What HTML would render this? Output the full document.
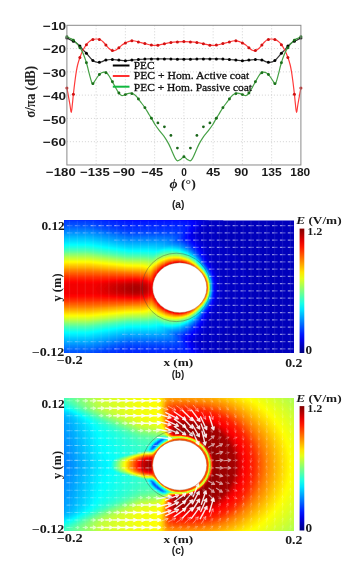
<!DOCTYPE html>
<html><head><meta charset="utf-8"><title>Figure</title>
<style>html,body{margin:0;padding:0;background:#fff;width:342px;height:564px;overflow:hidden}svg{display:block;filter:blur(0.5px)}</style>
</head><body>
<svg width="342" height="564" viewBox="0 0 342 564">
<rect width="342" height="564" fill="#fff"/>
<defs><linearGradient id="jetg" x1="0" y1="0" x2="0" y2="1"><stop offset="0.000" stop-color="#7f0000"/><stop offset="0.050" stop-color="#b20000"/><stop offset="0.100" stop-color="#e50000"/><stop offset="0.150" stop-color="#ff1900"/><stop offset="0.200" stop-color="#ff4c00"/><stop offset="0.250" stop-color="#ff7f00"/><stop offset="0.300" stop-color="#ffb200"/><stop offset="0.350" stop-color="#ffe500"/><stop offset="0.400" stop-color="#e5ff19"/><stop offset="0.450" stop-color="#b2ff4c"/><stop offset="0.500" stop-color="#7fff7f"/><stop offset="0.550" stop-color="#4cffb2"/><stop offset="0.600" stop-color="#19ffe5"/><stop offset="0.650" stop-color="#00e5ff"/><stop offset="0.700" stop-color="#00b2ff"/><stop offset="0.750" stop-color="#007fff"/><stop offset="0.800" stop-color="#004cff"/><stop offset="0.850" stop-color="#0019ff"/><stop offset="0.900" stop-color="#0000e5"/><stop offset="0.950" stop-color="#0000b2"/><stop offset="1.000" stop-color="#00007f"/></linearGradient></defs>
<path d="M96.15 25.30V164.98M125.40 25.30V164.98M154.65 25.30V164.98M183.90 25.30V164.98M213.15 25.30V164.98M242.40 25.30V164.98M271.65 25.30V164.98M66.90 48.58H300.90M66.90 71.86H300.90M66.90 95.14H300.90M66.90 118.42H300.90M66.90 141.70H300.90" stroke="#c8c8c8" stroke-width="0.8" stroke-dasharray="1 2" fill="none"/>
<g fill="none" stroke-linejoin="round">
<path d="M66.90 37.90C67.58 38.28 69.53 39.43 71.00 40.20C72.47 40.97 74.23 41.53 75.70 42.50C77.17 43.47 78.63 44.82 79.80 46.00C80.97 47.18 81.63 48.43 82.70 49.60C83.77 50.77 85.03 51.73 86.20 53.00C87.37 54.27 88.53 55.92 89.70 57.20C90.87 58.48 91.83 59.83 93.20 60.70C94.57 61.57 96.52 62.22 97.90 62.40C99.28 62.58 100.18 62.18 101.50 61.80C102.82 61.42 104.10 60.48 105.80 60.10C107.50 59.72 109.55 59.50 111.70 59.50C113.85 59.50 116.47 59.90 118.70 60.10C120.93 60.30 122.95 60.70 125.10 60.70C127.25 60.70 129.40 60.30 131.60 60.10C133.80 59.90 136.00 59.68 138.30 59.50C140.60 59.32 143.25 59.10 145.40 59.00C147.55 58.90 149.17 58.92 151.20 58.90C153.23 58.88 155.45 58.90 157.60 58.90C159.75 58.90 161.87 58.88 164.10 58.90C166.33 58.92 168.77 58.95 171.00 59.00C173.23 59.05 175.35 59.17 177.50 59.20C179.65 59.23 181.77 59.20 183.90 59.20C186.03 59.20 188.15 59.23 190.30 59.20C192.45 59.17 194.57 59.05 196.80 59.00C199.03 58.95 201.47 58.92 203.70 58.90C205.93 58.88 208.05 58.90 210.20 58.90C212.35 58.90 214.57 58.88 216.60 58.90C218.63 58.92 220.25 58.90 222.40 59.00C224.55 59.10 227.20 59.32 229.50 59.50C231.80 59.68 234.00 59.90 236.20 60.10C238.40 60.30 240.55 60.70 242.70 60.70C244.85 60.70 246.87 60.30 249.10 60.10C251.33 59.90 253.95 59.50 256.10 59.50C258.25 59.50 260.30 59.72 262.00 60.10C263.70 60.48 264.98 61.42 266.30 61.80C267.62 62.18 268.52 62.58 269.90 62.40C271.28 62.22 273.23 61.57 274.60 60.70C275.97 59.83 276.93 58.48 278.10 57.20C279.27 55.92 280.43 54.27 281.60 53.00C282.77 51.73 284.03 50.77 285.10 49.60C286.17 48.43 286.83 47.18 288.00 46.00C289.17 44.82 290.63 43.47 292.10 42.50C293.57 41.53 295.33 40.97 296.80 40.20C298.27 39.43 300.22 38.28 300.90 37.90" stroke="#333" stroke-width="1.2"/>
<path d="M66.90 88.00C67.15 89.33 67.90 93.25 68.40 96.00C68.90 98.75 69.42 101.78 69.90 104.50C70.38 107.22 70.88 112.38 71.30 112.30C71.72 112.22 72.08 106.72 72.40 104.00C72.72 101.28 72.92 98.67 73.20 96.00C73.48 93.33 73.78 90.67 74.10 88.00C74.42 85.33 74.73 82.72 75.10 80.00C75.47 77.28 75.88 74.20 76.30 71.70C76.72 69.20 77.02 67.33 77.60 65.00C78.18 62.67 78.95 60.08 79.80 57.70C80.65 55.32 81.63 52.83 82.70 50.70C83.77 48.57 85.12 46.42 86.20 44.90C87.28 43.38 88.17 42.48 89.20 41.60C90.23 40.72 91.15 40.03 92.40 39.60C93.65 39.17 95.35 38.97 96.70 39.00C98.05 39.03 99.45 39.33 100.50 39.80C101.55 40.27 102.12 40.95 103.00 41.80C103.88 42.65 104.80 43.78 105.80 44.90C106.80 46.02 107.92 47.55 109.00 48.50C110.08 49.45 111.22 50.32 112.30 50.60C113.38 50.88 114.43 50.65 115.50 50.20C116.57 49.75 117.62 48.77 118.70 47.90C119.78 47.03 120.93 45.80 122.00 45.00C123.07 44.20 124.03 43.67 125.10 43.10C126.17 42.53 127.32 41.98 128.40 41.60C129.48 41.22 130.50 40.90 131.60 40.80C132.70 40.70 133.83 40.80 135.00 41.00C136.17 41.20 137.07 41.62 138.60 42.00C140.13 42.38 142.10 42.78 144.20 43.30C146.30 43.82 148.97 44.78 151.20 45.10C153.43 45.42 155.45 45.42 157.60 45.20C159.75 44.98 161.95 44.23 164.10 43.80C166.25 43.37 168.30 42.92 170.50 42.60C172.70 42.28 175.07 42.07 177.30 41.90C179.53 41.73 181.70 41.60 183.90 41.60C186.10 41.60 188.27 41.73 190.50 41.90C192.73 42.07 195.10 42.28 197.30 42.60C199.50 42.92 201.55 43.37 203.70 43.80C205.85 44.23 208.05 44.98 210.20 45.20C212.35 45.42 214.37 45.42 216.60 45.10C218.83 44.78 221.50 43.82 223.60 43.30C225.70 42.78 227.67 42.38 229.20 42.00C230.73 41.62 231.63 41.20 232.80 41.00C233.97 40.80 235.10 40.70 236.20 40.80C237.30 40.90 238.32 41.22 239.40 41.60C240.48 41.98 241.63 42.53 242.70 43.10C243.77 43.67 244.73 44.20 245.80 45.00C246.87 45.80 248.02 47.03 249.10 47.90C250.18 48.77 251.23 49.75 252.30 50.20C253.37 50.65 254.42 50.88 255.50 50.60C256.58 50.32 257.72 49.45 258.80 48.50C259.88 47.55 261.00 46.02 262.00 44.90C263.00 43.78 263.92 42.65 264.80 41.80C265.68 40.95 266.25 40.27 267.30 39.80C268.35 39.33 269.75 39.03 271.10 39.00C272.45 38.97 274.15 39.17 275.40 39.60C276.65 40.03 277.57 40.72 278.60 41.60C279.63 42.48 280.52 43.38 281.60 44.90C282.68 46.42 284.03 48.57 285.10 50.70C286.17 52.83 287.15 55.32 288.00 57.70C288.85 60.08 289.62 62.67 290.20 65.00C290.78 67.33 291.08 69.20 291.50 71.70C291.92 74.20 292.33 77.28 292.70 80.00C293.07 82.72 293.38 85.33 293.70 88.00C294.02 90.67 294.32 93.33 294.60 96.00C294.88 98.67 295.08 101.28 295.40 104.00C295.72 106.72 296.08 112.22 296.50 112.30C296.92 112.38 297.42 107.22 297.90 104.50C298.38 101.78 298.90 98.75 299.40 96.00C299.90 93.25 300.65 89.33 300.90 88.00" stroke="#ff3a3a" stroke-width="1.2"/>
<path d="M66.90 36.70C67.42 36.95 68.92 37.62 70.00 38.20C71.08 38.78 72.07 39.08 73.40 40.20C74.73 41.32 76.65 43.25 78.00 44.90C79.35 46.55 80.52 48.35 81.50 50.10C82.48 51.85 83.22 53.73 83.90 55.40C84.58 57.07 85.05 58.42 85.60 60.10C86.15 61.78 86.68 63.57 87.20 65.50C87.72 67.43 88.15 69.57 88.70 71.70C89.25 73.83 89.87 76.22 90.50 78.30C91.13 80.38 91.85 83.65 92.50 84.20C93.15 84.75 93.75 82.55 94.40 81.60C95.05 80.65 95.62 79.63 96.40 78.50C97.18 77.37 98.22 75.75 99.10 74.80C99.98 73.85 100.80 73.23 101.70 72.80C102.60 72.37 103.62 72.13 104.50 72.20C105.38 72.27 106.18 72.48 107.00 73.20C107.82 73.92 108.62 75.28 109.40 76.50C110.18 77.72 110.73 78.77 111.70 80.50C112.67 82.23 114.07 84.88 115.20 86.90C116.33 88.92 117.45 91.17 118.50 92.60C119.55 94.03 120.50 95.10 121.50 95.50C122.50 95.90 123.47 95.32 124.50 95.00C125.53 94.68 126.68 93.90 127.70 93.60C128.72 93.30 129.57 93.08 130.60 93.20C131.63 93.32 132.90 93.73 133.90 94.30C134.90 94.87 135.55 95.42 136.60 96.60C137.65 97.78 138.83 99.58 140.20 101.40C141.57 103.22 143.30 105.28 144.80 107.50C146.30 109.72 147.98 112.72 149.20 114.70C150.42 116.68 151.13 117.77 152.10 119.40C153.07 121.03 153.78 122.63 155.00 124.50C156.22 126.37 157.83 128.55 159.40 130.60C160.97 132.65 162.83 134.55 164.40 136.80C165.97 139.05 167.47 141.53 168.80 144.10C170.13 146.67 171.30 149.78 172.40 152.20C173.50 154.62 174.53 157.17 175.40 158.60C176.27 160.03 176.75 160.67 177.60 160.80C178.45 160.93 179.45 160.07 180.50 159.40C181.55 158.73 182.77 156.80 183.90 156.80C185.03 156.80 186.25 158.73 187.30 159.40C188.35 160.07 189.35 160.93 190.20 160.80C191.05 160.67 191.53 160.03 192.40 158.60C193.27 157.17 194.30 154.62 195.40 152.20C196.50 149.78 197.67 146.67 199.00 144.10C200.33 141.53 201.83 139.05 203.40 136.80C204.97 134.55 206.83 132.65 208.40 130.60C209.97 128.55 211.58 126.37 212.80 124.50C214.02 122.63 214.73 121.03 215.70 119.40C216.67 117.77 217.38 116.68 218.60 114.70C219.82 112.72 221.50 109.72 223.00 107.50C224.50 105.28 226.23 103.22 227.60 101.40C228.97 99.58 230.15 97.78 231.20 96.60C232.25 95.42 232.90 94.87 233.90 94.30C234.90 93.73 236.17 93.32 237.20 93.20C238.23 93.08 239.08 93.30 240.10 93.60C241.12 93.90 242.27 94.68 243.30 95.00C244.33 95.32 245.30 95.90 246.30 95.50C247.30 95.10 248.25 94.03 249.30 92.60C250.35 91.17 251.47 88.92 252.60 86.90C253.73 84.88 255.13 82.23 256.10 80.50C257.07 78.77 257.62 77.72 258.40 76.50C259.18 75.28 259.98 73.92 260.80 73.20C261.62 72.48 262.42 72.27 263.30 72.20C264.18 72.13 265.20 72.37 266.10 72.80C267.00 73.23 267.82 73.85 268.70 74.80C269.58 75.75 270.62 77.37 271.40 78.50C272.18 79.63 272.75 80.65 273.40 81.60C274.05 82.55 274.65 84.75 275.30 84.20C275.95 83.65 276.67 80.38 277.30 78.30C277.93 76.22 278.55 73.83 279.10 71.70C279.65 69.57 280.08 67.43 280.60 65.50C281.12 63.57 281.65 61.78 282.20 60.10C282.75 58.42 283.22 57.07 283.90 55.40C284.58 53.73 285.32 51.85 286.30 50.10C287.28 48.35 288.45 46.55 289.80 44.90C291.15 43.25 293.07 41.32 294.40 40.20C295.73 39.08 296.72 38.78 297.80 38.20C298.88 37.62 300.38 36.95 300.90 36.70" stroke="#45a045" stroke-width="1.2"/>
</g>
<circle cx="66.90" cy="37.90" r="1.50" fill="#000"/><circle cx="73.40" cy="41.37" r="1.50" fill="#000"/><circle cx="79.90" cy="46.12" r="1.50" fill="#000"/><circle cx="86.40" cy="53.24" r="1.50" fill="#000"/><circle cx="92.90" cy="60.40" r="1.50" fill="#000"/><circle cx="99.40" cy="62.15" r="1.50" fill="#000"/><circle cx="105.90" cy="60.09" r="1.50" fill="#000"/><circle cx="112.40" cy="59.56" r="1.50" fill="#000"/><circle cx="118.90" cy="60.12" r="1.50" fill="#000"/><circle cx="125.40" cy="60.67" r="1.50" fill="#000"/><circle cx="131.90" cy="60.07" r="1.50" fill="#000"/><circle cx="138.40" cy="59.49" r="1.50" fill="#000"/><circle cx="144.90" cy="59.04" r="1.50" fill="#000"/><circle cx="151.40" cy="58.90" r="1.50" fill="#000"/><circle cx="157.90" cy="58.90" r="1.50" fill="#000"/><circle cx="164.40" cy="58.90" r="1.50" fill="#000"/><circle cx="170.90" cy="59.00" r="1.50" fill="#000"/><circle cx="177.40" cy="59.20" r="1.50" fill="#000"/><circle cx="183.90" cy="59.20" r="1.50" fill="#000"/><circle cx="190.40" cy="59.20" r="1.50" fill="#000"/><circle cx="196.90" cy="59.00" r="1.50" fill="#000"/><circle cx="203.40" cy="58.90" r="1.50" fill="#000"/><circle cx="209.90" cy="58.90" r="1.50" fill="#000"/><circle cx="216.40" cy="58.90" r="1.50" fill="#000"/><circle cx="222.90" cy="59.04" r="1.50" fill="#000"/><circle cx="229.40" cy="59.49" r="1.50" fill="#000"/><circle cx="235.90" cy="60.07" r="1.50" fill="#000"/><circle cx="242.40" cy="60.67" r="1.50" fill="#000"/><circle cx="248.90" cy="60.12" r="1.50" fill="#000"/><circle cx="255.40" cy="59.56" r="1.50" fill="#000"/><circle cx="261.90" cy="60.09" r="1.50" fill="#000"/><circle cx="268.40" cy="62.15" r="1.50" fill="#000"/><circle cx="274.90" cy="60.40" r="1.50" fill="#000"/><circle cx="281.40" cy="53.24" r="1.50" fill="#000"/><circle cx="287.90" cy="46.12" r="1.50" fill="#000"/><circle cx="294.40" cy="41.37" r="1.50" fill="#000"/><circle cx="300.90" cy="37.90" r="1.50" fill="#000"/>
<circle cx="66.90" cy="88.00" r="1.50" fill="#d01010"/><circle cx="73.40" cy="94.22" r="1.50" fill="#d01010"/><circle cx="79.90" cy="57.46" r="1.50" fill="#d01010"/><circle cx="86.40" cy="44.68" r="1.50" fill="#d01010"/><circle cx="92.90" cy="39.53" r="1.50" fill="#d01010"/><circle cx="99.40" cy="39.57" r="1.50" fill="#d01010"/><circle cx="105.90" cy="45.01" r="1.50" fill="#d01010"/><circle cx="112.40" cy="50.59" r="1.50" fill="#d01010"/><circle cx="118.90" cy="47.72" r="1.50" fill="#d01010"/><circle cx="125.40" cy="42.96" r="1.50" fill="#d01010"/><circle cx="131.90" cy="40.82" r="1.50" fill="#d01010"/><circle cx="138.40" cy="41.94" r="1.50" fill="#d01010"/><circle cx="144.90" cy="43.48" r="1.50" fill="#d01010"/><circle cx="151.40" cy="45.10" r="1.50" fill="#d01010"/><circle cx="157.90" cy="45.14" r="1.50" fill="#d01010"/><circle cx="164.40" cy="43.74" r="1.50" fill="#d01010"/><circle cx="170.90" cy="42.56" r="1.50" fill="#d01010"/><circle cx="177.40" cy="41.90" r="1.50" fill="#d01010"/><circle cx="183.90" cy="41.60" r="1.50" fill="#d01010"/><circle cx="190.40" cy="41.90" r="1.50" fill="#d01010"/><circle cx="196.90" cy="42.56" r="1.50" fill="#d01010"/><circle cx="203.40" cy="43.74" r="1.50" fill="#d01010"/><circle cx="209.90" cy="45.14" r="1.50" fill="#d01010"/><circle cx="216.40" cy="45.10" r="1.50" fill="#d01010"/><circle cx="222.90" cy="43.48" r="1.50" fill="#d01010"/><circle cx="229.40" cy="41.94" r="1.50" fill="#d01010"/><circle cx="235.90" cy="40.82" r="1.50" fill="#d01010"/><circle cx="242.40" cy="42.96" r="1.50" fill="#d01010"/><circle cx="248.90" cy="47.72" r="1.50" fill="#d01010"/><circle cx="255.40" cy="50.59" r="1.50" fill="#d01010"/><circle cx="261.90" cy="45.01" r="1.50" fill="#d01010"/><circle cx="268.40" cy="39.57" r="1.50" fill="#d01010"/><circle cx="274.90" cy="39.53" r="1.50" fill="#d01010"/><circle cx="281.40" cy="44.68" r="1.50" fill="#d01010"/><circle cx="287.90" cy="57.46" r="1.50" fill="#d01010"/><circle cx="294.40" cy="94.22" r="1.50" fill="#d01010"/><circle cx="300.90" cy="88.00" r="1.50" fill="#d01010"/>
<circle cx="66.90" cy="36.70" r="1.45" fill="#1a701a"/><circle cx="73.40" cy="40.20" r="1.45" fill="#1a701a"/><circle cx="79.90" cy="47.72" r="1.45" fill="#1a701a"/><circle cx="86.40" cy="62.80" r="1.45" fill="#1a701a"/><circle cx="92.90" cy="83.65" r="1.45" fill="#1a701a"/><circle cx="99.40" cy="74.57" r="1.45" fill="#1a701a"/><circle cx="105.90" cy="72.76" r="1.45" fill="#1a701a"/><circle cx="112.40" cy="81.78" r="1.45" fill="#1a701a"/><circle cx="118.90" cy="92.99" r="1.45" fill="#1a701a"/><circle cx="125.40" cy="94.61" r="1.45" fill="#1a701a"/><circle cx="131.90" cy="93.63" r="1.45" fill="#1a701a"/><circle cx="138.40" cy="99.00" r="1.45" fill="#1a701a"/><circle cx="144.90" cy="107.66" r="1.45" fill="#1a701a"/><circle cx="151.40" cy="118.27" r="1.45" fill="#1a701a"/><circle cx="183.90" cy="156.80" r="1.45" fill="#1a701a"/><circle cx="216.40" cy="118.27" r="1.45" fill="#1a701a"/><circle cx="222.90" cy="107.66" r="1.45" fill="#1a701a"/><circle cx="229.40" cy="99.00" r="1.45" fill="#1a701a"/><circle cx="235.90" cy="93.63" r="1.45" fill="#1a701a"/><circle cx="242.40" cy="94.61" r="1.45" fill="#1a701a"/><circle cx="248.90" cy="92.99" r="1.45" fill="#1a701a"/><circle cx="255.40" cy="81.78" r="1.45" fill="#1a701a"/><circle cx="261.90" cy="72.76" r="1.45" fill="#1a701a"/><circle cx="268.40" cy="74.57" r="1.45" fill="#1a701a"/><circle cx="274.90" cy="83.65" r="1.45" fill="#1a701a"/><circle cx="281.40" cy="62.80" r="1.45" fill="#1a701a"/><circle cx="287.90" cy="47.72" r="1.45" fill="#1a701a"/><circle cx="294.40" cy="40.20" r="1.45" fill="#1a701a"/><circle cx="300.90" cy="36.70" r="1.45" fill="#1a701a"/>
<circle cx="157.90" cy="122.90" r="1.4" fill="#1a661a"/>
<circle cx="164.40" cy="126.80" r="1.4" fill="#1a661a"/>
<circle cx="170.90" cy="135.40" r="1.4" fill="#1a661a"/>
<circle cx="177.40" cy="148.10" r="1.4" fill="#1a661a"/>
<circle cx="190.40" cy="148.10" r="1.4" fill="#1a661a"/>
<circle cx="196.90" cy="135.40" r="1.4" fill="#1a661a"/>
<circle cx="203.40" cy="126.80" r="1.4" fill="#1a661a"/>
<circle cx="209.90" cy="122.90" r="1.4" fill="#1a661a"/>
<rect x="66.90" y="25.30" width="234.00" height="139.68" fill="none" stroke="#8a8a8a" stroke-width="1"/>
<path d="M112.8 65.5H129.5" stroke="#000" stroke-width="2"/>
<path d="M112.8 76H129.5" stroke="#ff3030" stroke-width="2"/>
<path d="M112.8 86.7H129.5" stroke="#10b840" stroke-width="2"/>
<g font-family="Liberation Serif" font-size="11" fill="#111" stroke="#111" stroke-width="0.3">
<text x="133.8" y="68.9" textLength="20.7" lengthAdjust="spacingAndGlyphs">PEC</text>
<text x="133.8" y="79.4" textLength="115.4" lengthAdjust="spacingAndGlyphs">PEC + Hom. Active coat</text>
<text x="133.8" y="90.5" textLength="118.2" lengthAdjust="spacingAndGlyphs">PEC + Hom. Passive coat</text>
</g>
<g font-family="Liberation Sans" font-weight="bold" font-size="11.6" fill="#1a1a1a">
<text x="43.0" y="30.4" textLength="23.0" lengthAdjust="spacingAndGlyphs">−10</text>
<text x="43.0" y="53.0" textLength="23.0" lengthAdjust="spacingAndGlyphs">−20</text>
<text x="43.0" y="77.2" textLength="23.0" lengthAdjust="spacingAndGlyphs">−30</text>
<text x="43.0" y="99.9" textLength="23.0" lengthAdjust="spacingAndGlyphs">−40</text>
<text x="43.0" y="123.8" textLength="23.0" lengthAdjust="spacingAndGlyphs">−50</text>
<text x="43.0" y="146.2" textLength="23.0" lengthAdjust="spacingAndGlyphs">−60</text>
<text x="46.1" y="176.2" textLength="29.6" lengthAdjust="spacingAndGlyphs">−180</text>
<text x="80.2" y="176.2" textLength="29.5" lengthAdjust="spacingAndGlyphs">−135</text>
<text x="112.9" y="176.2" textLength="22.2" lengthAdjust="spacingAndGlyphs">−90</text>
<text x="141.6" y="176.2" textLength="21.6" lengthAdjust="spacingAndGlyphs">−45</text>
<text x="181.2" y="176.2" textLength="5.6" lengthAdjust="spacingAndGlyphs">0</text>
<text x="206.3" y="176.2" textLength="14.0" lengthAdjust="spacingAndGlyphs">45</text>
<text x="234.3" y="176.2" textLength="14.1" lengthAdjust="spacingAndGlyphs">90</text>
<text x="261.5" y="176.2" textLength="20.1" lengthAdjust="spacingAndGlyphs">135</text>
<text x="290.3" y="176.2" textLength="19.9" lengthAdjust="spacingAndGlyphs">180</text>
</g>
<text x="169.5" y="188.3" font-family="Liberation Serif" font-weight="bold" font-size="12" textLength="26.3" lengthAdjust="spacingAndGlyphs" fill="#1a1a1a"><tspan font-style="italic">ϕ</tspan> (°)</text>
<text transform="translate(35.4,117.8) rotate(-90)" font-family="Liberation Serif" font-weight="bold" font-size="14" textLength="51.8" lengthAdjust="spacingAndGlyphs" fill="#222">σ/πa (dB)</text>
<text x="171.9" y="207.6" font-family="Liberation Sans" font-weight="bold" font-size="10.5" textLength="12.5" lengthAdjust="spacingAndGlyphs" fill="#222">(a)</text>
<clipPath id="clipb"><rect x="64.6" y="220.4" width="229.4" height="132.6"/></clipPath>
<g clip-path="url(#clipb)">
<g><rect x="63" y="219" width="232" height="135" fill="#0000bb"/><path fill="#0000c3" fill-rule="evenodd" d="M222.5 353.5L63.5 353.6L63.1 293.5L63.4 219.5L223.1 219.5L223.8 223.5L215.7 234.5L219.5 241.0L232.9 251.5L237.6 256.5L241.3 261.5L244.7 267.5L247.2 273.5L249.2 280.5L250.3 287.5L249.3 294.5L247.7 300.5L244.9 307.5L241.5 313.5L237.9 318.5L233.3 323.5L219.5 334.4L215.5 341.4L215.2 342.5L222.8 352.5L222.5 353.5Z"/><path fill="#0000cb" fill-rule="evenodd" d="M207.5 353.5L63.5 353.6L63.1 293.5L63.4 219.5L208.5 219.5L209.3 223.5L202.0 233.5L207.1 244.5L211.0 256.5L215.1 262.5L219.2 270.5L222.2 279.5L223.9 287.5L222.1 296.5L219.3 304.5L215.9 311.5L211.2 318.5L206.9 331.5L201.4 342.5L201.5 343.5L203.5 346.4L208.3 352.5L208.3 353.5L207.5 353.5Z"/><path fill="#0000d3" fill-rule="evenodd" d="M204.5 353.5L63.5 353.6L63.1 293.5L63.4 219.5L204.6 219.5L205.5 223.5L200.3 230.5L198.2 234.5L205.0 246.5L209.2 258.5L213.3 264.5L216.1 270.5L218.3 278.5L218.8 289.5L218.2 297.5L215.9 305.5L212.9 311.5L209.0 317.5L206.8 324.5L203.7 331.5L197.3 342.5L204.5 352.5L204.5 353.5Z"/><path fill="#0000db" fill-rule="evenodd" d="M201.5 353.5L63.5 353.6L63.1 293.5L63.4 219.5L202.0 219.5L202.9 223.5L195.4 234.5L203.0 246.5L205.8 252.5L208.2 259.5L212.2 265.5L215.0 271.5L217.1 280.5L217.2 291.5L216.3 299.5L214.0 306.5L207.9 316.5L206.0 322.5L202.2 330.5L194.6 341.5L198.2 347.5L202.1 352.5L202.1 353.5L201.5 353.5Z"/><path fill="#0000e3" fill-rule="evenodd" d="M199.5 353.5L63.5 353.6L63.1 293.5L63.4 219.5L199.9 219.5L200.9 223.5L193.6 234.5L193.5 235.5L198.3 241.5L202.1 247.5L205.0 253.5L207.5 260.3L211.1 265.5L214.1 271.5L216.1 279.5L216.3 291.5L215.4 299.5L213.0 306.5L207.2 315.5L204.8 322.5L201.2 329.5L193.0 340.5L192.8 341.5L193.5 342.8L200.1 352.5L200.1 353.5L199.5 353.5Z"/><path fill="#0000eb" fill-rule="evenodd" d="M197.5 353.5L63.4 353.5L63.1 284.5L63.5 219.4L197.9 219.5L199.1 223.5L198.8 224.5L191.7 235.5L200.8 247.5L204.1 253.5L206.7 260.5L210.3 265.5L212.9 270.5L215.2 278.5L215.7 291.5L215.0 298.5L212.2 306.5L206.9 314.5L204.2 321.5L200.5 328.4L196.2 334.5L190.9 340.5L194.8 347.5L198.4 352.5L198.4 353.5L197.5 353.5Z"/><path fill="#0000f3" fill-rule="evenodd" d="M196.5 353.5L63.4 353.5L63.1 284.5L63.5 219.4L195.9 219.5L195.9 220.5L197.4 223.5L197.1 224.5L190.9 234.5L190.5 236.5L195.5 241.8L199.7 247.5L203.2 253.5L206.5 261.4L211.3 268.5L214.1 275.5L215.2 283.5L215.0 295.5L213.9 300.5L212.0 305.5L206.2 314.5L203.9 320.5L200.0 327.5L195.5 333.6L189.8 339.5L189.6 340.5L191.2 343.5L196.7 352.5L196.5 353.5Z"/><path fill="#0000fb" fill-rule="evenodd" d="M194.5 353.5L63.4 353.5L63.1 284.5L63.5 219.4L193.8 219.5L193.8 220.5L195.7 223.5L195.5 224.5L188.9 236.5L194.5 242.2L199.5 248.6L203.0 254.5L206.0 261.5L210.8 268.5L213.9 276.5L214.8 283.5L214.4 296.5L212.0 304.5L209.2 309.5L206.2 313.5L203.2 320.5L199.5 326.8L194.5 333.2L188.1 339.5L192.0 347.5L195.1 352.5L195.1 353.5L194.5 353.5Z"/><path fill="#0004ff" fill-rule="evenodd" d="M192.5 353.5L63.4 353.5L63.1 284.5L63.5 219.5L191.3 219.5L191.3 220.5L193.8 223.5L193.7 224.5L187.8 236.5L188.2 237.5L194.5 243.5L199.2 249.5L202.9 255.5L205.5 261.7L210.3 268.5L213.2 275.5L214.4 283.5L214.0 296.5L211.0 305.5L205.6 313.5L203.1 319.5L198.8 326.5L194.5 331.9L187.5 338.5L187.0 339.5L193.5 352.5L193.5 353.5L192.5 353.5Z"/><path fill="#000cff" fill-rule="evenodd" d="M191.5 353.5L63.4 353.5L63.1 284.5L63.5 219.5L187.8 219.5L187.8 220.5L191.5 223.3L191.5 225.5L186.7 237.5L194.5 244.6L201.5 254.1L205.5 262.5L209.3 267.5L211.8 272.5L213.8 279.5L214.2 284.5L213.7 296.5L212.0 302.5L210.1 306.5L205.2 313.5L202.0 320.5L198.0 326.5L192.5 332.8L185.9 338.5L191.3 351.5L191.5 353.5Z"/><path fill="#0014ff" fill-rule="evenodd" d="M188.5 353.5L63.4 353.5L63.1 284.5L63.5 219.5L179.2 219.5L179.2 220.5L184.5 221.4L188.9 223.5L189.4 224.5L189.2 226.5L185.5 237.5L192.5 243.6L197.5 249.2L201.7 255.5L205.1 262.5L210.0 269.5L211.9 273.5L213.3 278.5L213.9 283.5L213.9 291.5L213.2 297.5L211.2 303.5L209.1 307.5L204.8 313.5L200.8 321.5L193.8 330.5L184.8 338.5L189.3 351.5L189.5 353.5L188.5 353.5Z"/><path fill="#001cff" fill-rule="evenodd" d="M185.5 353.5L63.5 353.5L63.1 284.5L63.5 219.5L121.6 219.5L121.6 220.5L128.5 222.0L174.5 222.2L182.5 223.1L186.0 224.5L186.7 225.5L186.9 227.5L184.6 237.5L185.0 238.5L193.5 245.5L197.5 250.1L201.8 256.5L204.7 262.5L209.7 269.5L212.0 274.5L213.1 278.5L213.7 290.5L212.9 297.5L210.9 303.5L208.1 308.5L204.9 312.5L200.9 320.5L193.5 329.9L184.2 337.5L183.9 338.5L185.9 344.5L186.9 350.5L186.5 353.5L185.5 353.5Z"/><path fill="#0024ff" fill-rule="evenodd" d="M180.5 353.5L63.5 353.5L63.1 288.5L63.5 219.5L113.0 219.5L113.0 220.5L128.5 224.0L173.5 224.3L180.5 225.1L183.5 226.5L184.5 228.5L184.7 231.5L183.6 238.5L191.5 244.5L197.5 250.9L210.9 272.5L213.2 280.5L213.4 291.5L212.9 296.5L211.1 302.5L208.4 307.5L204.5 312.5L199.7 321.5L192.5 330.0L182.8 337.5L184.7 344.5L184.4 349.5L183.0 351.5L180.7 352.5L180.5 353.5Z"/><path fill="#002cff" fill-rule="evenodd" d="M123.5 353.5L63.5 353.5L63.1 288.5L63.5 219.5L104.4 219.5L104.4 220.5L128.5 226.1L168.5 226.2L175.5 226.6L179.4 227.5L181.0 228.5L183.0 231.5L183.2 235.5L182.5 238.5L191.5 245.3L197.5 251.6L200.9 256.5L204.5 263.3L209.1 269.5L211.0 273.5L212.8 279.5L213.3 284.5L213.0 294.5L211.2 301.5L208.7 306.5L204.2 312.5L201.2 318.5L197.5 323.8L191.5 330.1L181.9 337.5L183.1 341.5L183.2 345.5L180.5 349.5L176.5 350.8L170.5 351.4L128.5 351.5L123.6 352.5L123.5 353.5Z"/><path fill="#0034ff" fill-rule="evenodd" d="M113.5 353.5L63.5 353.5L63.1 288.5L63.5 219.5L95.8 219.5L95.8 220.5L127.5 228.0L167.5 228.2L173.5 228.7L177.5 229.7L180.5 231.3L181.5 232.5L182.0 235.5L181.7 238.5L182.4 239.5L191.5 246.0L198.5 253.6L204.3 263.5L208.8 269.5L211.2 274.5L212.9 281.5L213.1 290.5L212.7 295.5L211.0 301.5L207.8 307.5L204.5 311.6L200.8 318.5L196.5 324.3L189.5 331.0L181.4 336.5L182.0 342.5L181.5 345.0L180.5 346.3L175.7 348.5L170.5 349.2L127.5 349.6L114.4 352.5L114.4 353.5L113.5 353.5Z"/><path fill="#003cff" fill-rule="evenodd" d="M104.5 353.5L63.5 353.5L63.1 288.5L63.5 220.6L88.5 220.7L107.0 225.5L128.5 230.0L167.5 230.2L174.5 230.8L178.5 232.0L180.0 233.5L180.8 235.5L181.0 239.5L189.5 245.1L196.5 251.8L200.5 257.1L204.0 263.5L207.9 268.5L211.0 274.5L212.8 282.5L212.9 292.5L211.1 300.5L208.2 306.5L204.3 311.5L199.5 319.8L195.5 324.8L188.5 331.1L180.1 336.5L181.0 340.5L180.7 342.5L179.5 344.8L177.5 346.1L173.5 346.9L167.5 347.3L128.5 347.5L105.3 352.5L105.3 353.5L104.5 353.5Z"/><path fill="#0044ff" fill-rule="evenodd" d="M99.5 353.5L63.5 353.5L63.1 288.5L63.5 222.1L88.5 222.2L127.5 231.2L167.5 231.5L173.5 232.0L177.5 233.4L179.5 235.7L179.7 239.5L189.5 245.7L197.5 253.6L201.0 258.5L203.7 263.5L208.3 269.5L210.8 274.5L212.6 282.5L212.7 292.5L211.3 299.5L207.9 306.5L204.0 311.5L199.5 319.2L194.5 325.2L187.5 331.1L179.5 336.1L179.7 341.5L178.5 343.3L176.5 344.8L172.5 345.8L166.5 346.2L127.5 346.4L100.0 352.5L100.0 353.5L99.5 353.5Z"/><path fill="#004cff" fill-rule="evenodd" d="M94.5 353.5L63.5 353.5L63.1 288.5L63.5 223.4L87.5 223.4L127.5 232.3L167.5 232.6L173.5 233.4L177.5 235.3L178.5 236.6L178.8 239.5L190.5 247.1L197.8 254.5L203.5 263.6L208.6 270.5L211.8 278.5L212.5 283.5L212.6 291.5L211.1 299.5L208.3 305.5L203.6 311.5L199.5 318.7L195.5 323.6L190.5 328.3L183.5 333.1L178.5 335.5L178.5 341.0L177.2 342.5L174.5 343.9L164.5 345.1L127.5 345.3L94.9 352.5L94.5 353.5Z"/><path fill="#0054ff" fill-rule="evenodd" d="M89.5 353.5L63.5 353.5L63.1 288.5L63.5 224.7L88.5 224.8L109.5 229.7L128.5 233.5L161.5 233.6L171.5 234.4L176.5 236.2L177.5 237.5L178.2 240.5L186.5 244.8L194.5 251.3L199.5 257.2L203.5 264.0L207.8 269.5L210.0 273.5L212.1 280.5L212.5 290.5L211.2 298.5L208.7 304.5L203.4 311.5L199.3 318.5L193.5 325.1L185.5 331.2L177.5 335.5L177.8 338.5L177.3 340.5L175.5 342.1L173.5 342.9L163.5 343.9L127.5 344.2L93.8 351.5L89.7 352.5L89.5 353.5Z"/><path fill="#005cff" fill-rule="evenodd" d="M88.5 351.6L63.5 351.7L63.1 288.5L63.5 225.9L88.5 226.0L107.7 230.5L128.5 234.6L161.5 234.7L172.1 235.5L174.5 236.3L176.0 237.5L176.9 240.5L182.5 243.0L187.5 246.1L192.5 249.9L196.5 253.9L200.1 258.5L203.5 264.3L206.9 268.5L210.2 274.5L212.1 281.5L212.3 291.5L211.1 298.5L207.9 305.5L203.2 311.5L198.5 319.1L192.5 325.5L184.5 331.2L177.4 334.5L176.7 335.5L176.4 339.5L174.5 341.3L172.5 342.0L162.5 342.9L127.5 343.2L88.5 351.6Z"/><path fill="#0064ff" fill-rule="evenodd" d="M88.5 350.6L63.5 350.7L63.1 288.5L63.5 226.9L88.5 227.0L109.5 231.8L128.5 235.4L160.5 235.5L170.5 236.2L174.5 237.8L176.5 241.1L181.5 243.1L188.5 247.3L196.5 254.4L199.8 258.5L203.4 264.5L206.7 268.5L210.0 274.5L212.0 281.5L212.2 291.5L210.9 298.5L208.3 304.5L203.0 311.5L198.5 318.6L192.5 325.0L183.5 331.2L175.8 334.5L175.5 338.5L173.5 340.5L171.5 341.2L161.5 342.1L127.5 342.3L88.5 350.6Z"/><path fill="#006cff" fill-rule="evenodd" d="M88.5 349.7L63.5 349.8L63.1 288.5L63.5 227.8L88.5 227.9L128.5 236.2L159.5 236.3L169.5 237.0L173.4 238.5L175.2 241.5L180.5 243.2L187.5 247.1L192.5 250.9L196.5 254.8L207.2 269.5L209.9 274.5L212.0 282.5L212.1 291.5L211.1 297.5L208.1 304.5L198.5 318.2L192.5 324.5L183.5 330.7L175.5 333.9L174.9 334.5L174.9 336.5L174.0 338.5L170.5 340.4L160.5 341.3L127.5 341.5L88.5 349.7Z"/><path fill="#0074ff" fill-rule="evenodd" d="M89.5 348.5L63.5 348.9L63.5 228.7L88.5 228.8L128.5 237.0L158.5 237.1L168.5 237.8L172.5 239.3L174.5 241.9L180.5 243.7L187.5 247.6L192.5 251.3L197.5 256.4L202.9 264.5L207.0 269.5L209.7 274.5L211.8 282.5L212.0 291.5L210.9 297.5L207.9 304.5L198.5 317.8L192.5 324.1L182.5 330.7L179.5 332.1L174.3 333.5L173.2 337.5L171.5 338.9L169.5 339.6L159.5 340.5L127.5 340.7L89.5 348.5Z"/><path fill="#007cff" fill-rule="evenodd" d="M89.5 347.6L63.5 347.9L63.5 229.7L88.5 229.8L128.5 237.8L157.5 237.9L167.5 238.6L171.5 240.1L173.5 242.3L179.5 243.8L186.5 247.4L192.5 251.7L197.5 256.8L202.7 264.5L206.8 269.5L210.0 275.5L211.7 282.5L211.8 291.5L210.8 297.5L207.7 304.5L198.5 317.4L192.5 323.7L187.5 327.3L182.5 330.2L173.5 333.2L172.5 336.5L170.5 338.1L168.5 338.8L159.5 339.6L127.5 339.9L89.5 347.6Z"/><path fill="#0083ff" fill-rule="evenodd" d="M89.5 346.7L63.5 347.0L63.5 230.6L88.5 230.7L127.5 238.5L159.5 238.8L168.5 239.9L170.5 240.8L172.5 242.8L178.5 244.1L182.5 245.7L191.5 251.3L197.5 257.2L207.3 270.5L210.2 276.5L211.7 283.5L211.6 292.5L210.0 299.5L206.9 305.5L202.8 310.5L198.1 317.5L192.5 323.3L187.5 326.9L179.5 331.0L173.3 332.5L172.5 333.0L170.9 336.5L166.5 338.2L157.5 338.9L127.5 339.1L89.5 346.7Z"/><path fill="#008bff" fill-rule="evenodd" d="M89.5 345.7L63.5 346.1L63.5 231.5L88.5 231.6L127.5 239.4L157.5 239.6L167.0 240.5L171.5 243.0L180.5 245.3L190.5 250.9L197.5 257.5L207.1 270.5L210.1 276.5L211.5 282.5L211.6 291.5L210.2 298.5L206.7 305.5L202.5 310.5L198.5 316.7L193.5 322.0L188.5 325.8L179.5 330.5L171.5 332.5L170.2 335.5L166.5 337.2L157.5 338.0L127.5 338.3L89.5 345.7Z"/><path fill="#0093ff" fill-rule="evenodd" d="M90.5 344.6L87.5 345.1L63.5 345.1L63.5 232.5L88.5 232.6L127.5 240.1L157.5 240.4L166.5 241.4L170.1 243.5L180.5 245.7L190.5 251.3L197.5 257.9L207.0 270.5L210.0 276.5L211.4 282.5L211.4 292.5L210.1 298.5L207.2 304.5L202.4 310.5L198.5 316.3L193.5 321.6L187.5 326.1L179.5 330.1L171.5 331.8L168.5 335.4L165.3 336.5L156.5 337.2L127.5 337.5L90.5 344.6Z"/><path fill="#009bff" fill-rule="evenodd" d="M90.5 343.7L87.5 344.2L63.5 344.2L63.5 233.4L87.5 233.4L127.5 240.9L160.5 241.4L165.5 242.1L169.5 243.9L177.5 245.2L184.5 248.0L192.5 253.3L197.8 258.5L206.8 270.5L209.8 276.5L211.3 282.5L211.4 291.5L210.0 298.5L207.1 304.5L198.5 316.0L193.5 321.3L188.5 325.1L179.5 329.6L169.9 331.5L167.7 334.5L164.5 335.7L155.5 336.5L127.5 336.7L90.5 343.7Z"/><path fill="#00a3ff" fill-rule="evenodd" d="M91.5 342.6L87.5 343.3L63.5 343.3L63.5 234.3L87.5 234.3L127.5 241.7L159.5 242.2L164.5 242.9L167.5 244.2L178.5 245.9L186.5 249.5L193.5 254.5L198.5 259.7L207.3 271.5L210.1 277.5L211.3 283.5L211.2 292.5L209.8 298.5L206.9 304.5L197.8 316.5L192.5 321.8L187.5 325.3L179.5 329.2L169.5 331.0L167.2 333.5L163.5 334.9L154.5 335.7L127.5 335.9L91.5 342.6Z"/><path fill="#00abff" fill-rule="evenodd" d="M91.5 341.7L87.5 342.4L63.5 342.4L63.5 235.2L87.5 235.2L127.5 242.5L158.5 242.9L162.9 243.5L166.5 244.7L178.5 246.4L186.5 249.9L193.5 254.8L198.5 260.0L207.1 271.5L209.9 277.5L211.2 283.5L211.1 292.5L209.7 298.5L206.8 304.5L198.5 315.4L193.5 320.6L187.5 324.9L179.5 328.8L168.4 330.5L165.5 333.2L162.5 334.2L153.5 334.9L127.5 335.1L91.5 341.7Z"/><path fill="#00b3ff" fill-rule="evenodd" d="M92.5 340.6L87.5 341.5L63.5 341.5L63.5 236.1L87.5 236.1L127.5 243.3L157.5 243.7L165.5 245.3L172.5 245.7L178.5 246.8L186.5 250.2L193.5 255.1L198.5 260.3L207.0 271.5L209.8 277.5L211.0 282.5L211.1 291.5L210.0 297.5L206.6 304.5L198.5 315.1L193.5 320.3L188.5 324.0L179.5 328.4L167.5 330.2L164.6 332.5L161.5 333.4L152.5 334.1L127.5 334.3L92.5 340.6Z"/><path fill="#00bbff" fill-rule="evenodd" d="M87.5 340.6L63.5 340.6L63.5 237.0L87.5 237.0L127.5 244.1L156.5 244.5L164.5 245.8L171.5 246.0L178.5 247.2L187.5 251.1L194.5 256.3L199.2 261.5L208.0 273.5L210.0 278.5L211.1 284.5L210.9 292.5L209.1 299.5L205.8 305.5L197.5 316.0L192.5 320.8L186.5 324.8L178.5 328.2L166.5 329.7L164.2 331.5L160.5 332.7L151.5 333.3L127.5 333.5L87.5 340.6Z"/><path fill="#00c3ff" fill-rule="evenodd" d="M88.5 339.6L63.5 339.7L63.5 237.9L87.5 237.9L127.5 244.9L154.5 245.2L162.5 246.4L172.5 246.5L178.5 247.6L186.5 250.9L193.5 255.7L198.5 260.8L207.9 273.5L209.9 278.5L211.0 284.5L210.8 292.5L209.0 299.5L205.6 305.5L197.5 315.7L192.5 320.5L187.5 323.9L179.5 327.6L173.5 328.8L165.5 329.3L162.5 331.2L159.5 331.9L151.5 332.5L127.5 332.7L88.5 339.6Z"/><path fill="#00cbff" fill-rule="evenodd" d="M88.5 338.7L63.5 338.8L63.5 238.8L87.5 238.8L127.5 245.6L153.5 245.9L161.5 246.9L171.5 246.8L178.5 247.9L186.5 251.2L193.5 256.0L198.5 261.1L207.8 273.5L210.1 279.5L211.0 285.5L210.8 292.5L208.9 299.5L206.2 304.5L197.5 315.5L192.5 320.2L186.5 324.2L179.5 327.2L172.5 328.5L164.5 328.7L162.5 330.1L158.5 331.2L127.5 332.0L88.5 338.7Z"/><path fill="#00d3ff" fill-rule="evenodd" d="M89.5 337.6L63.5 337.9L63.5 239.7L88.5 239.8L127.5 246.4L151.5 246.6L160.5 247.6L169.5 247.1L178.5 248.3L186.5 251.6L193.5 256.3L198.5 261.3L207.6 273.5L210.0 279.5L210.9 285.5L210.7 292.5L208.8 299.5L206.1 304.5L197.5 315.2L192.5 320.0L186.5 323.9L178.5 327.1L171.5 328.2L164.5 328.1L160.5 329.9L157.5 330.5L127.5 331.2L89.5 337.6Z"/><path fill="#00dbff" fill-rule="evenodd" d="M90.5 336.6L87.5 337.1L63.5 337.1L63.5 240.5L88.5 240.6L128.5 247.2L150.5 247.4L159.5 248.3L169.5 247.5L178.5 248.7L186.5 251.9L193.5 256.5L198.5 261.6L207.5 273.5L209.9 279.5L210.7 284.5L210.7 291.5L209.1 298.5L205.9 304.5L197.5 315.0L192.5 319.7L187.5 323.0L180.5 326.2L174.5 327.5L162.5 327.7L159.5 329.2L153.5 330.1L127.5 330.5L90.5 336.6Z"/><path fill="#00e3ff" fill-rule="evenodd" d="M91.5 335.6L87.5 336.2L63.5 336.2L63.5 241.4L88.5 241.5L128.5 247.9L149.5 248.1L158.5 248.9L169.5 247.9L178.5 249.0L186.5 252.1L193.5 256.8L197.5 260.7L204.5 269.2L207.9 274.5L210.1 280.5L210.7 286.5L210.2 294.5L208.1 300.5L205.1 305.5L196.5 315.8L191.5 320.2L186.5 323.3L179.5 326.2L174.5 327.1L168.5 327.5L162.5 327.1L158.5 328.6L152.5 329.4L127.5 329.7L91.5 335.6Z"/><path fill="#00ebff" fill-rule="evenodd" d="M92.5 334.5L87.5 335.4L63.5 335.4L63.5 242.2L88.5 242.3L128.5 248.7L148.5 248.8L157.5 249.6L169.5 248.3L178.5 249.3L186.5 252.4L193.5 257.0L197.5 260.9L204.5 269.3L207.8 274.5L210.0 280.5L210.6 286.5L210.1 294.5L208.0 300.5L205.0 305.5L196.5 315.6L191.5 319.9L186.5 323.0L179.5 325.8L174.5 326.8L168.5 327.1L161.5 326.5L157.5 327.9L152.5 328.6L127.5 329.0L92.5 334.5Z"/><path fill="#00f3ff" fill-rule="evenodd" d="M87.5 334.5L63.5 334.5L63.5 243.1L88.5 243.2L128.5 249.4L148.5 249.6L156.5 250.3L163.5 249.0L169.5 248.7L178.5 249.7L186.5 252.7L193.5 257.3L197.5 261.1L204.5 269.5L207.7 274.5L209.9 280.5L210.5 285.5L210.2 293.5L208.4 299.5L204.8 305.5L197.5 314.3L192.5 318.9L186.5 322.7L180.5 325.2L174.5 326.4L168.5 326.7L160.5 326.0L156.5 327.3L151.5 327.9L127.5 328.3L87.5 334.5Z"/><path fill="#00fbff" fill-rule="evenodd" d="M88.5 333.6L63.5 333.7L63.5 243.9L88.5 244.0L128.5 250.1L146.5 250.3L156.5 250.9L163.5 249.5L169.5 249.0L178.5 250.0L186.5 253.0L194.5 258.4L204.5 269.7L208.1 275.5L210.0 281.5L210.5 289.5L209.9 294.5L207.8 300.5L204.7 305.5L196.5 315.1L190.5 320.1L185.5 322.9L179.5 325.2L174.5 326.1L167.5 326.3L160.5 325.4L150.5 327.2L127.5 327.5L88.5 333.6Z"/><path fill="#04fffb" fill-rule="evenodd" d="M89.5 332.6L63.5 332.9L63.5 244.7L88.5 244.8L128.5 250.8L147.5 250.9L155.5 251.6L167.5 249.5L178.5 250.3L186.5 253.2L193.5 257.8L197.5 261.6L204.2 269.5L208.0 275.5L210.0 281.5L210.4 286.5L210.0 293.5L208.2 299.5L204.6 305.5L196.5 314.9L191.5 319.2L186.5 322.2L179.5 324.9L174.5 325.7L167.5 325.9L159.5 325.0L151.5 326.4L127.5 326.9L89.5 332.6Z"/><path fill="#0cfff3" fill-rule="evenodd" d="M91.5 331.6L87.5 332.2L63.5 332.2L63.5 245.4L87.5 245.4L128.5 251.4L155.5 252.1L161.5 250.6L167.5 249.8L173.5 249.9L178.5 250.6L186.5 253.5L193.5 258.0L197.5 261.8L204.1 269.5L207.9 275.5L209.9 281.5L210.4 286.5L210.0 293.5L208.1 299.5L205.2 304.5L196.5 314.7L191.5 319.0L186.5 321.9L180.5 324.3L174.5 325.4L167.5 325.6L159.5 324.4L150.5 325.9L127.5 326.3L91.5 331.6Z"/><path fill="#14ffeb" fill-rule="evenodd" d="M87.5 331.5L63.5 331.5L63.5 246.1L88.5 246.1L128.5 252.0L146.5 252.1L154.5 252.7L161.5 251.0L167.5 250.2L173.5 250.2L178.5 250.9L187.5 254.3L194.5 259.0L204.0 269.5L207.8 275.5L209.8 281.5L210.3 286.5L209.9 293.5L208.0 299.5L204.5 305.3L196.5 314.5L191.5 318.7L185.5 322.1L179.5 324.3L172.5 325.3L165.5 325.1L158.5 323.9L150.5 325.3L127.5 325.7L87.5 331.5Z"/><path fill="#1cffe3" fill-rule="evenodd" d="M90.5 330.5L87.5 330.9L63.5 330.9L63.5 246.7L88.5 246.8L128.5 252.5L146.5 252.6L154.5 253.3L160.5 251.6L166.5 250.6L172.5 250.5L178.5 251.2L186.5 254.0L194.5 259.3L203.9 269.5L207.7 275.5L209.7 281.5L210.2 286.5L209.8 293.5L207.9 299.5L204.5 305.1L196.5 314.3L190.5 319.2L185.5 321.9L179.5 324.0L172.5 325.0L165.5 324.7L158.5 323.3L149.5 324.8L127.5 325.2L90.5 330.5Z"/><path fill="#24ffdb" fill-rule="evenodd" d="M92.5 329.6L87.5 330.3L63.5 330.3L63.5 247.3L88.5 247.4L128.5 253.0L145.5 253.2L154.5 253.8L160.5 251.9L166.5 250.9L172.5 250.8L178.5 251.5L186.5 254.2L193.5 258.6L197.5 262.4L203.7 269.5L207.6 275.5L209.4 280.5L210.2 286.5L209.7 293.5L207.8 299.5L204.5 305.0L196.5 314.1L191.5 318.3L186.5 321.2L179.5 323.7L174.5 324.5L166.5 324.5L157.5 322.7L154.5 323.7L149.5 324.3L127.5 324.6L92.5 329.6Z"/><path fill="#2cffd3" fill-rule="evenodd" d="M88.5 329.6L63.5 329.7L63.5 247.9L88.5 248.0L128.5 253.6L145.5 253.7L153.5 254.4L161.5 252.1L166.5 251.3L173.5 251.1L179.5 251.9L187.5 255.0L194.5 259.7L204.4 270.5L208.0 276.5L209.8 282.5L210.1 289.5L209.2 295.5L207.2 300.5L204.0 305.5L196.5 313.9L191.5 318.1L185.5 321.4L179.5 323.5L172.5 324.3L164.5 323.9L157.5 322.2L148.5 323.8L127.5 324.1L88.5 329.6Z"/><path fill="#34ffcb" fill-rule="evenodd" d="M90.5 328.7L87.5 329.0L63.5 329.0L63.5 248.6L87.5 248.6L127.5 254.0L145.5 254.3L153.5 255.0L159.5 253.0L165.5 251.7L172.5 251.4L178.5 252.0L187.5 255.2L194.5 259.9L204.3 270.5L207.9 276.5L209.7 282.5L210.0 289.5L209.1 295.5L207.2 300.5L203.8 305.5L196.5 313.7L191.5 317.9L185.5 321.1L179.5 323.2L172.5 324.0L164.5 323.5L156.5 321.6L153.5 322.6L148.5 323.2L127.5 323.6L90.5 328.7Z"/><path fill="#3cffc3" fill-rule="evenodd" d="M93.5 327.6L87.5 328.4L63.5 328.4L63.5 249.2L87.5 249.2L127.5 254.6L145.5 254.8L153.5 255.6L159.5 253.3L165.5 252.0L172.5 251.6L178.5 252.3L187.5 255.4L194.5 260.1L204.2 270.5L207.8 276.5L209.6 282.5L210.0 289.5L209.0 295.5L207.1 300.5L203.7 305.5L195.5 314.5L190.5 318.3L185.5 320.9L179.5 323.0L172.5 323.8L164.5 323.2L156.5 321.1L148.5 322.6L127.5 323.0L93.5 327.6Z"/><path fill="#44ffbb" fill-rule="evenodd" d="M89.5 327.6L63.5 327.8L63.5 249.8L87.5 249.8L127.5 255.1L144.5 255.3L153.5 256.0L159.5 253.7L166.5 252.2L173.5 252.0L179.5 252.7L188.5 256.1L194.5 260.2L204.1 270.5L207.7 276.5L209.5 282.5L209.9 289.5L209.0 295.5L207.0 300.5L203.6 305.5L195.5 314.3L190.5 318.1L185.5 320.7L179.5 322.7L172.5 323.5L164.5 322.9L156.5 320.7L147.5 322.1L127.5 322.5L89.5 327.6Z"/><path fill="#4cffb3" fill-rule="evenodd" d="M91.5 326.6L87.5 327.2L63.5 327.2L63.5 250.4L87.5 250.4L127.5 255.6L144.5 255.8L152.5 256.5L160.5 253.8L166.5 252.5L173.5 252.2L179.5 252.9L187.5 255.8L194.5 260.4L204.0 270.5L207.6 276.5L209.5 282.5L209.9 288.5L209.1 294.5L207.4 299.5L204.3 304.5L196.5 313.2L191.5 317.3L186.5 320.0L180.5 322.2L174.5 323.1L165.5 322.7L156.5 320.3L146.5 321.6L127.5 322.0L91.5 326.6Z"/><path fill="#54ffab" fill-rule="evenodd" d="M88.5 326.5L63.5 326.6L63.5 250.9L87.5 250.9L127.5 256.1L144.5 256.3L152.5 257.0L160.5 254.1L166.5 252.9L173.5 252.5L179.5 253.2L187.5 256.0L194.5 260.6L203.9 270.5L208.0 277.5L209.6 283.5L209.8 289.5L208.8 295.5L206.8 300.5L203.5 305.3L195.5 313.9L190.5 317.7L185.5 320.3L179.5 322.2L172.5 322.9L164.5 322.2L155.5 319.8L147.5 321.1L127.5 321.4L88.5 326.5Z"/><path fill="#5cffa3" fill-rule="evenodd" d="M91.5 325.6L87.5 326.1L63.5 326.1L63.5 251.5L87.5 251.5L127.5 256.6L145.5 256.8L152.5 257.5L160.5 254.5L166.5 253.2L173.5 252.8L179.5 253.4L187.5 256.2L194.5 260.8L203.8 270.5L207.9 277.5L209.3 282.5L209.7 289.5L208.7 295.5L206.7 300.5L203.5 305.2L195.5 313.8L190.5 317.5L185.5 320.1L179.5 322.0L171.5 322.6L163.5 321.7L155.5 319.3L147.5 320.7L127.5 321.0L91.5 325.6Z"/><path fill="#64ff9b" fill-rule="evenodd" d="M88.5 325.6L63.5 325.7L63.5 251.9L87.5 251.9L127.5 257.0L145.5 257.2L152.5 257.9L159.5 255.1L166.5 253.5L173.5 253.0L179.5 253.7L188.5 256.9L194.5 261.0L203.7 270.5L207.8 277.5L209.4 283.5L209.6 289.5L208.7 295.5L206.6 300.5L203.5 305.1L195.5 313.6L190.5 317.3L185.5 319.9L178.5 321.9L170.5 322.3L162.5 321.2L155.5 318.8L147.5 320.3L127.5 320.6L88.5 325.6Z"/><path fill="#6cff93" fill-rule="evenodd" d="M92.5 324.6L87.5 325.2L63.5 325.2L63.5 252.4L87.5 252.4L127.5 257.4L145.5 257.6L152.5 258.4L159.5 255.5L165.5 253.9L172.5 253.3L179.5 253.9L188.5 257.1L194.5 261.1L203.5 270.5L207.8 277.5L209.4 283.5L209.6 289.5L208.9 294.5L206.5 300.5L203.5 305.0L195.5 313.4L190.5 317.2L185.5 319.6L178.5 321.7L170.5 322.1L162.5 320.8L155.5 318.3L147.5 319.8L127.5 320.2L92.5 324.6Z"/><path fill="#74ff8b" fill-rule="evenodd" d="M89.5 324.5L63.5 324.7L63.5 252.9L87.5 252.9L127.5 257.8L145.5 258.1L152.5 258.9L159.5 255.8L165.5 254.2L172.5 253.5L179.5 254.1L187.5 256.8L194.5 261.3L203.5 270.6L207.7 277.5L209.3 283.5L209.5 289.5L208.8 294.5L206.5 300.4L203.5 304.8L195.5 313.3L190.5 317.0L185.5 319.4L178.5 321.4L170.5 321.8L162.5 320.5L155.5 317.9L146.5 319.5L127.5 319.8L89.5 324.5Z"/><path fill="#7cff83" fill-rule="evenodd" d="M93.5 323.5L87.5 324.3L63.5 324.3L63.5 253.3L87.5 253.3L127.5 258.2L145.5 258.5L152.5 259.4L159.5 256.1L165.5 254.5L172.5 253.8L179.5 254.3L187.5 257.0L194.5 261.5L203.5 270.7L207.6 277.5L209.2 283.5L209.5 289.5L208.7 294.5L206.5 300.2L203.5 304.7L195.5 313.1L190.5 316.8L185.5 319.3L178.5 321.2L170.5 321.5L162.5 320.2L154.5 317.4L148.5 318.9L127.5 319.4L93.5 323.5Z"/><path fill="#83ff7c" fill-rule="evenodd" d="M89.5 323.6L63.5 323.8L63.5 253.8L87.5 253.8L127.5 258.6L144.5 258.9L152.5 259.8L158.5 256.9L165.5 254.8L172.5 254.0L179.5 254.6L187.5 257.2L194.5 261.6L204.0 271.5L207.9 278.5L209.3 284.5L209.3 290.5L208.4 295.5L206.3 300.5L202.7 305.5L195.5 312.9L190.5 316.6L185.5 319.1L178.5 321.0L170.5 321.3L162.5 319.9L154.5 316.9L148.5 318.4L127.5 319.0L89.5 323.6Z"/><path fill="#8bff74" fill-rule="evenodd" d="M93.5 322.6L87.5 323.3L63.5 323.3L63.5 254.3L87.5 254.3L127.5 259.0L144.5 259.3L152.5 260.3L158.5 257.2L165.5 255.1L172.5 254.3L179.5 254.8L188.5 257.8L194.5 261.8L203.9 271.5L207.8 278.5L209.2 284.5L209.3 290.5L208.3 295.5L206.2 300.5L202.6 305.5L195.5 312.8L190.5 316.5L185.5 318.9L178.5 320.8L170.5 321.0L162.5 319.6L154.5 316.4L151.5 317.5L147.5 318.1L127.5 318.6L93.5 322.6Z"/><path fill="#93ff6c" fill-rule="evenodd" d="M90.5 322.5L63.5 322.9L63.5 254.7L87.5 254.7L127.5 259.4L144.5 259.7L152.5 260.7L158.5 257.5L165.5 255.3L172.5 254.5L179.5 255.0L188.5 258.0L194.5 261.9L203.5 271.1L205.9 274.5L207.8 278.5L209.2 284.5L209.2 290.5L208.2 295.5L206.1 300.5L202.5 305.5L195.5 312.6L190.5 316.3L185.5 318.7L178.5 320.6L170.5 320.8L162.5 319.3L154.5 316.0L147.5 317.7L127.5 318.2L90.5 322.5Z"/><path fill="#9bff64" fill-rule="evenodd" d="M94.5 321.5L87.5 322.4L63.5 322.4L63.5 255.2L88.5 255.3L127.5 259.8L144.5 260.1L151.5 261.1L159.5 257.4L165.5 255.6L172.5 254.7L179.5 255.2L188.5 258.2L194.5 262.1L203.5 271.2L207.7 278.5L209.1 284.5L209.2 290.5L208.2 295.5L206.0 300.5L202.5 305.4L195.5 312.5L190.5 316.1L185.5 318.5L178.5 320.4L170.5 320.5L162.5 319.0L154.5 315.6L146.5 317.3L127.5 317.8L94.5 321.5Z"/><path fill="#a3ff5c" fill-rule="evenodd" d="M90.5 321.6L63.5 321.9L63.5 255.7L88.5 255.7L127.5 260.2L144.5 260.5L151.5 261.7L159.5 257.8L165.5 255.9L172.5 255.0L179.5 255.4L187.5 257.9L194.5 262.2L203.5 271.3L207.6 278.5L209.1 284.5L209.1 290.5L208.1 295.5L205.9 300.5L202.5 305.2L195.5 312.3L190.5 316.0L185.5 318.3L178.5 320.2L169.5 320.2L161.5 318.4L153.5 314.9L150.5 316.3L146.5 316.9L127.5 317.4L90.5 321.6Z"/><path fill="#abff54" fill-rule="evenodd" d="M95.5 320.5L87.5 321.5L63.5 321.5L63.5 256.1L88.5 256.2L127.5 260.6L144.5 261.0L151.5 262.2L158.5 258.5L165.5 256.2L172.5 255.2L179.5 255.6L187.5 258.0L194.5 262.4L203.5 271.5L207.5 278.5L209.0 284.5L209.0 290.5L208.0 295.5L205.9 300.5L202.5 305.1L195.5 312.2L190.5 315.8L185.5 318.2L178.5 320.0L169.5 320.0L161.5 318.1L153.5 314.4L150.5 315.7L146.5 316.5L127.5 317.0L95.5 320.5Z"/><path fill="#b3ff4c" fill-rule="evenodd" d="M91.5 320.5L87.5 321.0L63.5 321.0L63.5 256.6L88.5 256.7L127.5 261.0L145.5 261.5L151.5 262.7L158.5 258.8L165.5 256.4L172.5 255.4L179.5 255.8L188.5 258.7L195.5 263.4L204.2 272.5L207.8 279.5L208.9 284.5L209.0 290.5L208.0 295.5L205.8 300.5L202.5 305.0L195.5 312.0L190.5 315.6L185.5 318.0L178.5 319.7L169.5 319.7L161.5 317.8L153.5 313.9L149.5 315.5L145.5 316.1L127.5 316.6L91.5 320.5Z"/><path fill="#bbff44" fill-rule="evenodd" d="M178.5 319.5L172.5 319.7L165.5 318.7L159.5 316.7L153.5 313.5L149.5 314.9L145.5 315.6L127.5 316.2L88.5 320.4L63.5 320.5L63.5 257.1L88.5 257.2L127.5 261.4L145.5 262.0L151.5 263.2L160.5 258.3L165.5 256.7L170.5 255.8L179.5 256.0L184.5 257.2L189.5 259.3L196.5 264.4L202.5 270.5L205.5 274.6L207.5 278.8L208.8 283.5L209.0 288.5L208.6 292.5L207.2 297.5L205.1 301.5L202.5 304.9L196.5 311.0L188.5 316.6L183.5 318.5L178.5 319.5Z"/><path fill="#c3ff3c" fill-rule="evenodd" d="M176.5 319.5L170.5 319.4L164.5 318.2L158.5 316.0L153.5 313.1L152.5 313.1L149.5 314.4L145.5 315.1L127.5 315.7L88.5 319.9L63.5 320.0L63.5 257.6L88.5 257.7L127.5 261.9L144.5 262.4L151.5 263.6L160.5 258.6L165.5 256.9L170.5 256.0L179.5 256.2L184.5 257.4L189.5 259.5L193.5 262.0L197.5 265.5L203.2 271.5L205.9 275.5L207.7 279.5L208.8 284.5L209.0 289.5L208.4 293.5L206.7 298.5L204.3 302.5L194.5 312.6L190.5 315.3L186.5 317.3L181.5 318.8L176.5 319.5Z"/><path fill="#cbff34" fill-rule="evenodd" d="M181.5 318.6L174.5 319.4L167.5 318.7L160.5 316.5L152.5 312.4L149.5 313.9L145.5 314.7L127.5 315.3L88.5 319.4L63.5 319.4L63.5 258.2L88.5 258.2L127.5 262.3L144.5 262.8L150.5 264.1L151.5 264.0L160.5 258.9L169.5 256.4L179.5 256.4L188.5 259.1L195.5 263.8L204.6 273.5L206.9 277.5L208.2 281.5L208.9 285.5L208.8 290.5L208.1 294.5L206.6 298.5L204.5 302.1L201.5 305.7L195.5 311.6L191.5 314.6L186.5 317.1L181.5 318.6Z"/><path fill="#d3ff2c" fill-rule="evenodd" d="M180.5 318.7L173.5 319.1L166.5 318.2L159.5 315.8L152.5 311.8L149.5 313.3L144.5 314.3L127.5 314.8L88.5 318.9L63.5 318.9L63.5 258.7L88.5 258.7L127.5 262.8L144.5 263.3L150.5 264.6L160.5 259.1L165.5 257.4L170.5 256.5L175.5 256.2L180.5 256.7L189.5 259.8L196.5 264.8L202.5 270.9L205.2 274.5L207.2 278.5L208.4 282.5L208.9 286.5L208.6 291.5L207.5 296.1L205.4 300.5L202.5 304.5L197.5 309.6L193.5 313.1L189.5 315.6L180.5 318.7Z"/><path fill="#dbff24" fill-rule="evenodd" d="M180.5 318.5L173.5 318.9L165.5 317.7L158.5 315.0L152.5 311.3L149.5 312.8L144.5 313.8L127.5 314.4L88.5 318.3L63.5 318.4L63.5 259.2L88.5 259.3L127.5 263.2L143.5 263.7L150.5 265.2L160.5 259.4L165.5 257.7L170.5 256.7L175.5 256.4L180.5 256.9L189.5 259.9L196.5 264.9L202.5 271.0L205.1 274.5L207.1 278.5L208.3 282.5L208.8 286.5L208.6 291.5L207.3 296.5L204.7 301.5L196.5 310.5L188.5 316.0L180.5 318.5Z"/><path fill="#e3ff1c" fill-rule="evenodd" d="M178.5 318.6L171.5 318.6L164.5 317.2L158.5 314.7L152.5 310.9L148.5 312.6L144.5 313.3L127.5 313.9L88.5 317.8L63.5 317.9L63.5 259.7L88.5 259.8L127.5 263.7L143.5 264.1L150.5 265.8L160.5 259.7L169.5 257.1L179.5 256.9L184.5 258.1L189.5 260.1L196.5 265.1L202.5 271.1L205.5 275.3L207.4 279.5L208.4 283.5L208.8 288.5L208.3 292.5L206.8 297.5L204.5 301.7L195.5 311.2L188.5 315.8L183.5 317.6L178.5 318.6Z"/><path fill="#ebff14" fill-rule="evenodd" d="M177.5 318.5L170.5 318.3L164.5 316.9L158.5 314.4L152.5 310.6L147.5 312.4L143.5 313.0L127.5 313.5L88.5 317.3L63.5 317.4L63.5 260.2L88.5 260.3L127.5 264.1L143.5 264.6L150.5 266.3L159.5 260.5L164.5 258.5L169.5 257.3L174.5 256.8L179.5 257.1L184.5 258.2L189.5 260.2L196.5 265.2L202.5 271.2L205.5 275.4L207.4 279.5L208.4 283.5L208.7 288.5L208.3 292.5L206.7 297.5L204.5 301.6L201.5 305.3L195.5 311.1L187.5 316.1L182.5 317.7L177.5 318.5Z"/><path fill="#f3ff0c" fill-rule="evenodd" d="M182.5 317.6L174.5 318.4L166.5 317.3L159.5 314.6L152.5 310.2L143.5 312.5L127.5 313.0L88.5 316.8L63.5 316.8L63.5 260.8L88.5 260.8L127.5 264.6L143.5 265.1L150.5 266.8L159.5 260.8L168.5 257.7L173.5 257.1L179.5 257.2L188.5 259.9L196.5 265.3L204.5 273.9L206.5 277.5L207.9 281.5L208.6 285.5L208.5 290.5L207.7 294.5L206.2 298.5L201.5 305.2L192.5 313.2L187.5 316.0L182.5 317.6Z"/><path fill="#fbff04" fill-rule="evenodd" d="M181.5 317.6L174.5 318.2L166.5 317.0L159.8 314.5L152.5 309.8L151.5 309.7L147.5 311.3L143.5 312.0L127.5 312.6L88.5 316.3L63.5 316.3L63.5 261.3L88.5 261.3L127.5 265.0L143.0 265.5L150.5 267.3L159.5 261.1L168.5 257.9L174.5 257.2L179.5 257.4L188.5 260.0L195.5 264.6L201.5 270.3L204.5 274.1L207.8 281.5L208.5 285.5L208.5 290.5L207.7 294.5L206.1 298.5L201.5 305.1L195.5 310.8L191.5 313.7L187.5 315.8L181.5 317.6Z"/><path fill="#fffb00" fill-rule="evenodd" d="M180.5 317.7L173.5 317.9L165.5 316.5L159.5 314.1L151.5 309.2L147.5 310.8L142.5 311.7L127.5 312.1L88.5 315.7L63.5 315.8L63.5 261.8L88.5 261.9L127.5 265.5L142.5 265.9L150.5 267.8L154.4 264.5L159.2 261.5L168.5 258.1L174.5 257.4L179.5 257.6L188.5 260.2L195.5 264.7L201.5 270.5L204.5 274.2L207.8 281.5L208.5 286.0L208.4 290.5L207.3 295.5L204.9 300.5L202.5 303.8L197.5 308.9L193.5 312.2L189.5 314.7L180.5 317.7Z"/><path fill="#fff300" fill-rule="evenodd" d="M179.5 317.6L172.5 317.7L165.5 316.3L159.5 313.8L151.5 308.7L147.5 310.3L141.5 311.3L127.5 311.7L87.5 315.2L63.5 315.2L63.5 262.4L88.5 262.4L127.5 265.9L142.5 266.4L150.5 268.2L154.5 264.8L159.5 261.6L168.5 258.3L173.5 257.6L179.5 257.8L188.5 260.3L196.5 265.7L201.5 270.6L204.6 274.5L206.7 278.5L207.9 282.5L208.5 287.2L208.2 291.5L206.9 296.5L204.5 301.1L201.8 304.5L196.5 309.7L188.5 315.1L179.5 317.6Z"/><path fill="#ffeb00" fill-rule="evenodd" d="M178.5 317.6L171.5 317.4L164.5 315.7L158.5 312.9L151.5 308.2L146.5 310.1L140.5 310.9L127.5 311.2L87.5 314.7L63.5 314.7L63.5 262.9L88.5 263.0L127.5 266.4L142.5 266.9L150.5 268.6L154.5 265.1L159.5 261.9L168.5 258.6L173.5 257.8L179.5 257.9L188.5 260.4L196.5 265.8L201.5 270.7L204.5 274.5L206.6 278.5L207.9 282.5L208.4 287.5L208.1 291.5L206.8 296.5L204.5 300.9L201.7 304.5L196.5 309.6L188.5 315.0L183.5 316.7L178.5 317.6Z"/><path fill="#ffe300" fill-rule="evenodd" d="M183.5 316.5L175.5 317.5L166.5 316.1L159.5 313.2L151.5 307.7L146.5 309.6L140.5 310.4L127.5 310.7L87.5 314.1L63.5 314.1L63.5 263.5L88.5 263.5L127.5 266.9L141.5 267.3L150.5 269.1L154.5 265.5L158.9 262.5L163.5 260.3L168.5 258.8L173.5 258.0L179.5 258.1L188.5 260.6L195.5 265.1L201.5 270.8L204.4 274.5L207.6 281.5L208.3 289.5L206.5 297.0L204.5 300.8L201.6 304.5L192.5 312.5L188.5 314.8L183.5 316.5Z"/><path fill="#ffdb00" fill-rule="evenodd" d="M182.5 316.6L174.5 317.3L166.5 315.9L159.5 312.9L151.5 307.2L146.5 309.1L140.5 309.9L127.5 310.2L87.5 313.6L63.5 313.6L63.5 264.0L88.5 264.1L127.5 267.4L141.5 267.8L150.5 269.5L153.6 266.5L158.5 263.1L163.5 260.6L168.5 259.0L174.5 258.1L179.5 258.2L188.5 260.7L196.5 266.1L201.5 270.9L204.5 274.7L206.5 278.5L207.8 282.5L208.2 290.5L207.5 293.9L205.7 298.5L201.5 304.5L195.5 310.2L191.5 313.1L187.5 315.1L182.5 316.6Z"/><path fill="#ffd300" fill-rule="evenodd" d="M181.5 316.7L173.5 317.0L165.5 315.3L158.5 312.1L151.5 306.8L146.5 308.7L140.5 309.4L127.5 309.8L87.5 313.0L63.5 313.0L63.5 264.6L88.5 264.6L127.5 267.8L141.5 268.2L150.5 269.9L154.1 266.5L158.5 263.3L163.5 260.8L168.5 259.2L174.5 258.3L179.5 258.4L188.5 260.8L196.5 266.2L201.5 271.0L204.5 274.9L206.5 278.7L207.7 282.5L208.1 290.5L207.5 293.7L205.7 298.5L203.5 302.0L200.5 305.4L195.5 310.1L191.5 312.9L187.5 315.0L181.5 316.7Z"/><path fill="#ffcb00" fill-rule="evenodd" d="M181.5 316.5L173.5 316.8L165.5 315.1L158.5 311.8L151.5 306.3L146.5 308.2L140.5 309.0L127.5 309.3L87.5 312.5L63.5 312.5L63.5 265.1L88.5 265.2L127.5 268.3L141.5 268.7L150.5 270.4L154.5 266.5L158.7 263.5L163.5 261.0L168.5 259.4L173.5 258.6L179.5 258.6L188.5 261.0L196.5 266.3L201.5 271.1L204.5 275.0L207.6 282.5L208.0 290.5L207.5 293.5L205.6 298.5L203.5 301.9L200.5 305.3L195.5 309.9L191.5 312.8L187.5 314.8L181.5 316.5Z"/><path fill="#ffc300" fill-rule="evenodd" d="M180.5 316.6L173.5 316.7L165.5 314.9L158.5 311.5L151.5 305.8L146.5 307.7L140.5 308.5L127.5 308.9L87.5 311.9L63.5 311.9L63.5 265.7L88.5 265.8L127.5 268.7L141.5 269.1L150.5 270.9L154.5 266.8L159.2 263.5L163.5 261.3L168.5 259.6L173.5 258.7L179.5 258.7L188.5 261.1L196.5 266.5L201.5 271.3L204.5 275.2L207.6 282.5L208.1 287.5L207.8 291.5L206.5 296.3L204.5 300.2L201.5 304.1L196.5 308.9L192.5 312.0L188.5 314.3L180.5 316.6Z"/><path fill="#ffbb00" fill-rule="evenodd" d="M179.5 316.5L171.5 316.2L164.5 314.3L157.5 310.5L151.5 305.4L146.5 307.3L140.5 308.1L127.5 308.4L87.5 311.3L63.5 311.3L63.5 266.3L88.5 266.3L127.5 269.2L141.5 269.6L150.5 271.3L154.1 267.5L158.5 264.2L163.5 261.5L168.5 259.8L173.5 258.9L179.5 258.9L188.5 261.2L196.4 266.5L201.5 271.4L204.5 275.3L207.5 282.5L208.1 287.5L207.8 291.5L206.5 296.1L204.5 300.1L201.5 304.0L196.5 308.8L192.5 311.9L188.5 314.2L179.5 316.5Z"/><path fill="#ffb300" fill-rule="evenodd" d="M183.5 315.7L175.5 316.5L166.5 314.8L158.5 310.9L151.5 304.9L146.5 306.8L140.5 307.6L127.5 307.9L87.5 310.8L63.5 310.8L63.5 266.8L88.5 266.9L127.5 269.7L141.5 270.1L150.5 271.8L154.5 267.5L158.5 264.5L162.5 262.2L167.5 260.3L172.5 259.2L178.5 258.9L187.5 261.0L195.1 265.5L203.5 274.0L205.6 277.5L207.1 281.5L207.9 285.5L207.9 289.5L207.5 292.6L205.8 297.5L201.5 303.9L192.5 311.8L188.5 314.0L183.5 315.7Z"/><path fill="#ffab00" fill-rule="evenodd" d="M183.5 315.5L175.5 316.3L166.5 314.6L158.5 310.6L151.5 304.4L146.5 306.4L140.5 307.2L127.5 307.5L87.5 310.2L63.5 310.2L63.5 267.4L88.5 267.4L127.5 270.1L141.5 270.5L150.5 272.3L153.8 268.5L158.5 264.8L162.5 262.4L167.5 260.5L173.5 259.3L178.5 259.1L187.5 261.1L194.9 265.5L203.5 274.1L205.6 277.5L207.1 281.5L207.8 285.5L207.9 289.5L207.5 292.3L205.7 297.5L201.5 303.8L192.5 311.7L188.5 313.9L183.5 315.5Z"/><path fill="#ffa300" fill-rule="evenodd" d="M182.5 315.6L174.5 316.1L165.5 314.0L158.5 310.3L151.5 304.0L146.5 305.9L140.5 306.7L127.5 307.0L87.5 309.7L63.5 309.7L63.5 267.9L87.5 267.9L127.5 270.6L139.5 270.8L145.5 271.5L150.5 272.8L154.2 268.5L158.5 265.1L162.9 262.5L167.5 260.7L172.5 259.6L178.5 259.2L187.5 261.2L194.8 265.5L203.5 274.2L206.7 280.5L207.7 284.5L207.8 289.5L205.6 297.5L201.5 303.6L192.5 311.5L187.5 314.2L182.5 315.6Z"/><path fill="#ff9b00" fill-rule="evenodd" d="M181.5 315.7L173.5 315.8L165.5 313.8L157.7 309.5L151.5 303.5L146.5 305.5L139.5 306.3L127.5 306.6L87.5 309.1L63.5 309.1L63.5 268.5L87.5 268.5L127.5 271.0L139.5 271.3L145.5 271.9L150.5 273.3L153.6 269.5L158.3 265.5L162.5 262.9L167.5 260.9L172.5 259.7L178.5 259.4L182.5 259.9L187.5 261.3L194.6 265.5L203.5 274.4L205.5 277.8L207.5 283.8L207.7 290.5L205.5 297.7L200.5 304.5L195.1 309.5L191.5 312.0L187.5 314.1L181.5 315.7Z"/><path fill="#ff9300" fill-rule="evenodd" d="M181.5 315.5L173.5 315.6L164.5 313.2L156.8 308.5L151.5 303.1L146.5 305.0L139.5 305.9L127.5 306.1L87.5 308.5L63.5 308.5L63.5 269.1L87.5 269.1L127.5 271.5L139.5 271.7L145.5 272.4L150.5 273.8L154.0 269.5L157.3 266.5L162.5 263.2L167.5 261.1L172.5 259.9L178.5 259.5L182.5 260.0L187.5 261.5L193.1 264.5L197.7 268.5L198.4 269.5L196.5 271.5L198.5 269.6L203.5 274.5L206.8 281.5L207.7 285.5L207.6 290.5L206.5 295.0L204.5 299.3L201.5 303.2L198.5 305.5L180.5 288.5L197.3 305.5L197.7 306.5L194.9 309.5L190.5 312.5L186.5 314.3L181.5 315.5Z"/><path fill="#ff8b00" fill-rule="evenodd" d="M180.5 315.6L172.5 315.3L164.5 313.0L157.2 308.5L151.5 302.6L146.5 304.6L139.5 305.5L121.5 306.0L87.5 308.0L63.5 308.0L63.5 269.6L87.5 269.6L120.5 271.6L139.5 272.1L145.5 272.8L150.5 274.4L153.4 270.5L157.7 266.5L162.5 263.4L167.5 261.3L172.5 260.1L178.5 259.7L182.5 260.2L187.5 261.6L192.9 264.5L197.5 268.6L185.5 281.5L183.3 284.5L200.5 271.5L204.5 276.3L206.5 280.6L207.6 285.5L207.5 290.5L205.5 297.2L203.5 300.7L200.5 303.6L199.5 303.5L180.5 288.3L197.2 306.5L195.9 308.5L190.5 312.4L186.5 314.2L180.5 315.6Z"/><path fill="#ff8300" fill-rule="evenodd" d="M179.5 315.5L171.5 315.0L163.5 312.3L156.5 307.6L151.5 302.1L146.5 304.2L139.5 305.1L87.5 307.4L63.5 307.4L63.5 270.2L87.5 270.2L139.5 272.5L145.5 273.2L150.5 274.9L153.7 270.5L156.8 267.5L161.5 264.2L166.5 261.8L172.5 260.2L177.5 259.8L182.5 260.3L187.5 261.7L194.1 265.5L196.4 267.5L196.6 268.5L183.5 283.4L181.5 286.5L201.5 273.5L202.5 273.9L204.5 276.5L206.5 280.9L207.5 285.5L207.5 290.2L205.5 297.0L203.5 300.5L201.5 301.9L180.5 288.1L180.5 288.7L196.6 307.5L193.3 310.5L188.5 313.3L184.5 314.6L179.5 315.5Z"/><path fill="#ff7c00" fill-rule="evenodd" d="M183.5 314.7L179.5 315.4L174.5 315.3L165.5 313.0L157.5 308.1L151.5 301.6L146.5 303.8L139.5 304.6L87.5 306.9L63.5 306.9L63.5 270.7L87.5 270.7L139.5 273.0L146.5 273.9L150.5 275.4L153.2 271.5L157.2 267.5L161.5 264.4L166.5 262.0L171.5 260.6L177.5 260.0L182.5 260.4L187.5 261.8L192.5 264.5L195.9 267.5L195.6 268.5L182.5 284.3L181.3 286.5L182.1 286.5L203.5 275.5L206.5 281.2L207.5 285.8L207.5 289.5L205.5 296.8L203.5 299.7L202.5 299.7L180.5 287.9L180.5 288.8L196.1 307.5L194.4 309.5L190.5 312.1L183.5 314.7Z"/><path fill="#ff7400" fill-rule="evenodd" d="M183.5 314.6L179.5 315.3L174.5 315.1L165.5 312.8L157.5 307.8L151.5 301.1L146.5 303.3L139.5 304.2L87.5 306.3L63.5 306.3L63.5 271.3L87.5 271.3L138.5 273.3L145.5 274.1L150.5 275.8L153.6 271.5L157.5 267.6L161.8 264.5L166.5 262.2L171.5 260.8L177.5 260.1L182.5 260.6L187.5 262.0L193.5 265.3L195.4 267.5L181.0 286.5L181.5 286.9L182.7 286.5L204.5 277.5L206.5 281.5L207.5 288.7L206.5 293.9L204.5 297.8L180.5 287.8L180.5 288.8L195.1 307.5L195.3 308.5L189.5 312.5L183.5 314.6Z"/><path fill="#ff6c00" fill-rule="evenodd" d="M182.5 314.7L174.5 315.0L169.5 314.0L165.4 312.5L157.5 307.5L151.5 300.7L146.5 302.8L139.5 303.8L87.5 305.7L63.5 305.7L63.5 271.9L87.5 271.9L138.5 273.8L145.5 274.5L150.5 276.3L153.9 271.5L157.5 267.9L161.5 264.9L166.5 262.4L171.5 260.9L177.5 260.3L182.5 260.7L187.5 262.1L193.6 265.5L194.7 266.5L194.5 267.5L180.8 286.5L181.5 287.1L205.5 279.9L206.5 281.9L207.4 287.5L206.5 293.5L205.5 295.5L180.5 287.6L180.5 288.9L194.8 308.5L192.7 310.5L189.3 312.5L182.5 314.7Z"/><path fill="#ff6400" fill-rule="evenodd" d="M182.5 314.6L178.5 315.0L173.5 314.7L168.5 313.5L164.5 311.9L157.5 307.2L151.5 300.2L146.5 302.4L138.5 303.4L87.5 305.1L63.5 305.1L63.5 272.5L87.5 272.5L138.5 274.2L145.5 275.0L150.5 276.8L154.2 271.5L157.1 268.5L161.5 265.2L166.5 262.6L171.5 261.1L177.5 260.4L182.5 260.8L187.5 262.2L191.9 264.5L194.3 266.5L181.5 285.0L180.2 288.5L194.0 308.5L193.8 309.5L189.5 312.3L182.5 314.6ZM206.5 292.7L205.5 292.9L185.5 288.9L180.8 287.5L206.5 282.5L207.1 287.5L206.5 292.7Z"/><path fill="#ff5c00" fill-rule="evenodd" d="M181.5 314.6L177.5 314.9L172.5 314.3L164.5 311.7L157.0 306.5L151.5 299.8L146.5 301.9L138.5 303.0L87.5 304.4L63.5 304.4L63.5 273.2L87.5 273.2L137.5 274.6L145.5 275.4L150.5 277.2L154.5 271.6L157.5 268.5L161.5 265.4L166.5 262.8L171.5 261.3L177.5 260.5L182.5 261.0L187.5 262.3L191.7 264.5L193.0 265.5L193.4 266.5L180.5 286.4L180.2 288.5L193.6 309.5L188.5 312.6L181.5 314.6ZM206.5 290.5L181.6 287.5L206.5 284.9L206.5 290.5Z"/><path fill="#ff5400" fill-rule="evenodd" d="M180.5 314.6L171.5 314.0L163.5 310.9L157.4 306.5L151.5 299.3L146.5 301.5L138.5 302.5L87.5 303.8L63.5 303.8L63.5 273.8L87.5 273.8L137.5 275.0L145.5 275.9L150.5 277.7L154.1 272.5L157.8 268.5L161.7 265.5L166.5 263.0L171.5 261.4L177.5 260.7L182.5 261.1L187.5 262.4L191.5 264.5L192.7 265.5L192.5 266.5L180.5 286.3L180.1 288.5L192.9 309.5L190.5 311.5L187.5 312.9L180.5 314.6ZM206.5 287.7L197.4 287.5L206.5 287.7Z"/><path fill="#ff4c00" fill-rule="evenodd" d="M179.5 314.6L171.5 313.8L163.5 310.7L156.7 305.5L151.5 298.8L146.5 301.0L138.5 302.1L63.5 303.1L63.5 274.5L137.5 275.5L145.5 276.3L150.5 278.1L157.1 269.5L161.5 265.9L165.8 263.5L170.5 261.8L176.5 260.9L181.5 261.0L186.5 262.2L189.5 263.5L192.3 265.5L180.5 286.2L180.1 288.5L192.0 309.5L191.8 310.5L187.5 312.8L179.5 314.6Z"/><path fill="#ff4400" fill-rule="evenodd" d="M184.5 313.6L179.5 314.5L175.5 314.3L170.5 313.4L165.5 311.5L158.0 306.5L151.5 298.4L146.5 300.6L137.5 301.7L63.5 302.5L63.5 275.1L137.5 275.9L145.5 276.8L150.5 278.6L151.5 277.9L154.0 273.5L157.4 269.5L161.5 266.1L166.3 263.5L171.5 261.8L176.5 261.0L180.5 261.0L186.5 262.3L190.9 264.5L191.4 265.5L180.3 286.5L180.0 288.5L191.6 310.5L188.0 312.5L184.5 313.6Z"/><path fill="#ff3c00" fill-rule="evenodd" d="M184.5 313.5L179.5 314.3L175.5 314.2L170.5 313.2L165.5 311.3L161.5 309.0L157.5 305.7L151.5 297.9L146.5 300.2L137.5 301.3L63.5 301.8L63.5 275.8L136.5 276.3L145.5 277.2L150.5 279.0L151.5 278.6L154.3 273.5L157.7 269.5L161.3 266.5L165.5 264.1L170.5 262.2L176.5 261.1L180.5 261.1L186.5 262.5L190.7 264.5L190.6 265.5L180.2 286.5L180.0 288.5L190.9 310.5L187.7 312.5L184.5 313.5Z"/><path fill="#ff3400" fill-rule="evenodd" d="M183.5 313.6L179.5 314.2L174.5 313.9L169.5 312.8L165.5 311.1L161.1 308.5L157.6 305.5L151.5 297.4L146.5 299.7L137.5 300.8L63.5 301.2L63.5 276.4L136.5 276.7L145.5 277.6L150.8 279.5L151.5 279.4L153.9 274.5L157.0 270.5L161.5 266.6L165.5 264.3L170.5 262.3L176.5 261.3L180.5 261.3L186.2 262.5L190.2 264.5L180.1 286.5L179.9 288.5L190.1 310.5L189.5 311.5L183.5 313.6Z"/><path fill="#ff2c00" fill-rule="evenodd" d="M183.5 313.5L179.5 314.1L174.5 313.8L169.5 312.6L165.5 310.9L161.5 308.5L157.9 305.5L151.5 296.9L146.5 299.3L137.5 300.4L63.5 300.5L63.5 277.1L136.5 277.2L145.5 278.1L151.5 280.3L153.6 275.5L156.4 271.5L160.5 267.6L164.5 265.0L169.5 262.8L175.5 261.5L180.5 261.4L185.5 262.4L188.5 263.5L189.4 264.5L180.1 286.5L179.9 288.5L189.3 310.5L189.1 311.5L183.5 313.5Z"/><path fill="#ff2400" fill-rule="evenodd" d="M182.5 313.6L178.5 314.0L173.5 313.5L168.5 312.1L164.5 310.2L160.5 307.5L157.3 304.5L154.3 300.5L152.5 297.0L151.5 296.4L148.5 298.2L145.5 299.1L136.5 300.0L95.5 299.4L63.5 299.7L63.5 277.9L95.5 278.2L136.5 277.6L145.5 278.5L151.5 281.0L153.9 275.5L156.7 271.5L160.5 267.9L164.5 265.2L169.5 263.0L175.5 261.6L180.2 261.5L185.4 262.5L188.1 263.5L188.6 264.5L180.0 286.5L179.9 288.5L188.7 311.5L182.5 313.6Z"/><path fill="#ff1c00" fill-rule="evenodd" d="M181.5 313.6L177.5 313.8L172.5 313.1L167.5 311.5L163.6 309.5L157.6 304.5L154.6 300.5L152.5 296.3L151.5 295.9L148.5 297.7L145.5 298.7L136.5 299.6L95.5 298.7L63.5 298.9L63.5 278.7L95.5 278.9L136.5 278.0L145.5 278.9L148.5 279.9L151.5 281.7L153.6 276.5L156.2 272.5L160.1 268.5L164.3 265.5L169.5 263.1L174.5 261.9L179.5 261.6L185.0 262.5L187.8 263.5L187.9 264.5L179.9 286.5L179.8 288.5L188.1 311.5L186.3 312.5L181.5 313.6Z"/><path fill="#ff1400" fill-rule="evenodd" d="M181.5 313.5L177.5 313.7L172.5 313.0L168.0 311.5L164.0 309.5L157.9 304.5L154.8 300.5L152.5 295.5L151.5 295.3L148.5 297.2L145.5 298.2L135.5 299.2L95.5 297.9L63.5 298.1L63.5 279.5L95.5 279.7L135.5 278.4L145.5 279.4L148.7 280.5L151.5 282.3L153.9 276.5L156.5 272.5L160.4 268.5L164.5 265.6L169.5 263.3L174.5 262.1L179.5 261.7L184.5 262.5L187.3 263.5L179.9 286.5L179.8 288.5L187.1 311.5L185.9 312.5L181.5 313.5Z"/><path fill="#ff0c00" fill-rule="evenodd" d="M180.5 313.5L177.0 313.5L171.5 312.5L166.5 310.7L162.8 308.5L159.1 305.5L156.5 302.5L154.0 298.5L152.5 294.6L145.5 297.7L135.5 298.8L94.5 297.1L63.5 297.3L63.5 280.2L95.5 280.4L135.5 278.8L145.5 279.9L149.5 281.3L151.5 282.9L156.0 273.5L159.5 269.5L163.5 266.4L168.5 263.9L173.5 262.4L179.5 261.8L184.0 262.5L186.0 263.5L179.8 286.5L179.7 288.5L185.9 311.5L185.5 312.5L180.5 313.5Z"/><path fill="#ff0400" fill-rule="evenodd" d="M184.5 312.5L179.5 313.5L174.5 313.0L169.5 311.8L164.7 309.5L160.5 306.5L156.8 302.5L154.3 298.5L152.5 293.6L149.5 295.7L146.5 297.0L135.5 298.3L94.5 296.3L63.5 296.5L63.5 281.2L94.5 281.4L135.5 279.3L145.5 280.3L148.8 281.5L151.5 283.5L154.0 277.5L156.3 273.5L159.8 269.5L163.7 266.5L168.5 264.0L173.6 262.5L179.5 262.0L183.5 262.5L184.8 263.5L179.7 288.5L184.7 311.5L184.5 312.5Z"/><path fill="#fb0000" fill-rule="evenodd" d="M183.5 312.5L179.5 313.2L173.5 312.7L167.5 310.8L163.5 308.6L159.8 305.5L156.3 301.5L153.5 296.0L152.5 292.3L149.5 295.2L146.5 296.5L135.5 297.9L106.5 296.5L94.5 295.1L63.5 295.3L63.5 282.3L94.5 282.5L109.5 280.9L135.5 279.7L146.5 281.1L149.5 282.4L151.5 284.2L152.8 282.5L154.3 277.5L156.5 273.7L160.1 269.5L164.0 266.5L168.5 264.2L174.4 262.5L179.5 262.1L182.9 262.5L183.5 263.5L179.6 288.5L183.5 312.5Z"/><path fill="#f30000" fill-rule="evenodd" d="M181.5 312.7L179.5 313.0L173.5 312.6L165.4 309.5L161.2 306.5L157.3 302.5L154.5 297.7L154.2 295.5L153.5 294.5L153.5 293.6L178.5 287.6L153.5 281.8L153.5 280.4L154.4 279.5L155.5 276.0L158.5 271.5L160.5 269.4L164.4 266.5L168.2 264.5L176.5 262.3L182.2 262.5L182.3 263.5L179.6 287.5L182.4 312.5L181.5 312.7ZM144.5 296.6L134.5 297.4L110.5 296.1L94.5 293.9L63.5 294.0L63.5 283.5L94.5 283.7L105.5 281.9L115.5 281.1L134.5 280.2L143.5 280.8L146.5 281.5L149.5 283.0L151.1 284.5L152.2 287.5L152.3 290.5L150.7 293.5L148.0 295.5L144.5 296.6Z"/><path fill="#eb0000" fill-rule="evenodd" d="M179.5 287.4L162.5 268.7L163.5 267.5L164.5 267.3L166.5 265.5L170.5 264.3L171.5 263.5L176.5 262.4L181.2 262.5L179.5 287.4ZM141.5 296.6L134.5 297.0L122.5 296.4L102.5 294.3L98.5 293.5L96.3 290.5L95.5 288.5L98.2 284.5L104.5 283.0L117.5 281.5L132.5 280.7L143.5 281.3L147.5 282.5L150.5 284.5L151.6 289.5L150.7 292.5L149.5 293.9L146.5 295.6L141.5 296.6ZM180.5 312.6L174.5 312.6L170.2 311.5L164.4 308.5L162.7 306.5L179.5 287.6L181.2 312.5L180.5 312.6Z"/><path fill="#e30000" fill-rule="evenodd" d="M179.5 285.9L176.7 263.5L177.4 262.5L179.8 262.5L179.5 285.9ZM135.5 296.5L118.4 295.5L103.6 293.5L100.6 290.5L99.7 288.5L103.1 284.5L108.5 283.3L121.5 281.9L134.5 281.1L140.5 281.4L146.2 282.5L149.7 284.5L150.8 287.5L150.9 289.5L149.2 293.5L144.5 295.6L135.5 296.5ZM179.5 312.5L176.6 312.5L179.5 289.4L179.5 312.5Z"/><path fill="#db0000" fill-rule="evenodd" d="M141.5 295.6L130.5 295.8L109.0 293.5L105.8 291.5L103.8 288.5L108.0 284.5L113.0 283.5L134.5 281.5L143.5 282.3L148.8 284.5L150.1 287.5L150.3 289.5L149.5 291.9L148.2 293.5L145.5 294.7L141.5 295.6Z"/><path fill="#d30000" fill-rule="evenodd" d="M136.5 295.5L114.5 293.5L110.3 291.5L108.3 289.5L108.0 288.5L109.8 286.5L112.9 284.5L124.5 282.9L138.5 282.2L143.5 282.9L147.8 284.5L149.6 288.5L148.2 292.5L144.5 294.4L136.5 295.5Z"/><path fill="#cb0000" fill-rule="evenodd" d="M140.5 294.6L134.5 295.0L120.0 293.5L114.8 291.5L112.5 289.5L112.2 288.5L114.2 286.5L117.9 284.5L124.9 283.5L135.5 282.6L142.5 283.3L146.5 284.5L148.0 286.5L148.7 288.5L147.8 291.5L145.5 293.5L140.5 294.6Z"/><path fill="#c30000" fill-rule="evenodd" d="M142.5 293.7L135.5 294.4L125.5 293.5L119.3 291.5L116.7 289.5L116.4 288.5L118.6 286.5L122.9 284.5L134.5 283.2L142.5 283.9L145.5 285.1L147.6 288.5L147.1 290.5L145.5 292.5L142.5 293.7Z"/><path fill="#bb0000" fill-rule="evenodd" d="M139.5 293.5L134.5 293.8L126.2 292.5L122.1 290.5L120.6 288.5L123.1 286.5L128.1 284.5L135.5 283.8L142.2 284.5L145.2 286.5L146.3 288.5L146.2 289.5L143.5 292.5L139.5 293.5Z"/><path fill="#b30000" fill-rule="evenodd" d="M139.5 292.5L135.5 293.0L131.4 292.5L126.6 290.5L125.3 289.5L124.9 288.5L127.7 286.5L133.5 284.6L139.5 285.0L142.9 286.5L144.6 288.5L143.5 290.6L139.5 292.5Z"/><path fill="#ab0000" fill-rule="evenodd" d="M136.5 291.6L134.5 291.7L131.5 290.6L129.8 289.5L129.4 288.5L132.7 286.5L135.5 285.9L139.5 286.8L141.9 288.5L141.6 289.5L140.2 290.5L136.5 291.6Z"/><path fill="#a30000" fill-rule="evenodd" d="M135.5 289.2L134.4 288.5L136.2 288.5L135.5 289.2Z"/></g>
<path d="M69.5 220.4v132.6M77.4 220.4v132.6M85.3 220.4v132.6M93.2 220.4v132.6M101.1 220.4v132.6M108.9 220.4v132.6M116.8 220.4v132.6M124.7 220.4v132.6M132.6 220.4v132.6M140.5 220.4v132.6M148.4 220.4v132.6M156.3 220.4v132.6M164.2 220.4v132.6M172.1 220.4v132.6M180.0 220.4v132.6M187.8 220.4v132.6M195.7 220.4v132.6M203.6 220.4v132.6M211.5 220.4v132.6M219.4 220.4v132.6M227.3 220.4v132.6M235.2 220.4v132.6M243.1 220.4v132.6M251.0 220.4v132.6M258.9 220.4v132.6M266.8 220.4v132.6M274.6 220.4v132.6M282.5 220.4v132.6M290.4 220.4v132.6" stroke="#fff" stroke-opacity="0.07" stroke-width="1.3" fill="none"/>
<g stroke="#e0e0ff" stroke-width="1.2" fill="none"><path d="M66.9 225.7h2.2" stroke-opacity="0.35"/><path d="M69.1 225.7h3.4" stroke-opacity="0.19"/><path d="M66.9 232.9h2.2" stroke-opacity="0.35"/><path d="M69.1 232.9h3.4" stroke-opacity="0.19"/><path d="M66.9 341.7h2.2" stroke-opacity="0.35"/><path d="M69.1 341.7h3.4" stroke-opacity="0.19"/><path d="M66.9 348.9h2.2" stroke-opacity="0.35"/><path d="M69.1 348.9h3.4" stroke-opacity="0.19"/><path d="M74.8 225.7h2.2" stroke-opacity="0.35"/><path d="M77.0 225.7h3.4" stroke-opacity="0.19"/><path d="M74.8 232.9h2.2" stroke-opacity="0.35"/><path d="M77.0 232.9h3.4" stroke-opacity="0.19"/><path d="M74.8 341.7h2.2" stroke-opacity="0.35"/><path d="M77.0 341.7h3.4" stroke-opacity="0.19"/><path d="M74.8 348.9h2.2" stroke-opacity="0.35"/><path d="M77.0 348.9h3.4" stroke-opacity="0.19"/><path d="M82.7 225.7h2.2" stroke-opacity="0.35"/><path d="M84.9 225.7h3.4" stroke-opacity="0.19"/><path d="M82.7 232.9h2.2" stroke-opacity="0.35"/><path d="M84.9 232.9h3.4" stroke-opacity="0.19"/><path d="M82.7 341.7h2.2" stroke-opacity="0.35"/><path d="M84.9 341.7h3.4" stroke-opacity="0.19"/><path d="M82.7 348.9h2.2" stroke-opacity="0.35"/><path d="M84.9 348.9h3.4" stroke-opacity="0.19"/><path d="M90.6 225.7h2.2" stroke-opacity="0.62"/><path d="M92.8 225.7h3.4" stroke-opacity="0.34"/><path d="M90.6 232.9h2.2" stroke-opacity="0.35"/><path d="M92.8 232.9h3.4" stroke-opacity="0.19"/><path d="M90.6 341.7h2.2" stroke-opacity="0.35"/><path d="M92.8 341.7h3.4" stroke-opacity="0.19"/><path d="M90.6 348.9h2.2" stroke-opacity="0.35"/><path d="M92.8 348.9h3.4" stroke-opacity="0.19"/><path d="M98.5 225.7h2.2" stroke-opacity="0.62"/><path d="M100.7 225.7h3.4" stroke-opacity="0.34"/><path d="M98.5 232.9h2.2" stroke-opacity="0.35"/><path d="M100.7 232.9h3.4" stroke-opacity="0.19"/><path d="M98.5 341.7h2.2" stroke-opacity="0.35"/><path d="M100.7 341.7h3.4" stroke-opacity="0.19"/><path d="M98.5 348.9h2.2" stroke-opacity="0.35"/><path d="M100.7 348.9h3.4" stroke-opacity="0.19"/><path d="M106.3 225.7h2.2" stroke-opacity="0.62"/><path d="M108.5 225.7h3.4" stroke-opacity="0.34"/><path d="M106.3 232.9h2.2" stroke-opacity="0.35"/><path d="M108.5 232.9h3.4" stroke-opacity="0.19"/><path d="M106.3 341.7h2.2" stroke-opacity="0.35"/><path d="M108.5 341.7h3.4" stroke-opacity="0.19"/><path d="M106.3 348.9h2.2" stroke-opacity="0.35"/><path d="M108.5 348.9h3.4" stroke-opacity="0.19"/><path d="M114.2 225.7h2.2" stroke-opacity="0.62"/><path d="M116.4 225.7h3.4" stroke-opacity="0.34"/><path d="M114.2 232.9h2.2" stroke-opacity="0.35"/><path d="M116.4 232.9h3.4" stroke-opacity="0.19"/><path d="M114.2 240.2h2.2" stroke-opacity="0.35"/><path d="M116.4 240.2h3.4" stroke-opacity="0.19"/><path d="M114.2 341.7h2.2" stroke-opacity="0.35"/><path d="M116.4 341.7h3.4" stroke-opacity="0.19"/><path d="M114.2 348.9h2.2" stroke-opacity="0.62"/><path d="M116.4 348.9h3.4" stroke-opacity="0.34"/><path d="M122.1 225.7h2.2" stroke-opacity="0.62"/><path d="M124.3 225.7h3.4" stroke-opacity="0.34"/><path d="M122.1 232.9h2.2" stroke-opacity="0.35"/><path d="M124.3 232.9h3.4" stroke-opacity="0.19"/><path d="M122.1 240.2h2.2" stroke-opacity="0.35"/><path d="M124.3 240.2h3.4" stroke-opacity="0.19"/><path d="M122.1 334.4h2.2" stroke-opacity="0.35"/><path d="M124.3 334.4h3.4" stroke-opacity="0.19"/><path d="M122.1 341.7h2.2" stroke-opacity="0.35"/><path d="M124.3 341.7h3.4" stroke-opacity="0.19"/><path d="M122.1 348.9h2.2" stroke-opacity="0.62"/><path d="M124.3 348.9h3.4" stroke-opacity="0.34"/><path d="M130.0 225.7h2.2" stroke-opacity="0.62"/><path d="M132.2 225.7h3.4" stroke-opacity="0.34"/><path d="M130.0 232.9h2.2" stroke-opacity="0.62"/><path d="M132.2 232.9h3.4" stroke-opacity="0.34"/><path d="M130.0 240.2h2.2" stroke-opacity="0.35"/><path d="M132.2 240.2h3.4" stroke-opacity="0.19"/><path d="M130.0 334.4h2.2" stroke-opacity="0.35"/><path d="M132.2 334.4h3.4" stroke-opacity="0.19"/><path d="M130.0 341.7h2.2" stroke-opacity="0.35"/><path d="M132.2 341.7h3.4" stroke-opacity="0.19"/><path d="M130.0 348.9h2.2" stroke-opacity="0.62"/><path d="M132.2 348.9h3.4" stroke-opacity="0.34"/><path d="M137.9 225.7h2.2" stroke-opacity="0.62"/><path d="M140.1 225.7h3.4" stroke-opacity="0.34"/><path d="M137.9 232.9h2.2" stroke-opacity="0.62"/><path d="M140.1 232.9h3.4" stroke-opacity="0.34"/><path d="M137.9 240.2h2.2" stroke-opacity="0.35"/><path d="M140.1 240.2h3.4" stroke-opacity="0.19"/><path d="M137.9 334.4h2.2" stroke-opacity="0.35"/><path d="M140.1 334.4h3.4" stroke-opacity="0.19"/><path d="M137.9 341.7h2.2" stroke-opacity="0.35"/><path d="M140.1 341.7h3.4" stroke-opacity="0.19"/><path d="M137.9 348.9h2.2" stroke-opacity="0.62"/><path d="M140.1 348.9h3.4" stroke-opacity="0.34"/><path d="M145.8 225.7h2.2" stroke-opacity="0.62"/><path d="M148.0 225.7h3.4" stroke-opacity="0.34"/><path d="M145.8 232.9h2.2" stroke-opacity="0.62"/><path d="M148.0 232.9h3.4" stroke-opacity="0.34"/><path d="M145.8 240.2h2.2" stroke-opacity="0.35"/><path d="M148.0 240.2h3.4" stroke-opacity="0.19"/><path d="M145.8 334.4h2.2" stroke-opacity="0.35"/><path d="M148.0 334.4h3.4" stroke-opacity="0.19"/><path d="M145.8 341.7h2.2" stroke-opacity="0.35"/><path d="M148.0 341.7h3.4" stroke-opacity="0.19"/><path d="M145.8 348.9h2.2" stroke-opacity="0.62"/><path d="M148.0 348.9h3.4" stroke-opacity="0.34"/><path d="M153.7 225.7h2.2" stroke-opacity="0.62"/><path d="M155.9 225.7h3.4" stroke-opacity="0.34"/><path d="M153.7 232.9h2.2" stroke-opacity="0.62"/><path d="M155.9 232.9h3.4" stroke-opacity="0.34"/><path d="M153.7 240.2h2.2" stroke-opacity="0.35"/><path d="M155.9 240.2h3.4" stroke-opacity="0.19"/><path d="M153.7 334.4h2.2" stroke-opacity="0.35"/><path d="M155.9 334.4h3.4" stroke-opacity="0.19"/><path d="M153.7 341.7h2.2" stroke-opacity="0.35"/><path d="M155.9 341.7h3.4" stroke-opacity="0.19"/><path d="M153.7 348.9h2.2" stroke-opacity="0.62"/><path d="M155.9 348.9h3.4" stroke-opacity="0.34"/><path d="M161.6 225.7h2.2" stroke-opacity="0.62"/><path d="M163.8 225.7h3.4" stroke-opacity="0.34"/><path d="M161.6 232.9h2.2" stroke-opacity="0.62"/><path d="M163.8 232.9h3.4" stroke-opacity="0.34"/><path d="M161.6 240.2h2.2" stroke-opacity="0.35"/><path d="M163.8 240.2h3.4" stroke-opacity="0.19"/><path d="M161.6 334.4h2.2" stroke-opacity="0.35"/><path d="M163.8 334.4h3.4" stroke-opacity="0.19"/><path d="M161.6 341.7h2.2" stroke-opacity="0.35"/><path d="M163.8 341.7h3.4" stroke-opacity="0.19"/><path d="M161.6 348.9h2.2" stroke-opacity="0.62"/><path d="M163.8 348.9h3.4" stroke-opacity="0.34"/><path d="M169.5 225.7h2.2" stroke-opacity="0.62"/><path d="M171.7 225.7h3.4" stroke-opacity="0.34"/><path d="M169.5 232.9h2.2" stroke-opacity="0.62"/><path d="M171.7 232.9h3.4" stroke-opacity="0.34"/><path d="M169.5 240.2h2.2" stroke-opacity="0.35"/><path d="M171.7 240.2h3.4" stroke-opacity="0.19"/><path d="M169.5 334.4h2.2" stroke-opacity="0.35"/><path d="M171.7 334.4h3.4" stroke-opacity="0.19"/><path d="M169.5 341.7h2.2" stroke-opacity="0.35"/><path d="M171.7 341.7h3.4" stroke-opacity="0.19"/><path d="M169.5 348.9h2.2" stroke-opacity="0.62"/><path d="M171.7 348.9h3.4" stroke-opacity="0.34"/><path d="M177.4 225.7h2.2" stroke-opacity="0.62"/><path d="M179.6 225.7h3.4" stroke-opacity="0.34"/><path d="M177.4 232.9h2.2" stroke-opacity="0.62"/><path d="M179.6 232.9h3.4" stroke-opacity="0.34"/><path d="M177.4 240.2h2.2" stroke-opacity="0.62"/><path d="M179.6 240.2h3.4" stroke-opacity="0.34"/><path d="M177.4 334.4h2.2" stroke-opacity="0.35"/><path d="M179.6 334.4h3.4" stroke-opacity="0.19"/><path d="M177.4 341.7h2.2" stroke-opacity="0.62"/><path d="M179.6 341.7h3.4" stroke-opacity="0.34"/><path d="M177.4 348.9h2.2" stroke-opacity="0.62"/><path d="M179.6 348.9h3.4" stroke-opacity="0.34"/><path d="M185.2 225.7h2.2" stroke-opacity="0.62"/><path d="M187.4 225.7h3.4" stroke-opacity="0.34"/><path d="M185.2 232.9h2.2" stroke-opacity="0.62"/><path d="M187.4 232.9h3.4" stroke-opacity="0.34"/><path d="M185.2 240.2h2.2" stroke-opacity="0.62"/><path d="M187.4 240.2h3.4" stroke-opacity="0.34"/><path d="M185.2 247.4h2.2" stroke-opacity="0.35"/><path d="M187.4 247.4h3.4" stroke-opacity="0.19"/><path d="M185.2 327.2h2.2" stroke-opacity="0.35"/><path d="M187.4 327.2h3.4" stroke-opacity="0.19"/><path d="M185.2 334.4h2.2" stroke-opacity="0.62"/><path d="M187.4 334.4h3.4" stroke-opacity="0.34"/><path d="M185.2 341.7h2.2" stroke-opacity="0.62"/><path d="M187.4 341.7h3.4" stroke-opacity="0.34"/><path d="M185.2 348.9h2.2" stroke-opacity="0.62"/><path d="M187.4 348.9h3.4" stroke-opacity="0.34"/><path d="M193.1 225.7h2.2" stroke-opacity="0.62"/><path d="M195.3 225.7h3.4" stroke-opacity="0.34"/><path d="M193.1 232.9h2.2" stroke-opacity="0.62"/><path d="M195.3 232.9h3.4" stroke-opacity="0.34"/><path d="M193.1 240.2h2.2" stroke-opacity="0.62"/><path d="M195.3 240.2h3.4" stroke-opacity="0.34"/><path d="M193.1 247.4h2.2" stroke-opacity="0.62"/><path d="M195.3 247.4h3.4" stroke-opacity="0.34"/><path d="M193.1 254.7h2.2" stroke-opacity="0.35"/><path d="M195.3 254.7h3.4" stroke-opacity="0.19"/><path d="M193.1 319.9h2.2" stroke-opacity="0.35"/><path d="M195.3 319.9h3.4" stroke-opacity="0.19"/><path d="M193.1 327.2h2.2" stroke-opacity="0.62"/><path d="M195.3 327.2h3.4" stroke-opacity="0.34"/><path d="M193.1 334.4h2.2" stroke-opacity="0.62"/><path d="M195.3 334.4h3.4" stroke-opacity="0.34"/><path d="M193.1 341.7h2.2" stroke-opacity="0.62"/><path d="M195.3 341.7h3.4" stroke-opacity="0.34"/><path d="M193.1 348.9h2.2" stroke-opacity="0.62"/><path d="M195.3 348.9h3.4" stroke-opacity="0.34"/><path d="M201.0 225.7h2.2" stroke-opacity="0.62"/><path d="M203.2 225.7h3.4" stroke-opacity="0.34"/><path d="M201.0 232.9h2.2" stroke-opacity="0.62"/><path d="M203.2 232.9h3.4" stroke-opacity="0.34"/><path d="M201.0 240.2h2.2" stroke-opacity="0.62"/><path d="M203.2 240.2h3.4" stroke-opacity="0.34"/><path d="M201.0 247.4h2.2" stroke-opacity="0.62"/><path d="M203.2 247.4h3.4" stroke-opacity="0.34"/><path d="M201.0 254.7h2.2" stroke-opacity="0.62"/><path d="M203.2 254.7h3.4" stroke-opacity="0.34"/><path d="M201.0 261.9h2.2" stroke-opacity="0.62"/><path d="M203.2 261.9h3.4" stroke-opacity="0.34"/><path d="M201.0 312.7h2.2" stroke-opacity="0.62"/><path d="M203.2 312.7h3.4" stroke-opacity="0.34"/><path d="M201.0 319.9h2.2" stroke-opacity="0.62"/><path d="M203.2 319.9h3.4" stroke-opacity="0.34"/><path d="M201.0 327.2h2.2" stroke-opacity="0.62"/><path d="M203.2 327.2h3.4" stroke-opacity="0.34"/><path d="M201.0 334.4h2.2" stroke-opacity="0.62"/><path d="M203.2 334.4h3.4" stroke-opacity="0.34"/><path d="M201.0 341.7h2.2" stroke-opacity="0.62"/><path d="M203.2 341.7h3.4" stroke-opacity="0.34"/><path d="M201.0 348.9h2.2" stroke-opacity="0.62"/><path d="M203.2 348.9h3.4" stroke-opacity="0.34"/><path d="M208.9 225.7h2.2" stroke-opacity="0.62"/><path d="M211.1 225.7h3.4" stroke-opacity="0.34"/><path d="M208.9 232.9h2.2" stroke-opacity="0.62"/><path d="M211.1 232.9h3.4" stroke-opacity="0.34"/><path d="M208.9 240.2h2.2" stroke-opacity="0.62"/><path d="M211.1 240.2h3.4" stroke-opacity="0.34"/><path d="M208.9 247.4h2.2" stroke-opacity="0.62"/><path d="M211.1 247.4h3.4" stroke-opacity="0.34"/><path d="M208.9 254.7h2.2" stroke-opacity="0.62"/><path d="M211.1 254.7h3.4" stroke-opacity="0.34"/><path d="M208.9 261.9h2.2" stroke-opacity="0.62"/><path d="M211.1 261.9h3.4" stroke-opacity="0.34"/><path d="M208.9 269.2h2.2" stroke-opacity="0.62"/><path d="M211.1 269.2h3.4" stroke-opacity="0.34"/><path d="M208.9 276.4h2.2" stroke-opacity="0.62"/><path d="M211.1 276.4h3.4" stroke-opacity="0.34"/><path d="M208.9 283.7h2.2" stroke-opacity="0.35"/><path d="M211.1 283.7h3.4" stroke-opacity="0.19"/><path d="M208.9 290.9h2.2" stroke-opacity="0.35"/><path d="M211.1 290.9h3.4" stroke-opacity="0.19"/><path d="M208.9 298.2h2.2" stroke-opacity="0.62"/><path d="M211.1 298.2h3.4" stroke-opacity="0.34"/><path d="M208.9 305.4h2.2" stroke-opacity="0.62"/><path d="M211.1 305.4h3.4" stroke-opacity="0.34"/><path d="M208.9 312.7h2.2" stroke-opacity="0.62"/><path d="M211.1 312.7h3.4" stroke-opacity="0.34"/><path d="M208.9 319.9h2.2" stroke-opacity="0.62"/><path d="M211.1 319.9h3.4" stroke-opacity="0.34"/><path d="M208.9 327.2h2.2" stroke-opacity="0.62"/><path d="M211.1 327.2h3.4" stroke-opacity="0.34"/><path d="M208.9 334.4h2.2" stroke-opacity="0.62"/><path d="M211.1 334.4h3.4" stroke-opacity="0.34"/><path d="M208.9 341.7h2.2" stroke-opacity="0.62"/><path d="M211.1 341.7h3.4" stroke-opacity="0.34"/><path d="M208.9 348.9h2.2" stroke-opacity="0.62"/><path d="M211.1 348.9h3.4" stroke-opacity="0.34"/><path d="M216.8 225.7h2.2" stroke-opacity="0.62"/><path d="M219.0 225.7h3.4" stroke-opacity="0.34"/><path d="M216.8 232.9h2.2" stroke-opacity="0.62"/><path d="M219.0 232.9h3.4" stroke-opacity="0.34"/><path d="M216.8 240.2h2.2" stroke-opacity="0.62"/><path d="M219.0 240.2h3.4" stroke-opacity="0.34"/><path d="M216.8 247.4h2.2" stroke-opacity="0.62"/><path d="M219.0 247.4h3.4" stroke-opacity="0.34"/><path d="M216.8 254.7h2.2" stroke-opacity="0.62"/><path d="M219.0 254.7h3.4" stroke-opacity="0.34"/><path d="M216.8 261.9h2.2" stroke-opacity="0.62"/><path d="M219.0 261.9h3.4" stroke-opacity="0.34"/><path d="M216.8 269.2h2.2" stroke-opacity="0.62"/><path d="M219.0 269.2h3.4" stroke-opacity="0.34"/><path d="M216.8 276.4h2.2" stroke-opacity="0.62"/><path d="M219.0 276.4h3.4" stroke-opacity="0.34"/><path d="M216.8 283.7h2.2" stroke-opacity="0.62"/><path d="M219.0 283.7h3.4" stroke-opacity="0.34"/><path d="M216.8 290.9h2.2" stroke-opacity="0.62"/><path d="M219.0 290.9h3.4" stroke-opacity="0.34"/><path d="M216.8 298.2h2.2" stroke-opacity="0.62"/><path d="M219.0 298.2h3.4" stroke-opacity="0.34"/><path d="M216.8 305.4h2.2" stroke-opacity="0.62"/><path d="M219.0 305.4h3.4" stroke-opacity="0.34"/><path d="M216.8 312.7h2.2" stroke-opacity="0.62"/><path d="M219.0 312.7h3.4" stroke-opacity="0.34"/><path d="M216.8 319.9h2.2" stroke-opacity="0.62"/><path d="M219.0 319.9h3.4" stroke-opacity="0.34"/><path d="M216.8 327.2h2.2" stroke-opacity="0.62"/><path d="M219.0 327.2h3.4" stroke-opacity="0.34"/><path d="M216.8 334.4h2.2" stroke-opacity="0.62"/><path d="M219.0 334.4h3.4" stroke-opacity="0.34"/><path d="M216.8 341.7h2.2" stroke-opacity="0.62"/><path d="M219.0 341.7h3.4" stroke-opacity="0.34"/><path d="M216.8 348.9h2.2" stroke-opacity="0.62"/><path d="M219.0 348.9h3.4" stroke-opacity="0.34"/><path d="M224.7 225.7h2.2" stroke-opacity="0.62"/><path d="M226.9 225.7h3.4" stroke-opacity="0.34"/><path d="M224.7 232.9h2.2" stroke-opacity="0.62"/><path d="M226.9 232.9h3.4" stroke-opacity="0.34"/><path d="M224.7 240.2h2.2" stroke-opacity="0.62"/><path d="M226.9 240.2h3.4" stroke-opacity="0.34"/><path d="M224.7 247.4h2.2" stroke-opacity="0.62"/><path d="M226.9 247.4h3.4" stroke-opacity="0.34"/><path d="M224.7 254.7h2.2" stroke-opacity="0.62"/><path d="M226.9 254.7h3.4" stroke-opacity="0.34"/><path d="M224.7 261.9h2.2" stroke-opacity="0.62"/><path d="M226.9 261.9h3.4" stroke-opacity="0.34"/><path d="M224.7 269.2h2.2" stroke-opacity="0.62"/><path d="M226.9 269.2h3.4" stroke-opacity="0.34"/><path d="M224.7 276.4h2.2" stroke-opacity="0.62"/><path d="M226.9 276.4h3.4" stroke-opacity="0.34"/><path d="M224.7 283.7h2.2" stroke-opacity="0.62"/><path d="M226.9 283.7h3.4" stroke-opacity="0.34"/><path d="M224.7 290.9h2.2" stroke-opacity="0.62"/><path d="M226.9 290.9h3.4" stroke-opacity="0.34"/><path d="M224.7 298.2h2.2" stroke-opacity="0.62"/><path d="M226.9 298.2h3.4" stroke-opacity="0.34"/><path d="M224.7 305.4h2.2" stroke-opacity="0.62"/><path d="M226.9 305.4h3.4" stroke-opacity="0.34"/><path d="M224.7 312.7h2.2" stroke-opacity="0.62"/><path d="M226.9 312.7h3.4" stroke-opacity="0.34"/><path d="M224.7 319.9h2.2" stroke-opacity="0.62"/><path d="M226.9 319.9h3.4" stroke-opacity="0.34"/><path d="M224.7 327.2h2.2" stroke-opacity="0.62"/><path d="M226.9 327.2h3.4" stroke-opacity="0.34"/><path d="M224.7 334.4h2.2" stroke-opacity="0.62"/><path d="M226.9 334.4h3.4" stroke-opacity="0.34"/><path d="M224.7 341.7h2.2" stroke-opacity="0.62"/><path d="M226.9 341.7h3.4" stroke-opacity="0.34"/><path d="M224.7 348.9h2.2" stroke-opacity="0.62"/><path d="M226.9 348.9h3.4" stroke-opacity="0.34"/><path d="M232.6 225.7h2.2" stroke-opacity="0.62"/><path d="M234.8 225.7h3.4" stroke-opacity="0.34"/><path d="M232.6 232.9h2.2" stroke-opacity="0.62"/><path d="M234.8 232.9h3.4" stroke-opacity="0.34"/><path d="M232.6 240.2h2.2" stroke-opacity="0.62"/><path d="M234.8 240.2h3.4" stroke-opacity="0.34"/><path d="M232.6 247.4h2.2" stroke-opacity="0.62"/><path d="M234.8 247.4h3.4" stroke-opacity="0.34"/><path d="M232.6 254.7h2.2" stroke-opacity="0.62"/><path d="M234.8 254.7h3.4" stroke-opacity="0.34"/><path d="M232.6 261.9h2.2" stroke-opacity="0.62"/><path d="M234.8 261.9h3.4" stroke-opacity="0.34"/><path d="M232.6 269.2h2.2" stroke-opacity="0.62"/><path d="M234.8 269.2h3.4" stroke-opacity="0.34"/><path d="M232.6 276.4h2.2" stroke-opacity="0.62"/><path d="M234.8 276.4h3.4" stroke-opacity="0.34"/><path d="M232.6 283.7h2.2" stroke-opacity="0.62"/><path d="M234.8 283.7h3.4" stroke-opacity="0.34"/><path d="M232.6 290.9h2.2" stroke-opacity="0.62"/><path d="M234.8 290.9h3.4" stroke-opacity="0.34"/><path d="M232.6 298.2h2.2" stroke-opacity="0.62"/><path d="M234.8 298.2h3.4" stroke-opacity="0.34"/><path d="M232.6 305.4h2.2" stroke-opacity="0.62"/><path d="M234.8 305.4h3.4" stroke-opacity="0.34"/><path d="M232.6 312.7h2.2" stroke-opacity="0.62"/><path d="M234.8 312.7h3.4" stroke-opacity="0.34"/><path d="M232.6 319.9h2.2" stroke-opacity="0.62"/><path d="M234.8 319.9h3.4" stroke-opacity="0.34"/><path d="M232.6 327.2h2.2" stroke-opacity="0.62"/><path d="M234.8 327.2h3.4" stroke-opacity="0.34"/><path d="M232.6 334.4h2.2" stroke-opacity="0.62"/><path d="M234.8 334.4h3.4" stroke-opacity="0.34"/><path d="M232.6 341.7h2.2" stroke-opacity="0.62"/><path d="M234.8 341.7h3.4" stroke-opacity="0.34"/><path d="M232.6 348.9h2.2" stroke-opacity="0.62"/><path d="M234.8 348.9h3.4" stroke-opacity="0.34"/><path d="M240.5 225.7h2.2" stroke-opacity="0.62"/><path d="M242.7 225.7h3.4" stroke-opacity="0.34"/><path d="M240.5 232.9h2.2" stroke-opacity="0.62"/><path d="M242.7 232.9h3.4" stroke-opacity="0.34"/><path d="M240.5 240.2h2.2" stroke-opacity="0.62"/><path d="M242.7 240.2h3.4" stroke-opacity="0.34"/><path d="M240.5 247.4h2.2" stroke-opacity="0.62"/><path d="M242.7 247.4h3.4" stroke-opacity="0.34"/><path d="M240.5 254.7h2.2" stroke-opacity="0.62"/><path d="M242.7 254.7h3.4" stroke-opacity="0.34"/><path d="M240.5 261.9h2.2" stroke-opacity="0.62"/><path d="M242.7 261.9h3.4" stroke-opacity="0.34"/><path d="M240.5 269.2h2.2" stroke-opacity="0.62"/><path d="M242.7 269.2h3.4" stroke-opacity="0.34"/><path d="M240.5 276.4h2.2" stroke-opacity="0.62"/><path d="M242.7 276.4h3.4" stroke-opacity="0.34"/><path d="M240.5 283.7h2.2" stroke-opacity="0.62"/><path d="M242.7 283.7h3.4" stroke-opacity="0.34"/><path d="M240.5 290.9h2.2" stroke-opacity="0.62"/><path d="M242.7 290.9h3.4" stroke-opacity="0.34"/><path d="M240.5 298.2h2.2" stroke-opacity="0.62"/><path d="M242.7 298.2h3.4" stroke-opacity="0.34"/><path d="M240.5 305.4h2.2" stroke-opacity="0.62"/><path d="M242.7 305.4h3.4" stroke-opacity="0.34"/><path d="M240.5 312.7h2.2" stroke-opacity="0.62"/><path d="M242.7 312.7h3.4" stroke-opacity="0.34"/><path d="M240.5 319.9h2.2" stroke-opacity="0.62"/><path d="M242.7 319.9h3.4" stroke-opacity="0.34"/><path d="M240.5 327.2h2.2" stroke-opacity="0.62"/><path d="M242.7 327.2h3.4" stroke-opacity="0.34"/><path d="M240.5 334.4h2.2" stroke-opacity="0.62"/><path d="M242.7 334.4h3.4" stroke-opacity="0.34"/><path d="M240.5 341.7h2.2" stroke-opacity="0.62"/><path d="M242.7 341.7h3.4" stroke-opacity="0.34"/><path d="M240.5 348.9h2.2" stroke-opacity="0.62"/><path d="M242.7 348.9h3.4" stroke-opacity="0.34"/><path d="M248.4 225.7h2.2" stroke-opacity="0.62"/><path d="M250.6 225.7h3.4" stroke-opacity="0.34"/><path d="M248.4 232.9h2.2" stroke-opacity="0.62"/><path d="M250.6 232.9h3.4" stroke-opacity="0.34"/><path d="M248.4 240.2h2.2" stroke-opacity="0.62"/><path d="M250.6 240.2h3.4" stroke-opacity="0.34"/><path d="M248.4 247.4h2.2" stroke-opacity="0.62"/><path d="M250.6 247.4h3.4" stroke-opacity="0.34"/><path d="M248.4 254.7h2.2" stroke-opacity="0.62"/><path d="M250.6 254.7h3.4" stroke-opacity="0.34"/><path d="M248.4 261.9h2.2" stroke-opacity="0.62"/><path d="M250.6 261.9h3.4" stroke-opacity="0.34"/><path d="M248.4 269.2h2.2" stroke-opacity="0.62"/><path d="M250.6 269.2h3.4" stroke-opacity="0.34"/><path d="M248.4 276.4h2.2" stroke-opacity="0.62"/><path d="M250.6 276.4h3.4" stroke-opacity="0.34"/><path d="M248.4 283.7h2.2" stroke-opacity="0.62"/><path d="M250.6 283.7h3.4" stroke-opacity="0.34"/><path d="M248.4 290.9h2.2" stroke-opacity="0.62"/><path d="M250.6 290.9h3.4" stroke-opacity="0.34"/><path d="M248.4 298.2h2.2" stroke-opacity="0.62"/><path d="M250.6 298.2h3.4" stroke-opacity="0.34"/><path d="M248.4 305.4h2.2" stroke-opacity="0.62"/><path d="M250.6 305.4h3.4" stroke-opacity="0.34"/><path d="M248.4 312.7h2.2" stroke-opacity="0.62"/><path d="M250.6 312.7h3.4" stroke-opacity="0.34"/><path d="M248.4 319.9h2.2" stroke-opacity="0.62"/><path d="M250.6 319.9h3.4" stroke-opacity="0.34"/><path d="M248.4 327.2h2.2" stroke-opacity="0.62"/><path d="M250.6 327.2h3.4" stroke-opacity="0.34"/><path d="M248.4 334.4h2.2" stroke-opacity="0.62"/><path d="M250.6 334.4h3.4" stroke-opacity="0.34"/><path d="M248.4 341.7h2.2" stroke-opacity="0.62"/><path d="M250.6 341.7h3.4" stroke-opacity="0.34"/><path d="M248.4 348.9h2.2" stroke-opacity="0.62"/><path d="M250.6 348.9h3.4" stroke-opacity="0.34"/><path d="M256.3 225.7h2.2" stroke-opacity="0.62"/><path d="M258.5 225.7h3.4" stroke-opacity="0.34"/><path d="M256.3 232.9h2.2" stroke-opacity="0.62"/><path d="M258.5 232.9h3.4" stroke-opacity="0.34"/><path d="M256.3 240.2h2.2" stroke-opacity="0.62"/><path d="M258.5 240.2h3.4" stroke-opacity="0.34"/><path d="M256.3 247.4h2.2" stroke-opacity="0.62"/><path d="M258.5 247.4h3.4" stroke-opacity="0.34"/><path d="M256.3 254.7h2.2" stroke-opacity="0.62"/><path d="M258.5 254.7h3.4" stroke-opacity="0.34"/><path d="M256.3 261.9h2.2" stroke-opacity="0.62"/><path d="M258.5 261.9h3.4" stroke-opacity="0.34"/><path d="M256.3 269.2h2.2" stroke-opacity="0.62"/><path d="M258.5 269.2h3.4" stroke-opacity="0.34"/><path d="M256.3 276.4h2.2" stroke-opacity="0.62"/><path d="M258.5 276.4h3.4" stroke-opacity="0.34"/><path d="M256.3 283.7h2.2" stroke-opacity="0.62"/><path d="M258.5 283.7h3.4" stroke-opacity="0.34"/><path d="M256.3 290.9h2.2" stroke-opacity="0.62"/><path d="M258.5 290.9h3.4" stroke-opacity="0.34"/><path d="M256.3 298.2h2.2" stroke-opacity="0.62"/><path d="M258.5 298.2h3.4" stroke-opacity="0.34"/><path d="M256.3 305.4h2.2" stroke-opacity="0.62"/><path d="M258.5 305.4h3.4" stroke-opacity="0.34"/><path d="M256.3 312.7h2.2" stroke-opacity="0.62"/><path d="M258.5 312.7h3.4" stroke-opacity="0.34"/><path d="M256.3 319.9h2.2" stroke-opacity="0.62"/><path d="M258.5 319.9h3.4" stroke-opacity="0.34"/><path d="M256.3 327.2h2.2" stroke-opacity="0.62"/><path d="M258.5 327.2h3.4" stroke-opacity="0.34"/><path d="M256.3 334.4h2.2" stroke-opacity="0.62"/><path d="M258.5 334.4h3.4" stroke-opacity="0.34"/><path d="M256.3 341.7h2.2" stroke-opacity="0.62"/><path d="M258.5 341.7h3.4" stroke-opacity="0.34"/><path d="M256.3 348.9h2.2" stroke-opacity="0.62"/><path d="M258.5 348.9h3.4" stroke-opacity="0.34"/><path d="M264.1 225.7h2.2" stroke-opacity="0.62"/><path d="M266.4 225.7h3.4" stroke-opacity="0.34"/><path d="M264.1 232.9h2.2" stroke-opacity="0.62"/><path d="M266.4 232.9h3.4" stroke-opacity="0.34"/><path d="M264.1 240.2h2.2" stroke-opacity="0.62"/><path d="M266.4 240.2h3.4" stroke-opacity="0.34"/><path d="M264.1 247.4h2.2" stroke-opacity="0.62"/><path d="M266.4 247.4h3.4" stroke-opacity="0.34"/><path d="M264.1 254.7h2.2" stroke-opacity="0.62"/><path d="M266.4 254.7h3.4" stroke-opacity="0.34"/><path d="M264.1 261.9h2.2" stroke-opacity="0.62"/><path d="M266.4 261.9h3.4" stroke-opacity="0.34"/><path d="M264.1 269.2h2.2" stroke-opacity="0.62"/><path d="M266.4 269.2h3.4" stroke-opacity="0.34"/><path d="M264.1 276.4h2.2" stroke-opacity="0.62"/><path d="M266.4 276.4h3.4" stroke-opacity="0.34"/><path d="M264.1 283.7h2.2" stroke-opacity="0.62"/><path d="M266.4 283.7h3.4" stroke-opacity="0.34"/><path d="M264.1 290.9h2.2" stroke-opacity="0.62"/><path d="M266.4 290.9h3.4" stroke-opacity="0.34"/><path d="M264.1 298.2h2.2" stroke-opacity="0.62"/><path d="M266.4 298.2h3.4" stroke-opacity="0.34"/><path d="M264.1 305.4h2.2" stroke-opacity="0.62"/><path d="M266.4 305.4h3.4" stroke-opacity="0.34"/><path d="M264.1 312.7h2.2" stroke-opacity="0.62"/><path d="M266.4 312.7h3.4" stroke-opacity="0.34"/><path d="M264.1 319.9h2.2" stroke-opacity="0.62"/><path d="M266.4 319.9h3.4" stroke-opacity="0.34"/><path d="M264.1 327.2h2.2" stroke-opacity="0.62"/><path d="M266.4 327.2h3.4" stroke-opacity="0.34"/><path d="M264.1 334.4h2.2" stroke-opacity="0.62"/><path d="M266.4 334.4h3.4" stroke-opacity="0.34"/><path d="M264.1 341.7h2.2" stroke-opacity="0.62"/><path d="M266.4 341.7h3.4" stroke-opacity="0.34"/><path d="M264.1 348.9h2.2" stroke-opacity="0.62"/><path d="M266.4 348.9h3.4" stroke-opacity="0.34"/><path d="M272.0 225.7h2.2" stroke-opacity="0.62"/><path d="M274.2 225.7h3.4" stroke-opacity="0.34"/><path d="M272.0 232.9h2.2" stroke-opacity="0.62"/><path d="M274.2 232.9h3.4" stroke-opacity="0.34"/><path d="M272.0 240.2h2.2" stroke-opacity="0.62"/><path d="M274.2 240.2h3.4" stroke-opacity="0.34"/><path d="M272.0 247.4h2.2" stroke-opacity="0.62"/><path d="M274.2 247.4h3.4" stroke-opacity="0.34"/><path d="M272.0 254.7h2.2" stroke-opacity="0.62"/><path d="M274.2 254.7h3.4" stroke-opacity="0.34"/><path d="M272.0 261.9h2.2" stroke-opacity="0.62"/><path d="M274.2 261.9h3.4" stroke-opacity="0.34"/><path d="M272.0 269.2h2.2" stroke-opacity="0.62"/><path d="M274.2 269.2h3.4" stroke-opacity="0.34"/><path d="M272.0 276.4h2.2" stroke-opacity="0.62"/><path d="M274.2 276.4h3.4" stroke-opacity="0.34"/><path d="M272.0 283.7h2.2" stroke-opacity="0.62"/><path d="M274.2 283.7h3.4" stroke-opacity="0.34"/><path d="M272.0 290.9h2.2" stroke-opacity="0.62"/><path d="M274.2 290.9h3.4" stroke-opacity="0.34"/><path d="M272.0 298.2h2.2" stroke-opacity="0.62"/><path d="M274.2 298.2h3.4" stroke-opacity="0.34"/><path d="M272.0 305.4h2.2" stroke-opacity="0.62"/><path d="M274.2 305.4h3.4" stroke-opacity="0.34"/><path d="M272.0 312.7h2.2" stroke-opacity="0.62"/><path d="M274.2 312.7h3.4" stroke-opacity="0.34"/><path d="M272.0 319.9h2.2" stroke-opacity="0.62"/><path d="M274.2 319.9h3.4" stroke-opacity="0.34"/><path d="M272.0 327.2h2.2" stroke-opacity="0.62"/><path d="M274.2 327.2h3.4" stroke-opacity="0.34"/><path d="M272.0 334.4h2.2" stroke-opacity="0.62"/><path d="M274.2 334.4h3.4" stroke-opacity="0.34"/><path d="M272.0 341.7h2.2" stroke-opacity="0.62"/><path d="M274.2 341.7h3.4" stroke-opacity="0.34"/><path d="M272.0 348.9h2.2" stroke-opacity="0.62"/><path d="M274.2 348.9h3.4" stroke-opacity="0.34"/><path d="M279.9 225.7h2.2" stroke-opacity="0.62"/><path d="M282.1 225.7h3.4" stroke-opacity="0.34"/><path d="M279.9 232.9h2.2" stroke-opacity="0.62"/><path d="M282.1 232.9h3.4" stroke-opacity="0.34"/><path d="M279.9 240.2h2.2" stroke-opacity="0.62"/><path d="M282.1 240.2h3.4" stroke-opacity="0.34"/><path d="M279.9 247.4h2.2" stroke-opacity="0.62"/><path d="M282.1 247.4h3.4" stroke-opacity="0.34"/><path d="M279.9 254.7h2.2" stroke-opacity="0.62"/><path d="M282.1 254.7h3.4" stroke-opacity="0.34"/><path d="M279.9 261.9h2.2" stroke-opacity="0.62"/><path d="M282.1 261.9h3.4" stroke-opacity="0.34"/><path d="M279.9 269.2h2.2" stroke-opacity="0.62"/><path d="M282.1 269.2h3.4" stroke-opacity="0.34"/><path d="M279.9 276.4h2.2" stroke-opacity="0.62"/><path d="M282.1 276.4h3.4" stroke-opacity="0.34"/><path d="M279.9 283.7h2.2" stroke-opacity="0.62"/><path d="M282.1 283.7h3.4" stroke-opacity="0.34"/><path d="M279.9 290.9h2.2" stroke-opacity="0.62"/><path d="M282.1 290.9h3.4" stroke-opacity="0.34"/><path d="M279.9 298.2h2.2" stroke-opacity="0.62"/><path d="M282.1 298.2h3.4" stroke-opacity="0.34"/><path d="M279.9 305.4h2.2" stroke-opacity="0.62"/><path d="M282.1 305.4h3.4" stroke-opacity="0.34"/><path d="M279.9 312.7h2.2" stroke-opacity="0.62"/><path d="M282.1 312.7h3.4" stroke-opacity="0.34"/><path d="M279.9 319.9h2.2" stroke-opacity="0.62"/><path d="M282.1 319.9h3.4" stroke-opacity="0.34"/><path d="M279.9 327.2h2.2" stroke-opacity="0.62"/><path d="M282.1 327.2h3.4" stroke-opacity="0.34"/><path d="M279.9 334.4h2.2" stroke-opacity="0.62"/><path d="M282.1 334.4h3.4" stroke-opacity="0.34"/><path d="M279.9 341.7h2.2" stroke-opacity="0.62"/><path d="M282.1 341.7h3.4" stroke-opacity="0.34"/><path d="M279.9 348.9h2.2" stroke-opacity="0.62"/><path d="M282.1 348.9h3.4" stroke-opacity="0.34"/><path d="M287.8 225.7h2.2" stroke-opacity="0.62"/><path d="M290.0 225.7h3.4" stroke-opacity="0.34"/><path d="M287.8 232.9h2.2" stroke-opacity="0.62"/><path d="M290.0 232.9h3.4" stroke-opacity="0.34"/><path d="M287.8 240.2h2.2" stroke-opacity="0.62"/><path d="M290.0 240.2h3.4" stroke-opacity="0.34"/><path d="M287.8 247.4h2.2" stroke-opacity="0.62"/><path d="M290.0 247.4h3.4" stroke-opacity="0.34"/><path d="M287.8 254.7h2.2" stroke-opacity="0.62"/><path d="M290.0 254.7h3.4" stroke-opacity="0.34"/><path d="M287.8 261.9h2.2" stroke-opacity="0.62"/><path d="M290.0 261.9h3.4" stroke-opacity="0.34"/><path d="M287.8 269.2h2.2" stroke-opacity="0.62"/><path d="M290.0 269.2h3.4" stroke-opacity="0.34"/><path d="M287.8 276.4h2.2" stroke-opacity="0.62"/><path d="M290.0 276.4h3.4" stroke-opacity="0.34"/><path d="M287.8 283.7h2.2" stroke-opacity="0.62"/><path d="M290.0 283.7h3.4" stroke-opacity="0.34"/><path d="M287.8 290.9h2.2" stroke-opacity="0.62"/><path d="M290.0 290.9h3.4" stroke-opacity="0.34"/><path d="M287.8 298.2h2.2" stroke-opacity="0.62"/><path d="M290.0 298.2h3.4" stroke-opacity="0.34"/><path d="M287.8 305.4h2.2" stroke-opacity="0.62"/><path d="M290.0 305.4h3.4" stroke-opacity="0.34"/><path d="M287.8 312.7h2.2" stroke-opacity="0.62"/><path d="M290.0 312.7h3.4" stroke-opacity="0.34"/><path d="M287.8 319.9h2.2" stroke-opacity="0.62"/><path d="M290.0 319.9h3.4" stroke-opacity="0.34"/><path d="M287.8 327.2h2.2" stroke-opacity="0.62"/><path d="M290.0 327.2h3.4" stroke-opacity="0.34"/><path d="M287.8 334.4h2.2" stroke-opacity="0.62"/><path d="M290.0 334.4h3.4" stroke-opacity="0.34"/><path d="M287.8 341.7h2.2" stroke-opacity="0.62"/><path d="M290.0 341.7h3.4" stroke-opacity="0.34"/><path d="M287.8 348.9h2.2" stroke-opacity="0.62"/><path d="M290.0 348.9h3.4" stroke-opacity="0.34"/></g>
</g>
<ellipse cx="179.7" cy="287.7" rx="27.1" ry="25.0" fill="#fff" stroke="#a05020" stroke-width="0.6" stroke-opacity="0.7"/>
<circle cx="176.3" cy="287.4" r="34.2" fill="none" stroke="#404040" stroke-opacity="0.55" stroke-width="0.7"/>
<rect x="299.6" y="228.6" width="4.7" height="124.4" fill="url(#jetg)"/>
<g font-family="Liberation Serif" font-weight="bold" fill="#1a1a1a"><text x="41.4" y="230.3" font-size="11.6" textLength="23.4" lengthAdjust="spacingAndGlyphs">0.12</text><text x="31.7" y="355.7" font-size="11.6" textLength="32.6" lengthAdjust="spacingAndGlyphs">−0.12</text><text x="56.6" y="364.0" font-size="11.6" textLength="26.2" lengthAdjust="spacingAndGlyphs">−0.2</text><text x="285.2" y="366.8" font-size="11.6" textLength="17.2" lengthAdjust="spacingAndGlyphs">0.2</text><text x="163.4" y="365.5" font-size="11" textLength="29.9" lengthAdjust="spacingAndGlyphs">x (m)</text><text transform="translate(61.4,301.5) rotate(-90)" font-size="12.5" textLength="28.1" lengthAdjust="spacingAndGlyphs">y (m)</text><text x="307.2" y="234.6" font-size="10.4" textLength="15.2" lengthAdjust="spacingAndGlyphs">1.2</text><text x="305.6" y="354.2" font-size="11.6" textLength="6.6" lengthAdjust="spacingAndGlyphs">0</text><text x="296.3" y="224.2" font-size="11" textLength="45.3" lengthAdjust="spacingAndGlyphs"><tspan font-style="italic">E</tspan> (V/m)</text></g><text x="171.8" y="377.7" font-family="Liberation Sans" font-weight="bold" font-size="10" textLength="12.4" lengthAdjust="spacingAndGlyphs" fill="#222">(b)</text>
<clipPath id="clipc"><rect x="64.6" y="397.9" width="229.4" height="132.6"/></clipPath>
<g clip-path="url(#clipc)">
<g><rect x="63" y="396" width="232" height="136" fill="#0044ff"/><path fill="#004cff" fill-rule="evenodd" d="M294.5 531.7L63.5 531.7L63.3 396.5L294.5 396.3L294.5 531.7Z"/><path fill="#0054ff" fill-rule="evenodd" d="M294.5 531.7L63.5 531.7L63.3 396.5L294.5 396.3L294.5 531.7ZM155.0 445.5L157.6 442.5L154.3 445.5L154.5 446.0L155.0 445.5ZM157.7 487.5L154.2 484.5L155.9 486.5L157.7 487.5Z"/><path fill="#005cff" fill-rule="evenodd" d="M294.5 531.7L63.5 531.7L63.3 396.5L294.5 396.3L294.5 531.7ZM154.5 446.5L159.5 441.4L155.9 443.5L153.4 446.5L153.5 446.9L154.5 446.5ZM159.1 488.5L153.5 483.3L153.8 484.5L155.4 486.5L158.1 488.5L159.1 488.5Z"/><path fill="#0064ff" fill-rule="evenodd" d="M294.5 531.7L63.5 531.7L63.3 396.5L294.5 396.3L294.5 531.7ZM153.5 447.5L160.8 440.5L158.3 441.5L154.6 444.5L153.2 446.5L153.5 447.5ZM160.6 489.5L154.5 483.7L153.5 483.0L153.0 483.5L154.2 485.5L156.5 487.6L159.5 489.6L160.6 489.5Z"/><path fill="#006cff" fill-rule="evenodd" d="M294.5 531.7L63.5 531.7L63.3 396.5L294.5 396.3L294.5 531.7ZM153.8 447.5L161.5 440.5L159.7 440.5L155.4 443.5L152.5 447.5L153.8 447.5ZM161.7 490.5L154.5 483.5L152.5 482.4L153.3 484.5L156.1 487.5L159.0 489.5L161.7 490.5Z"/><path fill="#0074ff" fill-rule="evenodd" d="M294.5 531.7L63.5 531.6L63.4 396.5L294.5 396.3L294.5 531.7ZM152.5 448.5L161.7 440.5L162.1 439.5L159.3 440.5L155.2 443.5L152.7 446.5L152.3 447.5L152.5 448.5ZM162.3 490.5L153.5 482.4L152.5 482.0L152.5 483.5L155.9 487.5L160.4 490.5L162.3 490.5Z"/><path fill="#007cff" fill-rule="evenodd" d="M294.5 531.7L63.5 531.6L63.4 396.5L294.5 396.3L294.5 531.7ZM152.9 448.5L162.9 439.5L161.5 439.4L159.5 440.3L155.1 443.5L152.5 446.6L152.1 448.5L152.9 448.5ZM162.7 490.5L152.5 481.6L152.0 482.5L152.3 483.5L155.8 487.5L160.5 490.6L162.5 490.9L162.7 490.5Z"/><path fill="#0083ff" fill-rule="evenodd" d="M294.5 531.7L63.5 531.6L63.4 396.5L294.5 396.3L294.5 531.7ZM153.3 448.5L163.2 439.5L162.5 439.1L160.7 439.5L154.9 443.5L151.9 447.5L151.7 448.5L152.5 449.0L153.3 448.5ZM162.6 491.5L162.9 490.5L153.5 482.0L151.9 481.5L152.2 483.5L154.5 486.5L158.5 489.7L162.6 491.5Z"/><path fill="#008bff" fill-rule="evenodd" d="M294.5 531.7L63.5 531.6L63.5 468.9L65.5 468.3L67.6 465.5L65.5 462.1L63.5 461.5L63.4 396.5L294.5 396.3L294.5 531.7ZM153.6 448.5L163.5 439.3L162.5 438.9L160.5 439.4L154.8 443.5L152.2 446.5L151.4 448.5L152.5 449.2L153.6 448.5ZM163.6 491.5L163.2 490.5L158.5 486.9L153.5 481.9L152.5 481.2L151.5 481.3L152.5 484.3L155.5 487.6L159.6 490.5L161.9 491.5L163.6 491.5Z"/><path fill="#0093ff" fill-rule="evenodd" d="M294.5 531.7L63.5 531.6L63.5 479.3L65.5 478.7L69.5 473.3L71.7 465.5L69.5 457.1L65.5 451.7L63.5 451.1L63.4 396.5L294.5 396.3L294.5 531.7ZM152.4 449.5L163.8 439.5L163.5 438.6L160.2 439.5L154.5 443.6L151.6 447.5L151.4 449.5L152.4 449.5ZM164.0 491.5L163.4 490.5L158.5 486.7L153.5 481.7L151.5 480.8L151.2 481.5L151.9 483.5L155.5 487.7L161.5 491.5L164.0 491.5Z"/><path fill="#009bff" fill-rule="evenodd" d="M294.5 531.7L63.5 531.6L63.5 489.7L65.5 489.0L69.5 483.7L74.2 465.5L69.5 446.7L65.5 441.4L63.5 440.7L63.4 396.5L294.5 396.3L294.5 531.7ZM152.7 449.5L158.5 443.8L164.0 439.5L163.9 438.5L162.5 438.5L160.0 439.5L154.5 443.5L152.0 446.5L151.1 448.5L151.1 449.5L152.7 449.5ZM164.3 491.5L153.5 481.5L151.4 480.5L151.0 481.5L151.7 483.5L155.5 487.8L161.2 491.5L163.5 491.9L164.3 491.5Z"/><path fill="#00a3ff" fill-rule="evenodd" d="M294.5 531.7L63.5 531.6L63.5 499.6L65.5 499.0L69.5 494.0L76.6 465.5L69.5 436.4L65.5 431.4L63.5 430.8L63.4 396.5L294.5 396.3L294.5 531.7ZM152.9 449.5L158.5 443.9L164.2 439.5L164.4 438.5L162.5 438.4L160.5 439.1L154.3 443.5L151.8 446.5L150.9 448.5L150.9 449.5L151.5 449.8L152.9 449.5ZM164.6 491.5L158.5 486.5L153.5 481.4L152.2 480.5L151.0 480.5L151.1 482.5L152.2 484.5L156.1 488.5L161.5 491.7L163.5 492.1L164.6 491.5Z"/><path fill="#00abff" fill-rule="evenodd" d="M294.5 531.7L63.5 531.6L63.5 507.0L65.5 506.7L66.9 505.5L69.5 503.1L70.5 500.9L79.1 465.5L70.5 429.5L69.5 427.3L67.6 425.5L65.5 423.7L63.5 423.3L63.4 396.5L294.5 396.3L294.5 531.7ZM153.1 449.5L158.5 444.0L164.5 439.5L164.7 438.5L163.5 438.1L161.5 438.6L157.9 440.5L154.5 443.2L152.4 445.5L150.8 448.5L150.6 449.5L151.5 450.0L153.1 449.5ZM164.8 491.5L158.5 486.4L152.5 480.5L150.7 480.5L151.0 482.5L152.1 484.5L156.5 488.9L161.5 491.8L163.5 492.3L164.8 491.5Z"/><path fill="#00b3ff" fill-rule="evenodd" d="M294.5 531.7L63.5 531.6L63.5 511.0L65.5 510.8L69.5 508.6L71.3 505.5L74.1 496.5L81.6 465.5L74.5 435.5L71.6 425.5L69.5 421.8L65.5 419.6L63.5 419.3L63.4 396.5L294.5 396.3L294.5 531.7ZM153.3 449.5L158.5 444.1L164.7 439.5L165.0 438.5L163.5 438.0L161.4 438.5L154.5 443.1L151.6 446.5L150.4 449.5L151.5 450.1L153.3 449.5ZM165.0 491.5L158.5 486.2L152.7 480.5L150.4 480.5L152.0 484.5L156.5 489.0L162.5 492.3L164.5 492.2L165.0 491.5Z"/><path fill="#00bbff" fill-rule="evenodd" d="M294.5 531.7L63.5 531.6L63.5 513.4L65.5 513.2L69.7 511.5L71.5 509.5L73.7 505.5L76.6 496.5L84.0 465.5L77.0 435.5L73.9 425.5L70.4 419.5L66.4 417.5L63.5 417.0L63.4 396.5L294.5 396.3L294.5 531.7ZM153.5 449.5L158.5 444.3L164.9 439.5L165.2 438.5L163.5 437.9L161.5 438.3L157.6 440.5L154.5 442.9L151.4 446.5L150.2 449.5L151.5 450.2L153.5 449.5ZM164.5 492.5L165.3 491.5L164.4 490.5L158.9 486.5L153.5 481.0L151.5 480.1L150.2 480.5L151.8 484.5L155.5 488.3L160.5 491.6L164.5 492.5Z"/><path fill="#00c3ff" fill-rule="evenodd" d="M294.5 531.7L63.5 531.6L63.5 515.1L65.5 514.9L70.5 512.9L73.6 509.5L76.0 505.5L79.0 496.5L86.5 465.5L79.5 435.5L76.3 425.5L74.1 421.5L70.5 417.4L65.6 415.5L63.5 415.3L63.4 396.5L294.5 396.3L294.5 531.7ZM153.6 449.5L158.5 444.4L165.1 439.5L165.5 438.5L163.5 437.8L161.5 438.2L157.5 440.4L154.5 442.8L151.3 446.5L150.1 449.5L151.5 450.4L153.6 449.5ZM164.9 492.5L165.5 491.5L164.6 490.5L159.0 486.5L153.5 480.9L151.5 480.0L150.0 480.5L151.7 484.5L155.5 488.5L160.5 491.7L162.5 492.5L164.9 492.5Z"/><path fill="#00cbff" fill-rule="evenodd" d="M294.5 531.6L63.5 531.6L63.5 516.3L65.5 516.2L70.5 514.5L74.9 510.5L78.3 505.5L81.5 496.5L89.0 465.5L81.9 435.5L78.6 425.5L75.4 420.5L71.3 416.5L69.5 415.4L63.5 414.1L63.4 396.5L294.5 396.4L294.5 531.6ZM151.5 450.5L153.7 449.5L158.5 444.5L165.3 439.5L165.7 438.5L164.5 437.7L161.5 438.1L155.5 441.8L152.7 444.5L150.6 447.5L149.9 449.5L150.5 450.4L151.5 450.5ZM165.2 492.5L165.7 491.5L164.8 490.5L159.2 486.5L153.2 480.5L151.5 479.9L149.9 480.5L151.6 484.5L155.5 488.6L161.5 492.2L163.5 492.8L165.2 492.5Z"/><path fill="#00d3ff" fill-rule="evenodd" d="M294.5 531.6L63.5 531.6L63.5 517.4L69.5 516.2L73.5 513.5L78.6 508.5L81.6 503.5L84.5 494.5L91.4 465.5L84.4 435.5L80.9 425.5L77.5 420.5L71.7 415.5L69.5 414.2L63.5 413.0L63.4 396.5L294.5 396.4L294.5 531.6ZM151.8 450.5L153.9 449.5L158.6 444.5L165.5 439.5L165.9 438.5L164.5 437.5L162.5 437.7L159.5 439.0L155.5 441.7L151.7 445.5L150.0 448.5L149.7 449.5L150.3 450.5L151.8 450.5ZM165.5 492.5L165.9 491.5L165.0 490.5L159.3 486.5L153.3 480.5L151.5 479.8L149.7 480.5L150.2 482.5L152.2 485.5L156.5 489.5L161.9 492.5L163.5 492.9L165.5 492.5Z"/><path fill="#00dbff" fill-rule="evenodd" d="M294.5 531.6L63.5 531.6L63.5 518.3L69.5 517.1L75.3 513.5L80.7 508.5L83.9 503.5L86.9 494.5L93.9 465.5L87.3 437.5L84.2 427.5L80.4 421.5L74.7 416.5L69.5 413.3L63.5 412.1L63.4 396.5L294.5 396.4L294.5 531.6ZM152.1 450.5L154.0 449.5L159.9 443.5L165.7 439.5L166.1 438.5L164.5 437.4L161.5 437.9L154.5 442.4L151.6 445.5L149.8 448.5L149.9 450.5L152.1 450.5ZM165.7 492.5L166.1 491.5L165.2 490.5L159.4 486.5L153.5 480.5L151.5 479.8L149.5 480.5L150.1 482.5L152.0 485.5L156.5 489.6L162.5 492.8L165.7 492.5Z"/><path fill="#00e3ff" fill-rule="evenodd" d="M294.5 531.6L63.5 531.6L63.5 519.2L70.5 517.6L77.0 513.5L82.8 508.5L86.2 503.5L89.4 494.5L96.4 465.5L89.8 437.5L86.5 427.5L82.4 421.5L76.4 416.5L69.8 412.5L63.5 411.2L63.4 396.5L294.5 396.4L294.5 531.6ZM152.5 450.5L154.2 449.5L160.1 443.5L165.9 439.5L166.3 438.5L165.3 437.5L162.5 437.5L158.5 439.3L154.5 442.2L150.7 446.5L149.4 449.5L149.6 450.5L152.5 450.5ZM165.9 492.5L166.3 491.5L165.4 490.5L159.5 486.5L153.6 480.5L151.5 479.7L149.3 480.5L149.9 482.5L151.9 485.5L156.5 489.7L162.5 492.9L164.5 493.1L165.9 492.5Z"/><path fill="#00ebff" fill-rule="evenodd" d="M294.5 531.6L63.5 531.6L63.5 519.9L70.2 518.5L77.1 514.5L83.7 509.5L88.5 503.5L91.8 494.5L98.8 465.5L92.2 437.5L88.8 427.5L84.4 421.5L78.0 416.5L70.5 412.0L63.5 410.5L63.4 396.5L294.5 396.4L294.5 531.6ZM152.7 450.5L154.3 449.5L160.2 443.5L166.1 439.5L166.6 438.5L165.5 437.4L162.5 437.4L158.5 439.2L154.5 442.1L151.3 445.5L149.2 449.5L149.5 450.6L152.7 450.5ZM166.1 492.5L166.6 491.5L165.6 490.5L159.7 486.5L153.8 480.5L151.5 479.6L149.1 480.5L151.7 485.5L156.5 489.9L162.5 493.0L164.5 493.2L166.1 492.5Z"/><path fill="#00f3ff" fill-rule="evenodd" d="M294.5 531.6L63.5 531.6L63.5 520.7L70.5 519.1L78.7 514.5L85.6 509.5L90.7 503.5L94.0 495.5L99.5 473.1L102.8 465.5L99.5 457.3L94.1 435.5L91.1 427.5L86.3 421.5L79.6 416.5L70.5 411.3L63.5 409.7L63.4 396.5L294.5 396.4L294.5 531.6ZM152.8 450.5L154.5 449.5L160.3 443.5L166.3 439.5L166.8 438.5L165.5 437.3L162.5 437.3L158.5 439.1L154.5 441.9L151.1 445.5L149.0 449.5L149.0 450.5L149.5 450.7L152.8 450.5ZM166.4 492.5L166.8 491.5L165.8 490.5L159.8 486.5L153.9 480.5L150.5 479.5L148.9 480.5L151.6 485.5L156.5 490.0L162.5 493.1L164.5 493.3L166.4 492.5Z"/><path fill="#00fbff" fill-rule="evenodd" d="M294.5 531.6L63.5 531.6L63.5 521.4L70.5 519.8L80.2 514.5L88.6 508.5L92.9 503.5L96.1 496.5L100.5 480.4L108.0 465.5L100.5 450.0L95.9 433.5L92.7 426.5L88.2 421.5L79.5 415.5L70.5 410.6L63.5 409.0L63.4 396.5L294.5 396.4L294.5 531.6ZM153.0 450.5L154.6 449.5L159.3 444.5L166.5 439.5L167.0 438.5L165.5 437.2L162.5 437.2L158.5 439.0L154.5 441.8L150.2 446.5L148.7 450.5L150.5 451.0L153.0 450.5ZM166.6 492.5L167.0 491.5L160.0 486.5L154.1 480.5L150.5 479.4L148.7 480.5L151.4 485.5L156.5 490.1L162.5 493.2L164.5 493.4L166.6 492.5Z"/><path fill="#04fffb" fill-rule="evenodd" d="M294.5 531.6L63.5 531.5L63.5 522.0L70.5 520.5L79.9 515.5L89.3 509.5L94.4 504.5L97.3 499.5L100.5 490.4L111.2 469.5L110.4 465.5L111.0 460.5L100.5 440.0L97.6 431.5L95.5 427.5L91.2 422.5L82.7 416.5L70.5 409.9L63.5 408.4L63.4 396.5L294.5 396.4L294.5 531.6ZM153.2 450.5L154.8 449.5L159.4 444.5L166.8 439.5L167.2 438.5L165.5 437.1L162.5 437.1L158.5 438.9L154.5 441.7L150.0 446.5L148.4 450.5L150.5 451.1L153.2 450.5ZM164.6 493.5L166.8 492.5L167.3 491.5L160.1 486.5L154.2 480.5L152.5 479.6L150.5 479.3L148.6 480.5L150.5 484.5L154.5 488.8L159.5 492.1L164.6 493.5Z"/><path fill="#0cfff3" fill-rule="evenodd" d="M294.5 531.6L63.5 531.5L63.5 522.7L70.5 521.2L81.3 515.5L91.0 509.5L96.5 504.5L105.5 490.5L114.9 472.5L111.4 468.5L110.9 465.5L111.6 461.5L114.7 458.5L114.7 457.5L105.9 440.5L97.7 427.5L93.0 422.5L84.2 416.5L70.5 409.2L63.5 407.7L63.5 396.5L294.5 396.4L294.5 531.6ZM153.4 450.5L154.9 449.5L159.5 444.5L167.0 439.5L167.5 438.5L165.5 437.0L162.5 437.0L158.5 438.7L153.5 442.4L149.8 446.5L148.2 450.5L150.5 451.2L153.4 450.5ZM165.1 493.5L167.0 492.5L167.5 491.5L160.3 486.5L154.4 480.5L152.5 479.5L150.5 479.2L149.2 479.5L148.3 480.5L150.3 484.5L154.5 488.9L160.5 492.7L163.5 493.6L165.1 493.5Z"/><path fill="#14ffeb" fill-rule="evenodd" d="M294.5 531.6L63.5 531.5L63.5 523.4L70.5 521.8L88.0 512.5L95.3 507.5L104.5 498.5L111.2 489.5L119.5 473.5L117.5 473.1L115.5 472.0L112.5 469.5L111.6 467.5L111.5 463.5L112.1 461.5L114.5 459.0L119.4 456.5L112.6 443.5L108.3 436.5L105.1 432.5L97.1 424.5L90.6 419.5L70.5 408.6L63.5 407.0L63.5 396.5L294.5 396.4L294.5 531.6ZM153.6 450.5L159.7 444.5L167.2 439.5L167.8 438.5L165.5 436.9L162.5 436.9L157.5 439.2L153.5 442.1L149.7 446.5L147.9 450.5L150.5 451.3L153.6 450.5ZM165.6 493.5L167.8 491.5L160.4 486.5L154.5 480.5L152.5 479.4L150.5 479.1L148.9 479.5L148.0 480.5L150.8 485.5L155.5 489.9L161.5 493.2L165.6 493.5Z"/><path fill="#1cffe3" fill-rule="evenodd" d="M294.5 531.6L63.5 531.5L63.5 524.1L70.5 522.5L89.5 512.5L95.8 508.5L108.6 498.5L112.5 494.5L116.1 489.5L124.3 474.5L121.5 474.2L115.5 471.5L113.0 469.5L112.0 467.5L111.9 463.5L113.3 460.5L116.5 458.3L124.1 455.5L118.3 444.5L113.8 437.5L107.0 430.5L92.2 419.5L70.5 407.9L63.5 406.3L63.5 396.5L294.5 396.4L294.5 531.6ZM153.7 450.5L159.9 444.5L167.4 439.5L168.1 438.5L165.5 436.8L162.5 436.8L157.5 439.0L153.5 441.9L150.1 445.5L147.6 450.5L150.5 451.3L153.7 450.5ZM165.8 493.5L168.1 491.5L160.5 486.4L154.7 480.5L152.5 479.3L150.5 479.1L148.6 479.5L147.8 480.5L150.6 485.5L155.5 490.0L161.5 493.3L163.5 493.8L165.8 493.5Z"/><path fill="#24ffdb" fill-rule="evenodd" d="M294.5 531.6L63.5 531.5L63.5 524.9L70.5 523.2L92.7 511.5L109.7 500.5L114.7 496.5L118.6 492.5L124.1 484.5L128.5 476.4L128.5 475.5L126.5 475.4L125.3 474.5L118.5 472.7L114.5 470.5L112.5 467.5L112.6 462.5L113.8 460.5L117.5 458.1L128.7 454.5L123.9 445.5L119.9 439.5L115.4 434.5L110.6 430.5L95.3 420.5L86.5 415.5L70.5 407.2L63.5 405.5L63.5 396.5L294.5 396.4L294.5 531.6ZM153.9 450.5L160.1 444.5L167.7 439.5L168.3 438.5L165.5 436.7L162.5 436.7L157.5 438.9L153.8 441.5L149.8 445.5L147.3 450.5L150.5 451.4L153.9 450.5ZM166.1 493.5L168.4 491.5L160.5 486.2L154.8 480.5L151.5 479.0L148.1 479.5L147.5 480.5L148.8 483.5L151.2 486.5L154.5 489.4L161.5 493.4L164.5 493.9L166.1 493.5Z"/><path fill="#2cffd3" fill-rule="evenodd" d="M294.5 531.6L63.5 531.5L63.5 525.7L70.5 523.9L94.1 511.5L114.4 499.5L119.7 495.5L123.9 491.5L128.5 485.5L133.1 477.5L132.6 476.5L130.5 476.4L129.0 475.5L119.5 472.8L115.0 470.5L113.0 467.5L113.1 462.5L114.3 460.5L117.5 458.4L130.4 454.5L131.5 453.6L133.4 453.5L128.9 445.5L125.3 440.5L120.4 435.5L115.2 431.5L93.4 418.5L70.5 406.5L63.5 404.7L63.5 396.5L294.5 396.4L294.5 531.6ZM151.0 451.5L152.5 451.3L155.5 449.5L160.3 444.5L168.7 438.5L165.5 436.6L163.5 436.5L159.5 437.7L154.5 440.7L149.6 445.5L146.8 450.5L151.0 451.5ZM166.3 493.5L168.6 491.5L161.0 486.5L155.0 480.5L151.5 478.9L147.6 479.5L147.0 480.5L149.2 484.5L154.3 489.5L161.5 493.5L164.5 494.0L166.3 493.5Z"/><path fill="#34ffcb" fill-rule="evenodd" d="M294.5 531.6L63.5 531.5L63.5 526.6L65.5 526.4L70.5 524.7L112.2 502.5L123.2 495.5L130.0 489.5L134.0 484.5L137.7 478.5L136.7 477.5L134.5 477.3L119.5 472.6L115.5 470.5L113.4 467.5L113.5 462.5L114.8 460.5L118.5 458.2L131.5 454.0L134.6 453.5L135.5 452.7L138.0 452.5L134.4 446.5L130.6 441.5L125.3 436.5L119.8 432.5L109.7 426.5L70.5 405.7L65.5 403.9L63.5 403.8L63.5 396.5L294.5 396.4L294.5 531.6ZM151.8 451.5L155.5 449.6L161.5 443.6L169.0 438.5L165.6 436.5L163.5 436.4L158.5 438.0L153.5 441.2L149.1 445.5L146.2 450.5L149.5 451.5L151.8 451.5ZM166.5 493.5L168.9 491.5L161.2 486.5L155.2 480.5L151.5 478.8L146.2 479.5L148.8 484.5L154.5 489.9L161.5 493.6L164.5 494.1L166.5 493.5Z"/><path fill="#3cffc3" fill-rule="evenodd" d="M294.5 531.6L63.5 531.5L63.5 527.7L65.5 527.5L70.5 525.5L114.6 502.5L124.9 496.5L133.1 490.5L140.5 482.4L143.5 480.4L144.5 480.3L145.5 481.2L151.0 487.5L157.5 492.0L163.5 494.2L165.5 494.0L168.3 492.5L169.1 491.5L162.5 487.4L156.5 481.5L153.5 479.4L150.5 478.7L142.5 479.4L141.6 478.5L138.5 478.2L137.3 477.5L134.5 477.1L119.8 472.5L114.9 469.5L113.9 467.5L113.7 464.5L114.0 462.5L115.3 460.5L121.0 457.5L136.5 452.8L139.0 452.5L139.5 451.9L143.2 451.5L144.5 450.5L150.5 451.7L153.5 451.0L155.8 449.5L161.5 443.8L169.4 438.5L164.5 436.2L161.5 436.7L158.5 437.9L152.7 441.5L149.4 444.5L145.5 449.2L144.5 450.1L143.5 450.0L140.5 448.0L135.8 442.5L131.4 438.5L121.0 431.5L70.5 404.9L65.5 402.9L63.5 402.7L63.5 396.5L294.5 396.4L294.5 531.6Z"/><path fill="#44ffbb" fill-rule="evenodd" d="M294.5 531.6L63.5 531.5L63.5 529.0L65.5 528.7L69.5 527.0L82.6 519.5L120.6 500.5L132.5 493.5L140.5 487.6L145.5 485.3L147.5 485.4L155.5 491.1L161.5 493.9L165.5 494.1L168.5 492.5L169.4 491.5L162.5 487.3L155.5 480.5L153.5 479.3L150.5 478.6L143.5 479.2L120.3 472.5L115.4 469.5L114.4 467.5L114.2 464.5L114.5 462.5L115.7 460.5L121.5 457.5L144.5 451.0L146.5 450.9L150.5 451.8L153.5 451.1L155.9 449.5L161.5 443.9L169.7 438.5L165.5 436.3L162.5 436.3L156.5 438.7L147.5 444.9L145.5 445.1L140.5 442.9L131.9 436.5L119.8 429.5L81.8 410.5L69.5 403.4L65.5 401.7L63.5 401.5L63.5 396.5L294.5 396.4L294.5 531.6Z"/><path fill="#4cffb3" fill-rule="evenodd" d="M294.5 531.6L65.0 531.5L65.0 530.5L69.5 528.3L80.1 521.5L124.7 499.5L140.5 490.4L148.5 488.1L150.5 488.5L158.5 492.9L162.5 494.2L165.5 494.2L168.9 492.5L169.6 491.5L162.5 487.2L155.5 480.4L153.5 479.2L150.5 478.5L147.5 479.1L143.5 479.0L120.9 472.5L115.8 469.5L114.8 467.5L114.6 464.5L114.9 462.5L116.2 460.5L122.0 457.5L141.5 451.9L145.5 451.1L150.5 451.9L153.5 451.2L156.0 449.5L161.5 444.0L170.0 438.5L166.4 436.5L163.5 436.0L157.5 438.0L149.5 442.2L147.5 442.2L140.5 440.0L125.8 431.5L85.0 411.5L75.9 406.5L69.5 402.1L65.5 400.0L63.5 399.7L63.5 396.5L294.5 396.4L294.5 531.6Z"/><path fill="#54ffab" fill-rule="evenodd" d="M294.5 531.6L68.5 531.5L68.5 530.5L73.5 526.5L83.3 520.5L99.5 512.2L124.7 500.5L140.5 492.2L150.5 489.9L162.5 494.3L165.5 494.3L169.2 492.5L169.8 491.5L161.5 486.3L155.5 480.4L153.5 479.1L150.5 478.5L144.5 479.0L121.4 472.5L116.3 469.5L115.3 467.5L115.1 464.5L115.4 462.5L116.7 460.5L122.5 457.5L141.5 452.1L146.5 451.3L151.5 451.9L153.5 451.3L156.1 449.5L161.5 444.1L170.4 438.5L164.5 435.9L159.5 436.9L150.5 440.5L140.5 438.2L125.9 430.5L99.5 418.2L80.7 408.5L74.3 404.5L66.7 398.5L65.6 397.5L65.6 396.5L294.5 396.4L294.5 531.6Z"/><path fill="#5cffa3" fill-rule="evenodd" d="M294.5 531.6L71.0 531.5L71.0 530.5L75.1 526.5L84.6 520.5L99.5 512.9L124.5 501.5L139.5 494.0L151.5 491.4L153.5 491.5L160.5 494.0L163.5 494.6L165.5 494.4L169.7 492.5L170.0 491.5L161.5 486.2L155.5 480.3L153.5 479.0L150.5 478.4L144.5 478.8L121.9 472.5L116.7 469.5L115.7 467.5L115.5 464.5L115.8 462.5L117.1 460.5L122.5 457.7L142.5 452.1L146.5 451.5L151.5 452.0L153.5 451.4L163.5 442.7L170.6 438.5L164.5 435.8L161.5 436.1L152.5 439.1L139.5 436.4L123.6 428.5L99.5 417.5L82.1 408.5L73.4 402.5L69.1 397.5L69.1 396.5L294.5 396.4L294.5 531.6Z"/><path fill="#64ff9b" fill-rule="evenodd" d="M294.5 531.6L72.9 531.5L72.9 530.5L73.6 529.5L76.7 526.5L85.9 520.5L99.5 513.5L139.5 495.1L153.5 492.4L161.5 494.4L164.5 494.7L170.3 492.5L170.2 491.5L161.5 486.1L155.5 480.2L153.5 478.9L150.5 478.3L145.5 478.8L140.5 477.8L120.0 471.5L116.5 468.5L116.0 464.5L116.3 462.5L117.6 460.5L122.5 457.9L142.5 452.2L146.5 451.6L151.5 452.1L153.5 451.5L156.3 449.5L159.5 446.0L163.5 442.8L170.9 438.5L164.5 435.7L161.5 435.9L153.5 438.0L139.5 435.3L99.5 416.9L85.1 409.5L78.8 405.5L75.1 402.5L72.6 399.5L71.5 396.5L294.5 396.5L294.5 531.6Z"/><path fill="#6cff93" fill-rule="evenodd" d="M294.5 531.5L74.8 531.5L75.5 529.5L78.3 526.5L89.0 519.5L99.5 514.1L139.5 496.0L154.5 493.3L164.5 494.8L168.5 493.0L171.0 492.5L170.4 491.5L161.5 486.1L155.5 480.1L153.5 478.8L151.5 478.2L146.5 478.7L143.5 478.3L123.0 472.5L120.5 471.5L117.6 469.5L116.6 467.5L116.4 465.5L117.2 461.5L120.5 458.9L130.3 455.5L142.5 452.3L146.5 451.7L151.5 452.2L153.5 451.6L156.4 449.5L159.5 446.1L163.5 442.9L171.2 438.5L164.5 435.6L154.5 437.1L139.5 434.4L99.5 416.3L86.5 409.5L80.3 405.5L76.8 402.5L74.5 399.5L73.5 396.5L294.5 396.5L294.5 531.5Z"/><path fill="#74ff8b" fill-rule="evenodd" d="M294.5 531.5L76.7 531.5L77.3 529.5L80.0 526.5L83.7 523.5L90.3 519.5L100.5 514.3L139.5 496.8L155.5 494.0L164.5 494.9L169.5 492.8L171.8 492.5L161.5 486.0L155.5 480.1L153.5 478.7L151.5 478.2L146.5 478.6L143.5 478.2L132.8 475.5L123.5 472.5L121.0 471.5L118.1 469.5L117.0 467.5L116.8 465.5L117.6 461.5L120.5 459.2L130.7 455.5L142.5 452.4L146.5 451.8L151.5 452.2L153.5 451.7L155.5 450.4L159.5 446.2L163.5 443.0L171.4 438.5L164.5 435.5L155.5 436.4L139.5 433.6L99.5 415.7L87.8 409.5L81.8 405.5L78.6 402.5L76.4 399.5L75.6 396.5L294.5 396.5L294.5 531.5Z"/><path fill="#7cff83" fill-rule="evenodd" d="M294.5 531.5L78.6 531.5L79.2 529.5L82.7 525.5L91.6 519.5L100.5 514.9L139.5 497.6L156.5 494.7L164.5 495.0L169.5 492.8L172.5 492.5L161.5 485.9L155.5 480.0L153.5 478.7L151.5 478.1L146.5 478.5L143.5 478.1L133.2 475.5L124.0 472.5L121.4 471.5L118.5 469.5L117.5 467.5L117.3 465.5L118.1 461.5L120.5 459.4L129.5 456.0L140.5 453.0L145.5 452.0L150.5 452.4L153.5 451.7L155.5 450.5L162.5 443.7L171.5 438.3L164.5 435.4L156.5 435.7L139.5 432.8L100.5 415.5L90.9 410.5L83.4 405.5L79.0 400.5L77.6 396.5L294.5 396.5L294.5 531.5Z"/><path fill="#83ff7c" fill-rule="evenodd" d="M294.5 531.5L80.6 531.5L81.1 529.5L84.4 525.5L88.2 522.5L94.7 518.5L100.5 515.5L139.5 498.3L157.5 495.2L164.5 495.1L169.5 492.9L173.1 492.5L171.5 492.1L163.5 487.3L153.5 478.6L151.5 478.0L144.5 478.1L127.3 473.5L120.2 470.5L118.3 468.5L117.7 465.5L118.5 461.5L120.8 459.5L122.9 458.5L131.6 455.5L143.3 452.5L146.5 452.0L151.5 452.4L153.5 451.8L155.5 450.5L162.5 443.8L171.8 438.5L171.5 438.0L164.5 435.3L157.5 435.2L139.5 432.1L100.5 414.9L90.6 409.5L85.1 405.5L81.5 401.5L80.0 398.5L79.7 396.5L294.5 396.5L294.5 531.5Z"/><path fill="#8bff74" fill-rule="evenodd" d="M294.5 531.5L82.6 531.5L83.6 528.5L86.1 525.5L89.7 522.5L96.0 518.5L139.5 499.0L159.4 495.5L164.5 495.2L169.5 493.0L173.6 492.5L171.5 491.9L163.5 487.2L153.5 478.5L151.5 477.9L144.5 478.0L127.7 473.5L120.6 470.5L118.7 468.5L118.2 466.5L118.5 462.5L121.3 459.5L128.8 456.5L140.5 453.2L145.5 452.2L150.5 452.5L153.5 451.9L155.5 450.6L162.5 443.8L172.1 438.5L171.5 437.7L169.5 437.4L164.5 435.1L159.5 434.9L139.5 431.4L100.5 414.3L92.0 409.5L86.7 405.5L83.4 401.5L81.8 396.5L294.5 396.5L294.5 531.5Z"/><path fill="#93ff6c" fill-rule="evenodd" d="M294.5 531.5L84.6 531.5L85.6 528.5L87.8 525.5L91.2 522.5L97.4 518.5L139.5 499.6L164.5 495.4L169.5 493.1L174.1 492.5L169.5 490.8L163.5 487.2L153.5 478.4L151.5 477.8L146.5 478.2L142.4 477.5L131.1 474.5L122.9 471.5L121.1 470.5L119.2 468.5L118.6 464.5L118.9 462.5L120.3 460.5L123.5 458.7L129.2 456.5L144.5 452.5L151.5 452.6L153.5 452.0L162.5 443.9L168.5 440.2L172.3 438.5L172.5 437.7L175.1 437.5L169.5 437.3L164.5 435.0L139.5 430.8L100.5 413.6L93.5 409.5L88.4 405.5L85.3 401.5L83.9 396.5L294.5 396.5L294.5 531.5Z"/><path fill="#9bff64" fill-rule="evenodd" d="M294.5 531.5L86.6 531.5L87.0 529.5L88.8 526.5L94.1 521.5L100.5 517.5L111.7 512.5L139.5 500.3L156.5 497.5L165.5 495.2L169.5 493.1L174.5 492.5L170.5 491.2L163.5 487.2L153.5 478.3L151.5 477.7L146.5 478.1L142.5 477.4L131.5 474.5L123.4 471.5L121.5 470.5L119.6 468.5L119.0 464.5L119.3 462.5L120.7 460.5L129.5 456.5L144.5 452.6L151.5 452.7L153.5 452.1L161.5 444.7L165.5 442.0L173.5 437.7L176.9 437.5L169.5 437.2L165.5 435.2L156.5 432.9L139.5 430.1L101.9 413.5L94.9 409.5L90.1 405.5L87.3 401.5L86.0 396.5L294.5 396.5L294.5 531.5ZM185.0 437.5L182.7 437.5L185.0 437.5ZM189.1 438.5L188.3 438.5L189.1 438.5ZM209.5 460.5L209.5 459.4L209.5 460.9L209.5 460.5ZM209.5 470.5L209.5 469.4L209.5 470.9L209.5 470.5ZM208.5 473.5L208.5 474.0L208.5 473.5ZM199.5 486.5L204.5 481.4L199.5 486.5ZM190.5 491.5L190.0 491.5L190.5 491.5ZM186.9 492.5L185.7 492.5L186.9 492.5Z"/><path fill="#a3ff5c" fill-rule="evenodd" d="M294.5 531.5L88.7 531.5L89.1 529.5L90.6 526.5L94.4 522.5L100.2 518.5L108.9 514.5L139.5 500.9L156.5 498.2L165.5 495.3L169.5 493.2L175.0 492.5L170.5 491.1L163.5 487.1L153.5 478.2L151.5 477.6L145.5 477.9L141.5 477.1L131.9 474.5L123.5 471.3L120.0 468.5L119.5 466.5L119.5 463.5L120.3 461.5L122.5 459.6L130.0 456.5L144.5 452.7L151.5 452.8L153.5 452.2L161.5 444.8L167.5 440.8L173.5 437.9L179.2 437.5L169.5 437.2L165.5 435.0L156.5 432.2L139.5 429.5L112.4 417.5L99.5 411.5L93.9 407.5L89.8 402.5L88.6 399.5L88.2 396.5L294.5 396.5L294.5 531.5ZM185.8 437.5L180.2 437.5L185.8 437.5ZM189.7 438.5L187.8 438.5L189.7 438.5ZM192.5 439.5L191.1 439.5L192.5 439.5ZM196.2 441.5L194.5 440.5L193.4 440.5L196.2 441.5ZM198.9 443.5L197.2 442.5L198.9 443.5ZM203.5 447.5L200.2 444.5L203.5 447.5ZM205.6 450.5L204.5 449.1L205.6 450.5ZM207.6 454.5L206.5 451.6L206.4 452.5L207.6 454.5ZM208.6 456.5L208.5 455.7L208.5 457.4L208.6 456.5ZM209.6 461.5L209.5 458.8L209.5 461.9L209.6 461.5ZM209.5 471.5L209.5 468.5L209.5 471.5ZM208.6 474.5L208.5 473.1L208.6 474.5ZM207.6 476.5L207.5 475.8L207.5 476.9L207.6 476.5ZM205.6 479.5L206.5 478.7L206.5 477.9L205.5 480.2L205.6 479.5ZM198.5 487.5L203.5 482.7L204.5 481.1L198.5 487.4L197.7 487.5L198.5 487.5ZM196.8 488.5L196.2 488.5L196.8 488.5ZM195.1 489.5L194.3 489.5L195.1 489.5ZM193.2 490.5L192.1 490.5L193.2 490.5ZM190.8 491.5L189.2 491.5L190.8 491.5ZM187.6 492.5L184.9 492.5L187.6 492.5Z"/><path fill="#abff54" fill-rule="evenodd" d="M294.5 531.5L90.8 531.5L91.1 529.5L92.5 526.5L96.0 522.5L100.0 519.5L110.6 514.5L139.5 501.6L156.5 498.9L166.5 495.0L169.5 493.3L175.4 492.5L170.5 491.1L163.5 487.1L153.5 478.1L151.5 477.5L145.5 477.8L140.5 476.7L129.5 473.6L123.5 471.1L120.5 468.5L119.9 466.5L119.9 463.5L120.7 461.5L122.5 459.9L130.4 456.5L144.5 452.8L151.5 452.9L153.5 452.3L162.5 444.0L167.5 440.9L173.5 438.0L186.3 437.5L170.5 437.3L157.5 431.8L139.5 428.8L99.4 410.5L95.6 407.5L92.9 404.5L91.0 400.5L90.3 396.5L294.5 396.5L294.5 531.5ZM190.0 438.5L187.4 438.5L190.0 438.5ZM199.5 443.5L192.6 439.5L190.7 439.5L192.5 439.7L193.2 440.5L196.5 441.7L198.5 443.6L199.5 443.5ZM209.6 462.5L209.5 458.3L208.7 457.5L208.5 455.4L206.5 451.4L201.7 445.5L200.5 444.4L199.5 444.5L203.0 447.5L206.2 451.5L207.5 454.9L208.3 455.5L208.5 457.7L209.3 458.5L209.6 462.5ZM209.6 471.5L209.5 467.6L209.5 472.0L209.6 471.5ZM193.6 490.5L198.6 487.5L204.5 481.8L206.5 478.9L206.6 477.5L207.5 477.1L207.7 475.5L208.5 475.0L208.5 472.7L208.3 474.5L205.1 480.5L198.5 487.1L195.9 488.5L195.5 489.4L194.1 489.5L193.5 490.4L191.8 490.5L193.6 490.5ZM191.1 491.5L188.9 491.5L191.1 491.5ZM188.0 492.5L184.2 492.5L188.0 492.5ZM181.8 493.5L177.4 493.5L181.8 493.5Z"/><path fill="#b3ff4c" fill-rule="evenodd" d="M294.5 531.5L92.9 531.5L93.5 528.5L95.1 525.5L100.2 520.5L139.5 502.2L157.5 499.3L170.5 493.1L175.5 492.9L176.4 493.5L182.7 493.5L176.5 493.4L175.9 492.5L172.5 491.9L168.5 490.0L162.5 486.3L155.5 479.5L152.5 477.6L145.5 477.7L140.0 476.5L129.7 473.5L122.9 470.5L120.9 468.5L120.3 464.5L121.1 461.5L123.6 459.5L130.8 456.5L141.5 453.5L145.5 452.7L151.5 452.9L153.5 452.4L162.5 444.1L167.5 440.9L173.5 438.2L177.5 437.6L186.5 437.7L187.1 438.5L189.5 438.8L194.5 440.9L201.8 446.5L207.0 453.5L209.1 458.5L209.5 463.9L209.9 462.5L209.5 458.1L206.5 451.3L201.8 445.5L196.7 441.5L192.8 439.5L190.5 439.3L190.2 438.5L187.5 438.2L186.7 437.5L169.5 437.0L157.5 431.1L139.5 428.2L99.5 409.5L96.3 406.5L94.2 403.5L93.1 400.5L92.5 396.5L292.0 396.5L292.0 397.5L293.5 399.0L294.5 399.0L294.5 531.5ZM193.7 490.5L199.9 486.5L205.5 480.7L208.5 475.2L209.0 472.5L209.5 472.4L209.9 468.5L209.5 466.6L209.1 471.5L206.1 478.5L204.0 481.5L199.5 486.1L193.5 490.1L191.5 490.5L193.7 490.5ZM191.4 491.5L188.6 491.5L191.4 491.5ZM188.3 492.5L183.7 492.5L188.3 492.5Z"/><path fill="#bbff44" fill-rule="evenodd" d="M289.5 531.5L95.0 531.5L96.4 526.5L98.4 523.5L100.5 521.6L116.5 513.5L139.5 502.9L157.5 499.9L169.5 493.4L172.5 493.1L183.4 493.5L188.6 492.5L195.8 489.5L202.3 484.5L206.5 479.3L209.5 472.6L210.5 465.5L209.5 457.8L206.5 451.2L201.9 445.5L196.8 441.5L190.5 438.5L186.9 437.5L169.5 436.9L157.5 430.5L139.5 427.5L115.7 416.5L100.5 408.8L98.1 406.5L96.2 403.5L95.1 400.5L94.6 396.5L287.2 396.5L287.2 397.5L293.5 403.8L294.5 403.8L294.5 526.6L293.5 526.6L289.7 530.5L289.5 531.5ZM182.5 493.0L177.5 493.0L173.5 492.1L168.5 490.0L162.5 486.2L154.5 478.5L152.5 477.6L146.5 477.6L142.5 477.0L133.1 474.5L125.3 471.5L121.3 468.5L120.7 466.5L121.0 462.5L122.5 460.5L124.1 459.5L134.5 455.5L144.5 453.0L151.5 453.0L153.5 452.5L162.5 444.1L169.5 439.9L174.5 438.0L185.5 437.9L189.5 438.9L194.5 441.1L201.5 446.4L205.1 450.5L206.9 453.5L209.2 460.5L209.5 466.5L209.0 471.5L206.0 478.5L203.0 482.5L199.5 485.9L196.5 488.1L190.5 491.1L182.5 493.0Z"/><path fill="#c3ff3c" fill-rule="evenodd" d="M285.5 531.5L97.1 531.5L98.4 526.5L100.5 523.5L114.6 515.5L139.5 503.7L157.5 500.6L160.5 499.3L164.0 496.5L169.6 493.5L183.8 493.5L188.7 492.5L195.9 489.5L202.5 484.5L206.5 479.4L209.5 472.8L210.6 465.5L209.5 457.6L207.5 452.7L203.5 447.1L196.9 441.5L193.1 439.5L187.2 437.5L169.5 436.9L163.5 433.5L160.5 431.1L157.5 429.8L139.0 426.5L115.8 415.5L100.5 406.9L97.8 402.5L96.8 396.5L283.2 396.5L283.2 397.5L293.5 408.0L294.5 408.0L294.5 522.4L293.5 522.4L285.9 530.5L285.5 531.5ZM182.5 492.5L178.5 492.9L173.5 492.1L170.5 490.9L162.5 486.2L154.5 478.5L152.5 477.5L146.5 477.5L142.5 476.9L133.5 474.5L125.7 471.5L121.7 468.5L121.1 466.5L121.5 462.5L123.0 460.5L124.5 459.5L133.5 455.9L144.5 453.1L151.5 453.1L153.5 452.6L162.5 444.2L169.5 440.0L174.5 438.0L179.5 437.7L185.5 438.0L189.5 439.1L194.5 441.3L198.5 443.8L202.4 447.5L205.0 450.5L207.2 454.5L209.2 460.5L209.1 470.5L207.9 474.5L205.9 478.5L202.9 482.5L199.5 485.8L196.5 488.0L190.5 491.0L182.5 492.5Z"/><path fill="#cbff34" fill-rule="evenodd" d="M281.5 531.5L99.3 531.5L100.5 527.0L107.1 521.5L119.0 514.5L139.5 504.5L157.5 501.4L160.5 499.9L164.5 496.5L169.9 493.5L184.3 493.5L188.9 492.5L196.0 489.5L201.5 485.5L206.5 479.6L209.5 473.0L210.6 465.5L209.5 457.5L207.5 452.6L203.5 447.0L197.0 441.5L193.3 439.5L187.5 437.5L180.5 436.8L169.5 436.8L163.9 433.5L160.5 430.5L157.5 429.0L140.5 426.2L138.6 425.5L118.3 415.5L105.2 407.5L100.5 403.4L99.5 401.0L99.0 396.5L279.2 396.5L279.2 397.5L286.6 404.5L293.5 412.5L294.5 412.5L294.5 517.9L293.5 517.9L288.0 524.5L281.9 530.5L281.9 531.5L281.5 531.5ZM181.5 492.6L173.5 492.0L168.5 489.9L162.5 486.1L154.5 478.4L152.5 477.4L146.5 477.4L142.5 476.7L134.0 474.5L126.1 471.5L122.2 468.5L121.6 466.5L121.9 462.5L123.4 460.5L125.0 459.5L132.5 456.4L144.5 453.2L151.5 453.2L153.5 452.6L162.5 444.2L169.5 440.0L174.5 438.1L184.5 438.0L189.5 439.2L193.5 440.8L197.5 443.2L200.5 445.6L204.1 449.5L206.1 452.5L208.0 456.5L209.1 460.5L209.4 465.5L209.0 470.5L206.9 476.5L205.1 479.5L199.5 485.7L196.5 487.9L190.5 490.9L186.5 492.1L181.5 492.6Z"/><path fill="#d3ff2c" fill-rule="evenodd" d="M277.5 531.5L104.5 531.5L104.8 529.5L106.4 526.5L112.5 520.5L123.6 513.5L139.3 505.5L157.5 502.2L160.5 500.6L164.8 496.5L169.5 493.7L184.6 493.5L192.0 491.5L197.7 488.5L203.5 483.6L207.5 477.9L209.5 473.2L210.7 465.5L209.6 457.5L207.5 452.5L203.5 446.9L198.5 442.4L193.4 439.5L187.5 437.5L180.5 436.6L172.5 437.1L169.5 436.7L164.3 433.5L160.5 429.8L157.5 428.2L140.5 425.3L138.4 424.5L122.9 416.5L112.0 409.5L106.2 403.5L104.3 399.5L103.9 396.5L275.0 396.5L275.0 397.5L286.6 408.5L293.5 417.3L294.5 417.3L294.5 513.1L293.5 513.1L287.0 521.5L277.9 530.5L277.9 531.5L277.5 531.5ZM180.5 492.6L173.5 491.9L168.5 489.8L162.5 486.1L154.5 478.3L152.5 477.3L146.5 477.3L142.5 476.6L134.4 474.5L126.5 471.5L122.6 468.5L122.0 466.5L122.3 462.5L125.4 459.5L132.5 456.5L144.5 453.3L151.5 453.3L153.5 452.7L161.5 445.0L167.5 441.1L172.5 438.8L176.5 437.9L183.5 437.9L188.5 438.9L193.5 440.9L200.5 445.7L206.0 452.5L207.9 456.5L209.0 460.5L209.4 465.5L208.9 470.5L207.2 475.5L205.1 479.5L201.8 483.5L197.5 487.1L189.5 491.1L185.5 492.1L180.5 492.6Z"/><path fill="#dbff24" fill-rule="evenodd" d="M273.5 531.5L111.6 531.5L113.2 525.5L115.2 522.5L118.1 519.5L126.6 513.5L139.4 506.5L157.5 503.0L161.5 500.5L165.1 496.5L169.5 493.8L184.9 493.5L192.1 491.5L197.8 488.5L203.5 483.6L207.5 478.0L209.5 473.4L210.7 465.5L209.6 457.5L207.5 452.4L203.5 446.8L198.7 442.5L193.6 439.5L187.5 437.4L180.6 436.5L172.5 437.0L169.5 436.7L164.6 433.5L160.5 429.0L157.5 427.4L152.5 426.1L140.5 424.3L134.8 421.5L124.4 415.5L116.6 409.5L114.1 406.5L112.6 403.5L111.3 396.5L270.7 396.5L270.7 397.5L276.8 402.5L282.9 408.5L288.7 415.5L293.5 422.5L294.5 422.5L294.5 507.9L293.5 507.9L285.5 519.0L279.5 525.4L273.8 530.5L273.5 531.5ZM187.5 491.5L180.5 492.5L173.5 491.9L168.5 489.8L162.5 486.1L153.5 477.6L151.5 477.0L146.5 477.2L143.5 476.7L129.1 472.5L125.2 470.5L123.0 468.5L122.4 466.5L122.7 462.5L125.8 459.5L132.9 456.5L144.5 453.5L151.5 453.4L153.5 452.8L161.5 445.1L167.5 441.2L172.5 438.9L176.5 437.9L182.5 437.9L191.5 440.0L195.5 442.0L199.5 444.9L203.2 448.5L206.0 452.5L209.0 460.5L209.2 467.5L208.8 470.5L207.2 475.5L205.0 479.5L201.7 483.5L194.5 489.0L187.5 491.5Z"/><path fill="#e3ff1c" fill-rule="evenodd" d="M269.5 531.5L119.1 531.5L120.3 524.5L123.2 519.5L128.7 514.5L138.2 508.5L140.5 507.4L153.5 505.3L157.5 504.1L161.5 501.3L165.4 496.5L169.5 493.8L185.2 493.5L192.3 491.5L199.3 487.5L204.5 482.6L207.5 478.1L209.5 473.5L210.8 465.5L209.7 457.5L207.5 452.3L203.5 446.7L198.8 442.5L193.6 439.5L187.5 437.4L181.5 436.5L172.5 437.0L169.5 436.6L164.9 433.5L161.5 429.1L157.5 426.4L152.5 424.9L140.5 422.9L137.5 421.5L128.2 415.5L122.1 409.5L119.8 404.5L118.9 396.5L266.3 396.5L266.3 397.5L274.5 404.0L281.9 411.5L288.2 419.5L293.5 428.3L294.5 428.3L294.5 502.1L293.5 502.1L288.5 510.4L283.1 517.5L276.5 524.5L269.6 530.5L269.5 531.5ZM186.5 491.8L179.5 492.4L173.5 491.8L168.5 489.7L162.5 486.0L153.5 477.5L151.5 476.9L146.5 477.1L142.9 476.5L134.5 474.3L127.3 471.5L123.5 468.5L122.8 466.5L123.2 462.5L126.2 459.5L133.3 456.5L144.5 453.6L151.5 453.5L153.5 452.9L161.5 445.1L167.5 441.2L172.5 438.9L177.5 437.9L183.5 438.0L188.5 439.1L193.5 441.0L200.5 445.8L205.9 452.5L208.9 460.5L209.0 469.5L207.9 473.5L206.1 477.5L201.5 483.6L194.5 488.9L186.5 491.8Z"/><path fill="#ebff14" fill-rule="evenodd" d="M264.5 531.5L126.7 531.5L127.3 524.5L129.1 519.5L133.2 514.5L139.5 509.7L152.5 507.0L157.5 505.3L161.5 502.0L165.7 496.5L169.5 493.9L171.5 493.5L179.5 493.9L185.5 493.5L192.4 491.5L199.4 487.5L204.5 482.6L207.5 478.2L209.6 473.5L210.8 465.5L209.7 457.5L207.5 452.2L203.5 446.6L197.4 441.5L193.5 439.4L187.5 437.3L181.5 436.5L172.5 436.9L169.5 436.5L165.2 433.5L161.5 428.4L157.5 425.1L152.5 423.4L140.5 421.1L135.0 417.5L130.9 413.5L128.4 409.5L127.1 404.5L126.6 396.5L261.8 396.5L261.8 397.5L268.6 402.5L275.3 408.5L284.7 419.5L289.8 427.5L293.5 435.1L294.5 435.1L294.5 495.3L293.5 495.3L288.3 505.5L281.2 515.5L274.5 522.7L265.2 530.5L265.2 531.5L264.5 531.5ZM186.5 491.8L177.5 492.3L171.5 491.1L162.5 486.0L153.5 477.4L151.5 476.8L146.5 477.0L142.5 476.3L132.5 473.5L127.7 471.5L123.9 468.5L123.2 466.5L123.6 462.5L126.6 459.5L133.7 456.5L144.5 453.7L151.5 453.6L153.5 453.0L161.5 445.1L166.5 441.9L172.5 438.9L177.5 438.0L183.5 438.1L188.5 439.1L193.5 441.1L200.5 445.9L205.9 452.5L208.8 460.5L209.1 468.5L207.9 473.5L206.1 477.5L201.5 483.5L194.5 488.8L186.5 491.8Z"/><path fill="#f3ff0c" fill-rule="evenodd" d="M260.5 531.5L134.4 531.5L135.4 520.5L137.0 516.5L139.5 513.2L140.6 512.5L153.5 509.1L156.5 507.6L161.5 502.8L164.9 497.5L169.5 494.0L171.5 493.6L179.5 494.0L185.7 493.5L192.5 491.5L198.1 488.5L203.5 483.8L207.5 478.3L209.6 473.5L210.9 465.5L210.5 460.4L209.5 456.6L207.5 452.1L203.5 446.5L197.5 441.5L191.5 438.5L187.5 437.3L181.5 436.4L172.5 436.9L169.7 436.5L165.4 433.5L161.5 427.6L156.5 422.8L152.5 421.0L140.5 417.8L139.5 417.2L136.8 413.5L135.3 409.5L134.4 396.5L257.0 396.5L257.0 397.5L266.9 404.5L275.4 412.5L280.5 418.5L285.3 425.5L290.0 434.5L293.5 443.7L294.5 443.7L294.5 486.7L293.5 486.7L288.3 499.5L280.8 511.5L272.9 520.5L267.4 525.5L260.7 530.5L260.5 531.5ZM186.5 491.7L178.5 492.3L174.5 492.0L171.5 491.0L162.5 486.0L153.5 477.3L151.5 476.7L146.5 476.9L142.5 476.2L133.0 473.5L128.1 471.5L124.3 468.5L123.7 466.5L124.0 462.5L127.0 459.5L134.2 456.5L144.5 453.8L151.5 453.7L153.5 453.1L161.5 445.2L166.5 441.9L172.5 439.0L176.5 438.1L182.5 438.0L188.5 439.2L193.5 441.1L200.5 445.9L205.8 452.5L208.8 460.5L209.0 468.5L207.8 473.5L206.0 477.5L201.5 483.4L194.5 488.8L186.5 491.7Z"/><path fill="#fbff04" fill-rule="evenodd" d="M255.5 531.5L148.4 531.5L148.8 524.5L150.2 519.5L161.5 503.7L165.1 497.5L170.5 493.7L180.5 494.0L185.9 493.5L192.6 491.5L199.5 487.6L204.5 482.8L207.5 478.4L209.6 473.5L210.9 465.5L210.5 460.2L207.8 452.5L203.5 446.5L199.0 442.5L193.9 439.5L188.5 437.5L181.5 436.4L170.5 436.7L165.7 433.5L161.5 426.7L151.7 413.5L150.0 410.5L148.7 405.5L148.4 396.5L252.0 396.5L252.0 397.5L259.5 402.2L266.5 407.6L276.9 418.5L284.5 429.9L290.0 442.5L292.2 450.5L293.5 459.6L294.5 459.6L294.5 470.8L293.5 470.8L292.1 480.5L289.1 490.5L285.6 498.5L281.5 505.5L276.4 512.5L270.5 519.1L263.5 525.3L256.1 530.5L256.1 531.5L255.5 531.5ZM186.5 491.6L178.5 492.3L171.5 491.0L162.5 485.9L153.5 477.2L151.5 476.6L146.5 476.8L142.5 476.1L133.4 473.5L128.5 471.5L125.6 469.5L124.3 467.5L124.4 462.5L127.4 459.5L134.6 456.5L144.5 453.9L151.5 453.8L153.5 453.1L161.5 445.2L166.5 441.9L172.5 439.0L177.5 438.1L182.5 438.1L188.5 439.2L193.5 441.2L200.5 446.0L205.7 452.5L208.7 460.5L209.0 468.5L207.7 473.5L206.0 477.5L201.5 483.4L194.5 488.7L186.5 491.6Z"/><path fill="#fffb00" fill-rule="evenodd" d="M250.5 531.5L156.8 531.5L156.9 520.5L158.1 513.5L160.0 507.5L165.4 497.5L170.5 493.8L180.5 494.0L186.1 493.5L192.7 491.5L199.5 487.6L204.5 482.8L207.5 478.5L210.5 470.4L211.0 465.5L210.5 460.0L207.8 452.5L203.6 446.5L199.1 442.5L194.0 439.5L188.5 437.4L181.5 436.3L170.5 436.6L165.9 433.5L160.3 423.5L158.0 416.5L156.9 409.5L157.0 396.5L246.7 396.5L246.7 397.5L256.5 403.1L265.5 410.2L270.8 415.5L278.0 424.5L285.1 437.5L289.2 450.5L290.3 456.5L290.8 465.5L290.2 474.5L288.9 481.5L287.2 487.5L283.9 495.5L280.2 502.5L276.2 508.5L271.2 514.5L264.5 521.1L258.5 525.9L251.3 530.5L251.3 531.5L250.5 531.5ZM186.5 491.6L178.5 492.3L171.5 491.0L162.5 485.9L153.5 477.2L151.5 476.5L146.5 476.6L142.5 475.9L133.8 473.5L128.9 471.5L126.0 469.5L124.7 467.5L124.8 462.5L127.9 459.5L135.0 456.5L144.5 454.0L151.5 453.9L153.5 453.2L161.5 445.3L166.5 442.0L172.5 439.1L177.5 438.1L182.5 438.1L187.5 439.0L193.5 441.2L200.5 446.0L205.7 452.5L207.9 457.5L208.8 461.5L208.9 468.5L206.9 475.5L204.0 480.5L201.5 483.3L195.5 488.1L191.5 490.1L186.5 491.6Z"/><path fill="#fff300" fill-rule="evenodd" d="M247.5 531.5L158.8 531.5L158.7 520.5L159.9 511.5L161.2 506.5L165.6 497.5L170.5 493.9L180.5 494.1L186.4 493.5L192.5 491.6L198.3 488.5L203.5 484.0L207.6 478.5L210.5 470.6L211.0 465.5L210.5 459.8L207.8 452.5L204.5 447.5L199.1 442.5L194.1 439.5L188.5 437.4L181.5 436.3L170.5 436.6L166.1 433.5L161.1 423.5L159.8 418.5L158.7 409.5L159.0 396.5L243.3 396.5L243.3 397.5L254.3 403.5L263.4 410.5L271.3 418.5L277.3 426.5L281.3 433.5L284.4 440.5L286.6 447.5L288.1 454.5L288.9 461.5L288.8 469.5L288.0 476.5L286.5 483.5L284.1 490.5L281.0 497.5L276.9 504.5L272.5 510.5L267.1 516.5L261.6 521.5L254.9 526.5L248.2 530.5L248.2 531.5L247.5 531.5ZM186.5 491.5L178.5 492.2L171.5 490.9L162.5 485.9L153.5 477.1L151.5 476.4L146.5 476.5L142.5 475.8L134.2 473.5L129.4 471.5L126.4 469.5L125.1 467.5L125.3 462.5L128.3 459.5L135.4 456.5L144.5 454.1L151.5 454.0L153.5 453.3L161.5 445.3L166.5 442.0L172.5 439.1L177.5 438.2L182.5 438.2L187.5 439.1L193.5 441.3L200.5 446.1L205.6 452.5L207.9 457.5L208.8 461.5L208.9 468.5L206.9 475.5L203.9 480.5L201.5 483.3L195.5 488.0L191.5 490.0L186.5 491.5Z"/><path fill="#ffeb00" fill-rule="evenodd" d="M244.5 531.5L159.9 531.5L159.7 520.5L161.1 509.5L161.8 506.5L165.8 497.5L170.5 493.9L180.5 494.1L186.5 493.5L192.5 491.7L198.4 488.5L203.5 484.1L207.6 478.5L210.5 470.8L211.0 465.5L210.5 459.5L208.5 453.7L204.6 447.5L199.2 442.5L194.2 439.5L188.5 437.4L181.5 436.3L170.5 436.5L166.3 433.5L162.0 424.5L160.9 419.5L159.7 409.5L160.2 396.5L239.9 396.5L239.9 397.5L251.5 403.5L261.5 410.8L269.5 418.8L276.6 428.5L280.4 435.5L283.3 442.5L285.4 449.5L286.7 456.5L287.2 463.5L287.0 471.5L285.9 478.5L284.1 485.5L281.5 492.5L278.0 499.5L274.2 505.5L269.6 511.5L259.2 521.5L252.5 526.3L245.1 530.5L245.1 531.5L244.5 531.5ZM185.5 491.7L177.5 492.1L171.5 490.9L162.5 485.8L153.5 477.0L151.5 476.3L146.5 476.4L142.5 475.7L134.7 473.5L129.8 471.5L126.8 469.5L125.5 467.5L125.7 462.5L128.7 459.5L135.9 456.5L144.5 454.3L151.5 454.1L153.5 453.4L161.5 445.3L166.5 442.0L172.5 439.2L177.5 438.2L182.5 438.2L187.5 439.1L193.5 441.3L200.8 446.5L206.1 453.5L207.8 457.5L208.7 461.5L208.8 468.5L207.9 472.5L205.8 477.5L201.2 483.5L197.5 486.7L193.5 489.1L185.5 491.7Z"/><path fill="#ffe300" fill-rule="evenodd" d="M241.5 531.5L160.8 531.5L160.5 520.5L161.9 508.5L166.0 497.5L170.5 494.0L180.5 494.2L186.5 493.6L192.5 491.7L198.5 488.5L203.5 484.1L207.6 478.5L210.5 471.0L211.1 465.5L210.5 459.5L208.5 453.6L204.6 447.5L199.3 442.5L194.3 439.5L187.5 437.1L181.5 436.2L170.5 436.4L167.6 434.5L165.8 432.5L162.2 423.5L161.4 418.5L160.5 408.5L161.1 396.5L236.7 396.5L236.7 397.5L249.5 403.9L260.0 411.5L268.9 420.5L275.9 430.5L279.5 437.5L282.2 444.5L284.1 451.5L285.2 458.5L285.5 465.5L285.1 472.5L284.0 479.5L282.0 486.5L279.2 493.5L275.5 500.5L271.5 506.5L266.6 512.5L256.5 521.7L249.5 526.5L241.9 530.5L241.9 531.5L241.5 531.5ZM185.5 491.7L177.5 492.1L171.5 490.8L162.5 485.8L153.5 476.9L151.5 476.2L146.5 476.3L142.5 475.6L135.1 473.5L130.2 471.5L127.2 469.5L126.0 467.5L126.1 462.5L129.1 459.5L136.3 456.5L144.5 454.4L151.5 454.2L153.5 453.5L161.5 445.4L166.5 442.1L172.5 439.2L177.5 438.3L182.5 438.3L187.5 439.1L193.5 441.4L200.8 446.5L206.1 453.5L207.8 457.5L208.7 461.5L208.8 468.5L207.9 472.5L205.7 477.5L201.2 483.5L197.5 486.6L193.5 489.0L185.5 491.7Z"/><path fill="#ffdb00" fill-rule="evenodd" d="M238.5 531.5L161.5 531.5L161.1 520.5L162.2 509.5L163.0 505.5L166.2 497.5L170.5 494.1L180.5 494.2L186.5 493.6L192.5 491.8L198.5 488.5L203.5 484.2L207.7 478.5L210.5 471.2L211.1 465.5L210.6 459.5L208.5 453.5L204.7 447.5L199.4 442.5L194.4 439.5L187.5 437.1L181.5 436.2L170.5 436.3L167.8 434.5L166.0 432.5L162.9 424.5L161.9 418.5L161.1 408.5L161.9 396.5L233.6 396.5L233.6 397.5L247.7 404.5L258.8 412.5L267.6 421.5L275.2 432.5L278.6 439.5L281.1 446.5L282.8 453.5L283.7 460.5L283.8 467.5L283.2 474.5L281.7 481.5L279.5 488.5L276.4 495.5L273.0 501.5L264.5 512.5L254.3 521.5L247.5 526.0L239.1 530.5L239.1 531.5L238.5 531.5ZM185.5 491.6L177.5 492.1L171.5 490.8L162.5 485.8L153.5 476.8L151.5 476.1L146.5 476.2L142.6 475.5L130.6 471.5L127.7 469.5L126.4 467.5L126.5 462.5L129.5 459.5L136.8 456.5L144.5 454.5L151.5 454.3L153.5 453.6L161.5 445.4L166.5 442.1L172.5 439.3L177.5 438.3L181.5 438.3L187.5 439.2L192.5 441.0L199.5 445.4L204.9 451.5L208.0 458.5L208.9 463.5L208.7 468.5L207.8 472.5L205.7 477.5L201.1 483.5L198.5 485.8L193.5 489.0L185.5 491.6Z"/><path fill="#ffd300" fill-rule="evenodd" d="M235.5 531.5L162.2 531.5L161.6 520.5L162.7 508.5L164.0 503.5L166.4 497.5L170.5 494.1L180.5 494.3L186.5 493.6L192.5 491.8L198.5 488.6L203.5 484.3L207.7 478.5L210.5 471.4L211.2 465.5L210.6 459.5L208.6 453.5L204.7 447.5L199.4 442.5L194.5 439.5L188.5 437.2L181.5 436.1L171.5 436.5L169.5 435.8L166.9 433.5L163.9 426.5L162.7 421.5L161.6 409.5L162.7 396.5L230.3 396.5L230.3 397.5L238.5 401.0L246.6 405.5L257.5 413.3L266.4 422.5L273.8 433.5L276.8 439.5L279.3 446.5L281.0 453.5L281.9 460.5L282.1 467.5L281.4 474.5L280.0 481.5L277.7 488.5L274.6 495.5L271.1 501.5L262.3 512.5L251.8 521.5L243.5 526.8L236.2 530.5L236.2 531.5L235.5 531.5ZM185.5 491.6L177.5 492.0L171.5 490.7L162.5 485.7L154.5 477.6L152.5 476.3L143.5 475.6L136.0 473.5L131.0 471.5L128.1 469.5L126.8 467.5L127.0 462.5L129.9 459.5L137.2 456.5L145.1 454.5L151.5 454.4L153.5 453.7L161.5 445.5L166.5 442.2L172.5 439.3L177.5 438.4L181.5 438.3L187.5 439.2L192.5 441.0L199.5 445.5L204.8 451.5L208.0 458.5L208.8 463.5L208.7 468.5L207.8 472.5L205.6 477.5L201.1 483.5L198.5 485.8L193.5 488.9L185.5 491.6Z"/><path fill="#ffcb00" fill-rule="evenodd" d="M232.5 531.5L162.8 531.5L162.1 520.5L163.1 508.5L164.0 504.5L166.6 497.5L170.5 494.2L180.5 494.3L186.5 493.7L193.3 491.5L198.7 488.5L203.5 484.3L207.8 478.5L210.5 471.5L211.2 465.5L210.7 459.5L208.6 453.5L204.8 447.5L199.5 442.5L194.5 439.5L188.5 437.2L181.5 436.1L171.5 436.4L169.5 435.7L167.0 433.5L164.2 426.5L163.1 421.5L162.1 408.5L163.4 396.5L226.7 396.5L226.7 397.5L235.5 400.9L243.5 405.1L255.5 413.6L265.2 423.5L269.6 429.5L273.0 435.5L275.8 441.5L278.1 448.5L279.6 455.5L280.3 462.5L280.2 469.5L279.4 476.5L277.7 483.5L275.1 490.5L268.5 502.5L263.9 508.5L259.1 513.5L247.5 522.8L240.5 527.0L233.1 530.5L233.1 531.5L232.5 531.5ZM185.5 491.5L177.5 492.0L171.5 490.7L162.5 485.7L154.5 477.5L152.5 476.2L143.7 475.5L136.4 473.5L131.5 471.5L128.5 469.5L127.2 467.5L127.4 462.5L130.4 459.5L137.5 456.6L145.5 454.5L151.5 454.5L153.5 453.8L161.5 445.5L166.5 442.2L172.5 439.3L177.5 438.4L182.5 438.4L187.5 439.3L194.5 442.0L201.5 447.4L205.9 453.5L207.6 457.5L208.5 461.5L208.6 468.5L207.7 472.5L206.1 476.5L203.6 480.5L201.0 483.5L198.5 485.7L193.5 488.9L185.5 491.5Z"/><path fill="#ffc300" fill-rule="evenodd" d="M229.5 531.5L163.4 531.5L162.5 521.5L163.3 509.5L164.0 505.5L166.8 497.5L170.5 494.3L180.5 494.4L186.5 493.7L193.4 491.5L198.7 488.5L203.5 484.4L207.8 478.5L210.6 471.5L211.3 465.5L210.7 459.5L208.7 453.5L204.8 447.5L199.5 442.5L194.5 439.4L188.5 437.2L181.5 436.1L171.5 436.3L169.5 435.6L167.2 433.5L164.1 425.5L163.3 420.5L162.5 407.5L164.1 396.5L223.1 396.5L223.1 397.5L232.5 400.8L241.5 405.3L253.2 413.5L258.8 418.5L264.1 424.5L268.4 430.5L272.4 437.5L274.9 443.5L277.1 450.5L278.3 457.5L278.8 464.5L278.5 471.5L277.4 478.5L275.4 485.5L273.0 491.5L269.9 497.5L266.0 503.5L261.5 509.0L256.5 514.1L245.5 522.7L238.5 526.8L230.2 530.5L230.2 531.5L229.5 531.5ZM184.5 491.7L177.5 492.0L171.5 490.7L162.5 485.7L154.5 477.4L152.5 476.1L144.2 475.5L136.9 473.5L131.9 471.5L128.9 469.5L127.7 467.5L127.8 462.5L130.8 459.5L136.5 457.0L144.5 454.9L151.5 454.6L153.5 453.8L161.6 445.5L166.5 442.2L172.5 439.4L177.5 438.4L182.5 438.5L187.5 439.3L194.5 442.1L201.5 447.5L204.7 451.5L206.8 455.5L208.7 463.5L208.0 471.5L205.0 478.5L199.5 484.9L193.5 488.8L188.5 490.8L184.5 491.7Z"/><path fill="#ffbb00" fill-rule="evenodd" d="M226.5 531.5L164.0 531.5L162.9 521.5L163.7 508.5L164.8 503.5L166.9 497.5L170.5 494.3L180.5 494.4L186.5 493.8L193.5 491.5L198.8 488.5L203.5 484.5L207.9 478.5L210.6 471.5L211.3 465.5L210.7 459.5L208.7 453.5L204.9 447.5L199.5 442.4L194.5 439.4L189.5 437.4L182.5 436.1L171.5 436.3L169.5 435.5L167.4 433.5L165.9 430.5L163.9 423.5L163.0 411.5L163.2 404.5L164.9 396.5L219.3 396.5L219.3 397.5L229.5 400.7L238.5 404.9L245.5 409.1L251.4 413.5L257.9 419.5L263.2 425.5L268.1 432.5L271.7 439.5L274.1 445.5L276.0 452.5L277.1 459.5L277.4 466.5L276.8 473.5L275.7 479.5L273.5 486.5L271.0 492.5L267.7 498.5L263.5 504.5L258.5 510.3L253.0 515.5L242.1 523.5L234.6 527.5L227.3 530.5L227.3 531.5L226.5 531.5ZM184.5 491.7L177.5 491.9L171.5 490.6L162.5 485.6L158.5 482.0L154.5 477.3L152.5 476.0L144.5 475.4L137.3 473.5L132.3 471.5L128.5 468.4L127.9 466.5L128.2 462.5L131.2 459.5L135.6 457.5L144.5 455.0L151.5 454.7L153.5 453.9L161.6 445.5L166.5 442.3L172.5 439.4L177.5 438.5L182.5 438.6L187.5 439.4L194.5 442.1L201.5 447.5L204.7 451.5L206.8 455.5L208.7 463.5L207.9 471.5L204.9 478.5L199.5 484.8L193.5 488.8L188.5 490.8L184.5 491.7Z"/><path fill="#ffb300" fill-rule="evenodd" d="M223.5 531.5L164.6 531.5L163.2 521.5L164.0 508.5L165.0 503.5L167.1 497.5L170.5 494.4L180.5 494.4L186.5 493.8L193.5 491.5L198.9 488.5L203.5 484.5L207.9 478.5L210.6 471.5L211.4 465.5L210.8 459.5L208.7 453.5L204.9 447.5L199.5 442.4L194.5 439.3L187.5 436.9L181.5 436.0L170.5 436.0L166.9 432.5L164.2 423.5L163.2 409.5L163.7 403.5L165.8 396.5L215.0 396.5L215.0 397.5L223.5 399.7L231.5 402.7L244.1 409.5L255.2 418.5L264.5 429.5L268.2 435.5L271.1 441.5L273.2 447.5L274.9 454.5L275.8 461.5L275.8 468.5L275.0 475.5L273.7 481.5L271.2 488.5L268.4 494.5L261.0 505.5L255.6 511.5L250.0 516.5L239.5 523.8L232.0 527.5L224.1 530.5L224.1 531.5L223.5 531.5ZM184.5 491.6L177.5 491.9L171.5 490.6L162.5 485.6L158.5 482.0L154.5 477.3L152.5 475.9L144.5 475.3L137.8 473.5L132.7 471.5L129.0 468.5L128.3 466.5L128.7 462.5L131.6 459.5L136.0 457.5L144.5 455.1L151.5 454.8L153.5 454.0L161.7 445.5L166.5 442.3L172.5 439.5L178.0 438.5L182.5 438.6L187.5 439.4L194.5 442.2L201.5 447.6L204.6 451.5L206.7 455.5L208.7 463.5L207.9 471.5L204.9 478.5L199.5 484.8L193.5 488.8L188.5 490.7L184.5 491.6Z"/><path fill="#ffab00" fill-rule="evenodd" d="M220.5 531.5L165.3 531.5L163.8 524.5L163.7 518.5L164.5 506.5L167.3 497.5L170.5 494.5L180.5 494.5L186.5 493.8L193.5 491.6L198.9 488.5L203.6 484.5L208.0 478.5L210.7 471.5L211.4 465.5L210.8 459.5L208.8 453.5L205.0 447.5L199.5 442.3L194.5 439.3L187.5 436.8L181.5 436.0L170.5 435.9L167.1 432.5L164.4 423.5L163.6 409.5L164.4 402.5L165.5 399.3L166.9 397.5L166.9 396.5L209.9 396.5L209.9 397.5L221.5 400.1L231.5 403.8L243.6 410.5L254.5 419.5L263.5 430.5L267.1 436.5L270.0 442.5L272.0 448.5L273.6 455.5L274.3 461.5L274.4 468.5L273.5 475.5L272.2 481.5L269.7 488.5L266.8 494.5L263.1 500.5L258.5 506.5L248.2 516.5L237.5 523.6L229.5 527.4L220.6 530.5L220.5 531.5ZM184.5 491.6L177.5 491.8L171.5 490.5L162.5 485.5L158.5 481.9L154.5 477.2L152.5 475.8L144.5 475.2L133.2 471.5L129.4 468.5L128.7 466.5L129.1 462.5L132.1 459.5L136.5 457.5L144.5 455.2L151.5 454.9L153.5 454.1L161.7 445.5L166.5 442.3L172.6 439.5L178.8 438.5L184.5 438.9L190.5 440.4L194.5 442.2L201.5 447.6L204.6 451.5L206.7 455.5L208.6 463.5L207.8 471.5L204.8 478.5L199.5 484.7L193.5 488.7L188.5 490.7L184.5 491.6Z"/><path fill="#ffa300" fill-rule="evenodd" d="M216.5 531.5L166.0 531.5L164.3 525.5L163.9 520.5L164.7 506.5L167.5 497.5L170.6 494.5L180.5 494.5L186.5 493.9L193.5 491.6L199.0 488.5L203.6 484.5L208.0 478.5L210.7 471.5L211.5 465.5L210.9 459.5L208.5 452.8L205.0 447.5L199.5 442.3L192.5 438.3L186.5 436.6L181.5 435.9L172.5 436.2L170.5 435.8L167.2 432.5L164.7 423.5L163.9 409.5L165.0 402.5L166.5 399.1L168.6 397.5L168.6 396.5L202.9 396.5L202.9 397.5L212.5 399.0L221.5 401.2L233.5 405.9L245.5 413.3L255.6 422.5L263.8 433.5L269.6 445.5L271.4 451.5L272.6 458.5L273.0 464.5L272.6 471.5L271.4 478.5L269.7 484.5L266.8 491.5L263.5 497.5L255.1 508.5L244.5 517.9L233.5 524.5L225.5 527.9L216.8 530.5L216.5 531.5ZM184.5 491.5L177.5 491.8L171.6 490.5L162.5 485.5L158.5 481.9L154.5 477.1L152.5 475.7L144.5 475.0L133.6 471.5L129.8 468.5L129.2 466.5L129.5 462.5L132.5 459.5L136.9 457.5L144.5 455.4L151.5 455.0L153.5 454.2L160.5 446.5L166.5 442.4L172.7 439.5L179.5 438.5L184.5 438.9L190.5 440.4L194.5 442.3L201.5 447.7L204.5 451.5L206.7 455.5L208.6 463.5L207.8 471.5L204.8 478.5L199.5 484.7L193.5 488.7L188.5 490.6L184.5 491.5Z"/><path fill="#ff9b00" fill-rule="evenodd" d="M211.5 531.5L166.9 531.5L166.9 530.5L165.0 526.5L164.2 520.5L164.8 507.5L166.8 499.5L168.4 496.5L171.5 494.3L180.5 494.6L187.5 493.7L193.5 491.7L198.5 488.9L203.7 484.5L208.1 478.5L210.5 472.5L211.5 466.5L210.9 459.5L208.9 453.5L205.1 447.5L199.5 442.2L192.5 438.3L186.5 436.5L180.5 435.8L171.5 436.0L170.1 435.5L167.4 432.5L164.9 423.5L164.2 409.5L164.6 405.5L165.5 402.4L167.5 399.3L169.5 398.2L173.8 397.5L173.8 396.5L189.0 396.5L189.0 397.5L201.5 398.3L211.5 399.8L224.5 403.3L236.1 408.5L247.7 416.5L257.4 426.5L264.5 437.5L269.3 449.5L270.7 455.5L271.5 462.5L271.4 469.5L270.6 475.5L268.9 482.5L266.6 488.5L263.7 494.5L259.9 500.5L251.4 510.5L245.7 515.5L240.1 519.5L228.5 525.6L220.5 528.5L212.2 530.5L212.2 531.5L211.5 531.5ZM183.5 491.6L176.5 491.7L171.7 490.5L165.7 487.5L161.5 484.7L154.5 477.0L152.5 475.6L143.5 474.7L134.1 471.5L130.3 468.5L129.6 466.5L129.9 462.5L133.0 459.5L137.4 457.5L145.5 455.3L152.5 454.8L154.5 453.3L159.5 447.5L163.2 444.5L172.8 439.5L179.5 438.6L185.5 439.1L190.5 440.5L194.5 442.3L201.5 447.8L204.5 451.6L206.6 455.5L208.5 463.5L207.8 471.5L204.7 478.5L199.5 484.6L195.5 487.5L191.5 489.5L183.5 491.6Z"/><path fill="#ff9300" fill-rule="evenodd" d="M206.5 531.5L168.2 531.5L168.2 530.5L166.5 528.6L165.2 525.5L164.5 520.5L165.0 507.5L167.0 499.5L168.5 496.5L171.5 494.4L180.5 494.6L187.5 493.7L193.5 491.7L198.5 488.9L203.7 484.5L207.5 479.5L210.5 472.5L211.5 466.5L211.0 459.5L208.9 453.5L205.1 447.5L199.5 442.2L192.5 438.3L186.5 436.5L180.5 435.8L171.5 436.0L170.2 435.5L167.6 432.5L165.1 423.5L164.6 408.5L165.3 404.5L166.5 401.8L168.5 399.7L170.5 398.9L175.5 398.4L187.5 398.4L206.5 399.9L221.5 403.3L233.8 408.5L240.5 412.5L245.8 416.5L251.3 421.5L255.7 426.5L260.1 432.5L263.5 438.5L268.1 450.5L269.4 456.5L270.0 463.5L269.8 470.5L268.7 477.5L266.7 484.5L264.2 490.5L261.0 496.5L256.8 502.5L247.5 512.5L236.4 520.5L224.5 526.1L215.5 528.8L206.5 530.5L206.5 531.5ZM183.5 491.6L176.5 491.6L171.8 490.5L165.8 487.5L161.5 484.7L154.5 476.9L152.5 475.5L143.5 474.6L134.5 471.5L130.7 468.5L130.0 466.5L130.4 462.5L133.4 459.5L137.9 457.5L145.5 455.4L152.5 454.9L154.5 453.4L159.5 447.5L163.2 444.5L173.0 439.5L179.5 438.7L185.5 439.2L190.5 440.5L194.5 442.3L201.5 447.8L204.5 451.6L206.6 455.5L207.6 458.5L208.5 463.9L207.7 471.5L204.7 478.5L199.5 484.6L195.4 487.5L191.5 489.5L183.5 491.6Z"/><path fill="#ff8b00" fill-rule="evenodd" d="M197.5 531.5L170.5 531.5L170.5 530.5L168.5 529.6L166.5 527.5L165.1 523.5L164.8 520.5L165.3 507.5L167.1 499.5L168.7 496.5L171.5 494.4L180.5 494.7L187.5 493.8L193.5 491.8L198.5 489.0L203.8 484.5L207.6 479.5L210.6 472.5L211.6 466.5L211.0 459.5L209.0 453.5L205.2 447.5L200.0 442.5L194.5 439.1L186.5 436.4L180.5 435.8L171.5 435.9L169.3 434.5L167.7 432.5L165.3 423.5L164.9 408.5L165.5 405.3L166.8 402.5L168.5 400.8L171.5 399.7L190.5 399.4L208.5 401.2L222.5 404.7L235.2 410.5L246.5 418.6L251.5 423.5L256.4 429.5L260.4 435.5L263.4 441.5L265.8 447.5L267.6 454.5L268.5 461.5L268.5 468.5L267.7 475.5L266.2 481.5L263.6 488.5L260.6 494.5L256.7 500.5L251.8 506.5L241.5 515.8L229.5 522.8L217.5 527.2L208.5 529.2L198.0 530.5L198.0 531.5L197.5 531.5ZM183.5 491.6L176.5 491.6L171.9 490.5L165.9 487.5L161.5 484.6L154.5 476.9L152.5 475.4L143.8 474.5L135.0 471.5L131.1 468.5L130.5 466.5L130.8 462.5L133.8 459.5L138.4 457.5L145.5 455.5L152.5 455.0L154.5 453.5L159.6 447.5L163.2 444.5L173.1 439.5L179.5 438.7L185.5 439.2L190.3 440.5L194.5 442.4L197.8 444.5L201.5 447.9L204.5 451.7L206.5 455.5L207.8 459.5L208.5 464.5L207.7 471.5L204.6 478.5L199.5 484.5L195.4 487.5L191.4 489.5L183.5 491.6Z"/><path fill="#ff8300" fill-rule="evenodd" d="M198.5 529.5L182.5 530.2L171.5 529.7L167.5 527.8L165.5 523.4L165.1 520.5L165.6 506.5L167.3 499.5L168.8 496.5L171.5 494.5L180.5 494.7L187.5 493.8L193.5 491.8L198.5 489.0L203.8 484.5L207.6 479.5L210.6 472.5L211.6 466.5L211.0 459.5L209.0 453.5L205.2 447.5L200.1 442.5L194.5 439.1L186.5 436.4L180.5 435.7L171.5 435.8L169.4 434.5L167.9 432.5L165.5 423.5L165.1 409.5L166.8 403.5L168.5 401.8L171.5 400.6L189.5 400.4L207.5 402.0L221.5 405.5L233.5 410.8L244.5 418.5L249.8 423.5L254.5 429.1L261.5 440.5L263.9 446.5L265.9 453.5L267.0 460.5L267.1 467.5L266.4 474.5L265.0 480.5L262.5 487.5L259.6 493.5L255.8 499.5L251.1 505.5L246.1 510.5L240.5 515.1L234.5 519.0L228.5 522.1L221.5 524.9L214.5 527.0L198.5 529.5ZM183.5 491.5L177.5 491.6L172.1 490.5L165.9 487.5L161.5 484.6L154.5 476.8L152.5 475.3L144.4 474.5L135.4 471.5L131.6 468.5L130.9 466.5L131.3 462.5L134.3 459.5L138.8 457.5L145.5 455.7L152.5 455.1L154.5 453.6L159.7 447.5L163.3 444.5L173.2 439.5L179.5 438.8L185.5 439.2L190.2 440.5L194.5 442.4L197.7 444.5L201.5 448.0L203.6 450.5L206.5 455.6L207.8 459.5L208.4 464.5L207.6 471.5L204.6 478.5L199.4 484.5L195.3 487.5L191.3 489.5L183.5 491.5Z"/><path fill="#ff7c00" fill-rule="evenodd" d="M198.5 528.6L184.5 529.3L171.5 528.9L169.5 528.3L167.5 526.9L165.7 522.5L165.8 506.5L167.5 499.5L169.0 496.5L171.9 494.5L180.5 494.8L187.5 493.9L193.5 491.9L198.5 489.1L203.9 484.5L207.7 479.5L210.7 472.5L211.6 466.5L211.1 459.5L209.1 453.5L205.3 447.5L199.5 442.0L194.5 439.0L189.5 437.1L182.5 435.8L171.5 435.8L168.7 433.5L167.3 430.5L165.7 423.5L165.4 409.5L166.8 404.5L168.5 402.6L170.5 401.8L175.5 401.1L186.5 401.1L206.5 402.8L219.5 405.8L231.5 410.9L236.5 413.9L243.5 419.1L249.1 424.5L253.3 429.5L260.0 440.5L264.3 452.5L265.2 457.5L265.8 465.5L265.3 472.5L264.1 478.5L261.9 485.5L259.2 491.5L255.0 498.5L251.2 503.5L241.5 512.9L235.5 517.2L228.5 521.0L221.5 523.9L214.5 526.0L198.5 528.6ZM182.5 491.6L176.5 491.5L172.2 490.5L166.0 487.5L161.5 484.6L157.4 480.5L154.5 476.7L152.5 475.1L143.5 474.1L138.2 472.5L134.1 470.5L131.6 467.5L131.7 462.5L134.8 459.5L139.3 457.5L145.5 455.8L151.5 455.5L153.5 454.7L159.5 447.8L163.3 444.5L173.4 439.5L179.5 438.9L185.5 439.3L190.1 440.5L194.5 442.5L197.6 444.5L201.5 448.0L203.6 450.5L206.5 455.7L207.7 459.5L208.3 464.5L207.6 471.5L204.5 478.6L201.5 482.4L198.1 485.5L191.1 489.5L182.5 491.6Z"/><path fill="#ff7400" fill-rule="evenodd" d="M186.5 528.5L171.5 528.1L168.5 527.0L167.2 525.5L165.8 520.5L165.9 507.5L167.9 498.5L169.1 496.5L171.5 494.7L181.5 494.8L187.5 493.9L195.5 490.9L201.5 486.9L206.4 481.5L209.7 475.5L211.4 469.5L211.6 462.5L210.6 457.5L208.1 451.5L203.6 445.5L198.5 441.3L194.5 439.0L189.5 437.0L182.5 435.7L171.5 435.7L168.8 433.5L167.5 430.5L165.9 423.5L165.8 409.5L167.5 404.4L169.5 402.9L172.5 402.1L191.5 402.1L208.5 403.9L222.5 407.7L234.5 413.6L240.5 417.8L245.8 422.5L250.4 427.5L254.9 433.5L258.4 439.5L261.4 446.5L263.2 452.5L264.4 459.5L264.6 466.5L264.0 473.5L262.5 480.5L260.4 486.5L257.0 493.5L253.1 499.5L248.5 505.1L243.5 510.1L232.5 518.0L226.5 521.0L219.5 523.7L204.5 527.2L186.5 528.5ZM182.5 491.5L176.7 491.5L172.3 490.5L166.1 487.5L161.5 484.5L157.4 480.5L154.5 476.6L152.5 475.0L143.5 474.0L138.7 472.5L134.6 470.5L132.0 467.5L132.2 462.5L135.2 459.5L139.8 457.5L146.5 455.8L151.5 455.7L153.5 454.8L159.5 447.9L163.4 444.5L173.5 439.5L179.5 439.0L185.5 439.3L190.0 440.5L194.5 442.5L197.6 444.5L201.5 448.1L203.6 450.5L206.5 455.8L207.7 459.5L208.1 463.5L207.6 471.5L204.5 478.5L201.5 482.3L198.0 485.5L191.0 489.5L182.5 491.5Z"/><path fill="#ff6c00" fill-rule="evenodd" d="M193.5 527.5L174.5 527.8L170.5 527.2L168.5 526.1L166.8 523.5L166.1 520.5L166.1 507.5L167.5 500.5L168.6 497.5L171.5 494.8L181.5 494.8L188.5 493.7L195.5 491.0L202.5 486.0L207.1 480.5L210.1 474.5L211.7 466.5L211.2 459.5L209.1 453.5L206.2 448.5L201.5 443.5L196.5 440.0L190.5 437.3L185.5 436.0L171.5 435.7L169.0 433.5L167.7 430.5L166.1 423.5L166.1 409.5L167.5 405.4L169.5 403.6L171.5 403.0L177.5 402.5L189.5 402.7L206.5 404.3L219.6 407.5L231.5 412.8L242.5 420.6L247.5 425.5L252.4 431.5L256.2 437.5L259.1 443.5L262.7 455.5L263.5 462.5L263.4 469.5L262.4 476.5L260.8 482.5L258.4 488.5L255.3 494.5L251.2 500.5L246.5 506.0L241.5 510.7L235.5 515.2L223.5 521.5L209.5 525.6L193.5 527.5ZM182.5 491.5L177.1 491.5L172.4 490.5L164.5 486.6L161.6 484.5L152.5 474.9L143.5 473.8L135.0 470.5L132.5 467.5L132.3 463.5L133.2 461.5L135.7 459.5L140.3 457.5L146.5 455.9L151.5 455.8L153.5 455.0L158.5 449.1L163.4 444.5L173.7 439.5L179.5 439.0L186.4 439.5L192.4 441.5L196.0 443.5L202.5 449.3L206.5 455.9L207.6 459.5L208.0 463.5L207.5 471.5L204.5 478.4L201.5 482.2L198.0 485.5L190.9 489.5L182.5 491.5Z"/><path fill="#ff6400" fill-rule="evenodd" d="M197.5 526.6L183.5 527.2L172.5 526.9L168.5 525.2L166.6 521.5L166.3 507.5L167.9 499.5L169.4 496.5L170.5 495.4L172.5 494.6L181.5 494.8L187.5 494.0L193.5 492.0L198.5 489.2L204.1 484.5L207.8 479.5L210.8 472.5L211.8 466.5L211.0 458.5L208.7 452.5L204.6 446.5L199.5 441.9L194.5 438.9L189.5 436.9L182.5 435.7L172.5 435.8L171.2 435.5L169.1 433.5L167.8 430.5L166.3 423.5L166.5 409.5L168.5 405.2L171.5 403.7L177.5 403.2L188.5 403.3L206.5 405.0L219.5 408.2L231.1 413.5L237.3 417.5L242.2 421.5L247.2 426.5L251.2 431.5L257.6 442.5L261.5 454.5L262.4 460.5L262.5 467.5L261.8 474.5L260.4 480.5L258.2 486.5L255.3 492.5L251.5 498.5L247.5 503.6L237.8 512.5L231.8 516.5L226.1 519.5L219.5 522.2L212.5 524.2L197.5 526.6ZM181.5 491.5L177.6 491.5L172.6 490.5L164.5 486.5L159.5 482.6L154.7 476.5L152.5 474.8L143.5 473.7L135.5 470.5L132.9 467.5L132.8 463.5L133.7 461.5L136.2 459.5L140.9 457.5L146.5 456.1L151.5 455.9L153.5 455.1L158.5 449.2L163.5 444.5L173.9 439.5L179.5 439.1L186.2 439.5L192.2 441.5L195.9 443.5L202.5 449.3L206.5 456.1L207.9 462.5L207.5 471.4L205.5 476.5L203.7 479.5L197.9 485.5L190.8 489.5L181.5 491.5Z"/><path fill="#ff5c00" fill-rule="evenodd" d="M183.5 526.5L171.5 526.0L169.5 525.2L167.5 522.8L166.8 520.5L166.5 507.5L168.4 498.5L169.6 496.5L171.5 495.0L181.5 494.9L188.5 493.8L195.5 491.1L201.5 487.0L205.8 482.5L209.9 475.5L211.7 468.5L211.6 461.5L210.1 455.5L207.0 449.5L203.5 445.3L198.5 441.1L192.5 437.9L186.5 436.1L180.5 435.5L172.5 435.7L170.1 434.5L168.3 431.5L166.5 423.5L166.9 409.5L167.5 407.5L169.5 405.2L174.5 404.0L195.5 404.4L211.5 406.7L223.5 410.6L234.4 416.5L244.1 424.5L251.5 433.5L257.0 443.5L260.4 454.5L261.5 466.5L260.1 477.5L256.3 488.5L250.4 498.5L242.5 507.5L233.5 514.5L223.5 519.8L212.3 523.5L199.5 525.7L183.5 526.5ZM180.5 491.5L172.9 490.5L164.5 486.5L158.5 481.5L153.5 475.1L151.5 474.4L147.5 474.3L143.4 473.5L136.0 470.5L133.4 467.5L133.2 463.5L134.1 461.5L136.6 459.5L141.4 457.5L146.5 456.2L151.5 456.0L153.5 455.2L156.5 451.4L162.4 445.5L167.2 442.5L174.2 439.5L185.9 439.5L189.6 440.5L195.8 443.5L198.6 445.5L202.5 449.4L206.5 456.2L207.8 461.5L207.5 471.1L205.5 476.5L203.5 479.7L196.5 486.5L192.9 488.5L187.7 490.5L180.5 491.5Z"/><path fill="#ff5400" fill-rule="evenodd" d="M192.5 525.5L174.5 525.7L170.5 524.9L168.5 523.4L167.2 520.5L166.7 507.5L168.3 499.5L169.8 496.5L171.5 495.1L182.5 494.9L188.5 493.8L195.5 491.1L201.5 487.1L205.9 482.5L209.9 475.5L211.7 468.5L211.6 461.5L210.1 455.5L207.0 449.5L203.5 445.2L198.5 441.1L192.5 437.9L187.5 436.3L181.5 435.5L172.5 435.7L171.5 435.4L169.5 433.5L168.2 430.5L166.7 423.5L167.3 409.5L169.5 406.0L172.5 405.0L190.5 404.8L206.5 406.4L219.5 409.8L230.5 415.0L240.7 422.5L245.7 427.5L249.6 432.5L253.4 438.5L256.3 444.5L258.4 450.5L259.8 456.5L260.4 462.5L260.3 469.5L259.3 476.5L257.6 482.5L255.2 488.5L251.9 494.5L247.7 500.5L243.5 505.2L233.5 513.5L227.5 517.1L221.5 519.8L208.5 523.6L192.5 525.5ZM187.5 490.5L179.5 491.4L173.5 490.6L166.4 487.5L159.5 482.5L153.5 475.0L151.5 474.2L144.0 473.5L138.3 471.5L135.5 469.8L133.9 467.5L134.0 462.5L135.6 460.5L140.5 458.0L145.7 456.5L151.5 456.2L153.5 455.4L156.2 452.5L156.5 451.5L162.4 445.5L167.3 442.5L174.4 439.5L185.5 439.5L186.5 440.1L189.5 440.5L194.0 442.5L200.7 447.5L205.5 454.1L207.7 460.5L207.6 470.5L204.5 478.0L200.0 483.5L194.7 487.5L187.5 490.5Z"/><path fill="#ff4c00" fill-rule="evenodd" d="M196.5 524.5L183.5 525.1L173.5 524.9L169.5 523.5L167.6 520.5L166.9 507.5L168.4 499.5L169.9 496.5L172.5 494.9L181.5 495.0L188.5 493.9L194.5 491.7L199.5 488.7L204.2 484.5L208.0 479.5L211.0 472.5L211.9 466.5L211.1 458.5L208.9 452.5L204.8 446.5L200.5 442.5L195.5 439.2L189.5 436.8L182.5 435.6L172.5 435.6L169.6 433.5L168.3 430.5L166.9 423.5L167.5 411.1L167.7 409.5L168.9 407.5L170.5 406.3L172.5 405.7L189.5 405.4L205.5 407.0L218.5 410.3L229.5 415.3L239.5 422.6L244.5 427.5L248.5 432.5L254.8 443.5L258.3 454.5L259.2 460.5L259.4 467.5L257.5 479.5L255.4 485.5L252.5 491.5L248.8 497.5L244.8 502.5L235.5 511.1L224.5 517.7L211.5 522.2L196.5 524.5ZM186.5 490.6L173.5 490.5L172.5 489.6L166.7 487.5L164.5 485.7L163.5 485.5L160.2 482.5L153.5 474.8L143.5 473.2L138.8 471.5L135.6 469.5L134.1 466.5L134.5 462.5L136.1 460.5L139.7 458.5L146.5 456.5L151.5 456.3L154.5 455.0L157.5 450.5L162.5 445.5L163.5 445.4L165.5 443.5L166.5 443.4L167.5 442.5L171.5 441.2L172.1 440.5L173.5 440.4L174.7 439.5L185.5 439.5L186.5 440.3L189.3 440.5L189.5 441.2L191.5 441.4L193.8 442.5L200.6 447.5L205.5 454.3L207.6 460.5L207.5 470.5L204.5 477.9L199.8 483.5L194.6 487.5L190.4 489.5L187.5 489.8L187.2 490.5L186.5 490.6Z"/><path fill="#ff4400" fill-rule="evenodd" d="M199.5 523.6L186.5 524.4L174.5 524.3L170.5 523.3L168.5 521.5L168.2 520.5L167.1 507.5L168.6 499.5L170.1 496.5L172.5 494.9L181.5 495.0L188.5 493.9L194.5 491.7L199.5 488.8L204.3 484.5L208.0 479.5L211.0 472.5L212.0 466.5L211.2 458.5L208.9 452.5L204.8 446.5L200.5 442.4L195.5 439.2L190.5 437.1L181.5 435.4L172.5 435.5L169.8 433.5L168.5 430.5L167.1 423.5L167.8 412.5L168.8 408.5L170.5 407.1L172.5 406.4L188.5 406.1L204.5 407.5L216.8 410.5L228.2 415.5L238.1 422.5L246.6 431.5L253.3 442.5L257.1 453.5L258.1 459.5L258.4 465.5L258.0 471.5L256.9 477.5L255.1 483.5L252.5 489.5L249.0 495.5L245.3 500.5L236.2 509.5L225.5 516.3L213.5 520.9L199.5 523.6ZM184.5 440.2L176.5 440.2L175.5 440.1L175.1 439.5L185.1 439.5L184.5 440.2ZM188.5 441.3L186.4 440.5L189.0 440.5L188.5 441.3ZM191.5 442.2L190.5 442.2L189.7 441.5L191.7 441.5L191.5 442.2ZM193.5 443.3L191.9 442.5L193.7 442.5L193.5 443.3ZM195.5 444.1L194.5 444.2L193.8 443.5L195.5 443.5L195.5 444.1ZM196.5 445.3L195.7 444.5L196.8 444.5L196.5 445.3ZM197.5 446.2L196.8 445.5L198.1 445.5L197.5 446.2ZM199.5 447.3L198.2 446.5L199.5 446.5L199.5 447.3ZM200.5 448.4L199.6 447.5L200.6 447.5L200.5 448.4ZM201.5 449.9L200.7 448.5L201.5 448.5L201.5 449.9ZM202.5 451.2L201.8 450.5L202.5 449.9L202.5 451.2ZM203.5 452.3L202.7 451.5L203.5 451.2L203.5 452.3ZM204.5 454.2L203.8 453.5L204.1 452.5L204.5 452.5L204.5 454.2ZM205.5 456.3L204.8 455.5L204.8 454.5L205.5 454.4L205.5 456.3ZM153.5 474.6L145.3 473.5L137.4 470.5L134.8 467.5L134.7 463.5L135.6 461.5L138.1 459.5L143.1 457.5L147.5 456.5L153.5 456.1L154.0 456.5L153.5 457.1L153.2 460.5L152.5 461.3L152.5 465.5L152.5 469.1L153.3 470.5L153.8 473.5L153.5 474.6ZM206.5 459.2L205.7 457.5L206.5 456.7L206.5 459.2ZM207.5 470.4L206.7 469.5L206.7 468.5L206.7 461.5L206.8 460.5L207.5 460.0L207.5 470.4ZM206.5 473.7L205.8 473.5L205.7 472.5L206.5 471.1L206.5 473.7ZM205.5 475.9L204.7 475.5L205.5 474.0L205.5 475.9ZM204.5 477.8L203.7 477.5L204.5 476.1L204.5 477.8ZM203.5 479.3L202.8 478.5L203.5 477.8L203.5 479.3ZM202.5 480.7L201.7 480.5L202.5 479.6L202.5 480.7ZM201.5 481.7L200.7 481.5L201.5 480.7L201.5 481.7ZM200.5 482.7L199.7 482.5L200.5 481.7L200.5 482.7ZM199.5 483.7L198.7 483.5L199.5 482.7L199.5 483.7ZM198.5 484.7L197.7 484.5L198.5 483.7L198.5 484.7ZM197.5 485.6L196.1 485.5L197.5 484.8L197.5 485.6ZM195.5 486.7L194.7 486.5L195.5 485.7L195.9 486.5L195.5 486.7ZM194.5 487.5L192.8 487.5L193.5 486.8L194.5 487.0L194.5 487.5ZM192.5 488.5L190.7 488.5L191.5 487.8L192.5 487.9L192.5 488.5ZM189.5 489.6L187.9 489.5L189.5 488.7L190.2 489.5L189.5 489.6ZM175.5 490.5L173.7 490.5L174.5 489.9L176.3 490.5L175.5 490.5ZM186.5 490.6L182.9 490.5L185.5 489.7L186.5 489.8L186.9 490.5L186.5 490.6Z"/><path fill="#ff3c00" fill-rule="evenodd" d="M190.5 523.5L174.5 523.6L171.5 523.0L169.5 521.8L168.3 518.5L167.3 507.5L169.1 498.5L171.5 495.3L173.5 494.9L182.5 495.0L188.5 494.0L195.5 491.3L201.5 487.2L206.8 481.5L210.1 475.5L211.9 468.5L211.8 461.5L210.3 455.5L207.9 450.5L204.0 445.5L198.5 440.9L193.5 438.2L187.5 436.2L180.5 435.3L172.6 435.5L170.0 433.5L168.7 430.5L167.3 423.5L168.2 412.5L169.5 408.6L173.5 406.9L190.5 406.9L206.5 408.6L218.5 411.9L229.5 417.2L239.5 424.9L247.6 434.5L253.5 445.5L255.5 451.5L256.8 457.5L257.3 463.5L257.1 470.5L256.1 476.5L254.4 482.5L251.9 488.5L248.5 494.5L240.5 504.5L230.5 512.5L224.5 515.9L218.5 518.5L205.5 522.0L190.5 523.5ZM184.5 439.7L175.6 439.5L184.5 439.7ZM188.5 440.9L187.1 440.5L188.7 440.5L188.5 440.9ZM191.5 441.7L190.2 441.5L191.5 441.7ZM193.5 442.8L192.7 442.5L193.6 442.5L193.5 442.8ZM194.5 443.6L194.9 443.5L194.5 443.6ZM196.5 444.9L196.1 444.5L196.7 444.5L196.5 444.9ZM202.5 450.7L202.5 450.3L202.5 450.7ZM203.5 452.0L203.0 451.5L203.5 451.3L203.5 452.0ZM204.5 453.8L204.5 453.0L204.5 453.8ZM205.5 455.8L205.5 454.5L205.5 455.8ZM152.5 474.1L143.5 472.8L139.8 471.5L136.6 469.5L135.1 466.5L135.1 463.5L136.0 461.5L138.6 459.5L143.7 457.5L147.5 456.7L153.4 456.5L153.2 459.5L152.5 460.6L152.4 464.5L152.5 469.5L153.3 473.5L152.5 474.1ZM206.5 458.6L206.0 457.5L206.5 457.0L206.5 458.6ZM207.5 469.9L207.0 468.5L207.1 461.5L207.5 460.4L207.5 469.9ZM206.5 473.5L206.1 472.5L206.5 471.9L206.5 473.5ZM205.5 475.7L205.1 475.5L205.5 474.7L205.5 475.7ZM204.5 477.6L204.1 477.5L204.5 476.9L204.5 477.6ZM203.5 478.8L203.5 478.3L203.5 478.8ZM202.5 480.6L202.1 480.5L202.5 480.1L202.5 480.6ZM201.5 481.6L201.0 481.5L201.5 481.0L201.5 481.6ZM200.5 482.6L200.1 482.5L200.5 482.1L200.5 482.6ZM199.5 483.6L199.1 483.5L199.5 483.1L199.5 483.6ZM198.5 484.6L198.1 484.5L198.5 484.1L198.5 484.6ZM195.5 486.6L195.1 486.5L195.5 486.1L195.5 486.6ZM193.5 487.5L194.1 487.5L193.5 487.5ZM191.5 488.6L191.5 488.2L192.5 488.5L191.5 488.6ZM189.5 489.6L188.5 489.5L189.5 489.1L189.9 489.5L189.5 489.6ZM186.5 490.5L184.1 490.5L185.5 490.1L186.5 490.5Z"/><path fill="#ff3400" fill-rule="evenodd" d="M195.5 522.5L176.5 523.0L172.5 522.5L170.2 521.5L168.6 517.5L167.4 507.5L169.0 499.5L169.7 497.5L171.5 495.4L173.5 495.0L182.5 495.0L188.5 494.0L196.5 490.8L202.5 486.4L206.9 481.5L210.8 473.5L212.0 467.5L211.7 460.5L210.0 454.5L207.2 449.5L203.5 444.9L198.5 440.8L193.5 438.1L187.5 436.1L180.5 435.3L173.2 435.5L171.5 434.9L170.1 433.5L168.5 428.9L167.5 421.5L169.5 409.7L172.5 407.9L177.5 407.4L188.5 407.5L204.5 409.0L216.5 412.0L227.5 417.0L237.5 424.3L245.8 433.5L252.0 444.5L255.4 455.5L256.2 461.5L256.3 467.5L255.6 473.5L254.3 479.5L252.2 485.5L249.2 491.5L242.1 501.5L237.5 506.1L232.5 510.2L221.5 516.5L209.5 520.4L195.5 522.5ZM183.5 439.6L182.2 439.5L183.5 439.6ZM152.5 474.0L143.5 472.6L140.4 471.5L137.1 469.5L135.6 466.5L135.6 463.5L136.5 461.5L139.2 459.5L144.3 457.5L152.9 456.5L152.3 466.5L153.2 472.5L153.1 473.5L152.5 474.0ZM206.5 457.8L206.5 457.4L206.5 457.8ZM207.5 462.9L207.5 461.2L207.5 462.9ZM207.5 469.3L207.5 467.5L207.5 469.3Z"/><path fill="#ff2c00" fill-rule="evenodd" d="M198.5 521.5L184.5 522.3L173.5 522.0L170.5 520.6L169.2 517.5L167.7 507.5L169.2 499.5L170.6 496.5L172.5 495.2L182.5 495.1L188.5 494.1L194.5 491.9L199.5 488.9L205.3 483.5L208.8 478.5L211.2 472.5L212.1 466.5L211.7 460.5L209.1 452.5L205.0 446.5L200.5 442.2L195.5 439.0L190.5 436.9L182.5 435.3L173.5 435.4L171.5 434.8L170.3 433.5L168.5 428.0L167.8 421.5L169.5 411.7L170.7 409.5L173.0 408.5L187.5 408.1L203.5 409.5L215.5 412.4L226.5 417.3L236.4 424.5L244.5 433.4L250.5 443.5L254.1 454.5L255.1 460.5L255.3 466.5L253.8 477.5L249.5 488.9L242.6 499.5L233.5 508.4L223.5 514.7L211.5 519.2L198.5 521.5ZM152.5 473.8L143.6 472.5L137.6 469.5L136.1 466.5L136.1 463.5L137.0 461.5L139.7 459.5L143.5 458.0L152.5 456.5L153.0 457.5L152.3 461.5L152.3 468.5L153.0 472.5L152.5 473.8Z"/><path fill="#ff2400" fill-rule="evenodd" d="M188.5 521.5L175.2 521.5L172.5 520.8L170.9 519.5L169.5 516.4L167.9 507.5L169.6 498.5L170.8 496.5L172.5 495.3L183.5 495.1L191.5 493.2L196.5 490.9L201.5 487.4L207.0 481.5L210.2 475.5L212.0 468.5L212.0 461.5L210.8 456.5L208.0 450.5L204.2 445.5L198.5 440.7L193.5 438.0L187.5 436.0L181.5 435.2L173.5 435.3L171.5 434.7L170.5 433.5L169.5 431.5L168.4 426.5L167.9 423.5L168.2 420.5L170.5 411.4L172.5 409.5L174.5 409.1L192.5 409.1L204.8 410.5L212.5 412.3L218.5 414.4L228.5 419.5L233.5 423.1L238.3 427.5L245.5 436.5L251.0 447.5L252.9 453.5L253.9 459.5L253.8 471.5L252.7 477.5L250.8 483.5L245.1 494.5L241.5 499.4L236.7 504.5L227.5 511.5L216.5 516.8L205.5 519.8L188.5 521.5ZM152.5 473.7L144.2 472.5L138.1 469.5L136.6 466.5L136.6 463.5L137.6 461.5L140.2 459.5L144.5 457.8L152.5 456.8L152.9 458.5L152.3 460.5L152.2 466.5L152.9 472.5L152.5 473.7Z"/><path fill="#ff1c00" fill-rule="evenodd" d="M188.5 520.5L176.5 520.5L173.5 519.9L171.5 518.6L169.5 514.1L168.1 507.5L169.8 498.5L171.0 496.5L172.5 495.3L184.5 495.0L192.5 492.9L198.5 489.7L202.5 486.6L207.0 481.5L210.3 475.5L212.1 468.5L212.0 461.5L210.9 456.5L208.1 450.5L204.2 445.5L198.5 440.7L193.5 437.9L187.5 436.0L181.5 435.1L173.5 435.2L171.5 434.5L170.7 433.5L169.5 430.8L168.1 423.5L169.1 417.5L170.5 413.2L171.5 411.8L173.5 410.5L176.5 409.9L192.5 410.1L206.5 411.9L217.5 415.1L227.9 420.5L233.2 424.5L237.5 428.5L244.5 437.5L249.9 448.5L252.4 459.5L252.8 465.5L252.4 471.5L249.5 482.9L244.2 493.5L240.5 498.5L235.9 503.5L226.5 510.8L215.5 516.0L203.5 519.1L188.5 520.5ZM152.5 473.5L144.9 472.5L138.7 469.5L137.1 466.5L137.1 463.5L138.1 461.5L140.8 459.5L144.5 458.1L152.5 457.0L152.1 465.5L152.5 473.5Z"/><path fill="#ff1400" fill-rule="evenodd" d="M197.5 518.6L183.5 519.3L174.5 518.8L172.5 517.9L171.2 516.5L168.5 508.9L168.4 506.5L169.7 499.5L170.5 497.5L172.2 495.5L183.5 495.1L189.5 494.0L196.5 491.0L203.5 485.7L207.1 481.5L209.9 476.5L211.3 472.5L212.2 467.5L211.9 460.5L210.2 454.5L206.8 448.5L201.5 442.8L195.5 438.8L190.5 436.8L182.5 435.2L173.5 435.2L171.7 434.5L170.9 433.5L169.4 429.5L168.3 423.5L168.5 421.5L169.5 417.7L171.4 413.5L174.5 411.6L187.5 411.2L202.5 412.5L213.5 415.2L223.5 419.7L232.5 426.0L240.3 434.5L246.3 444.5L249.6 454.5L250.8 465.5L249.5 476.5L245.5 487.5L239.1 497.5L231.2 505.5L221.5 511.8L210.5 516.1L197.5 518.6ZM152.5 473.1L145.6 472.5L139.2 469.5L137.6 466.5L137.7 463.5L138.6 461.5L141.4 459.5L144.5 458.3L147.5 457.5L152.5 457.3L152.0 465.5L152.5 473.1Z"/><path fill="#ff0c00" fill-rule="evenodd" d="M194.5 517.5L178.5 518.0L174.5 517.4L172.5 516.4L169.9 512.5L168.5 507.5L170.2 498.5L172.5 495.5L184.5 495.1L192.5 493.0L198.5 489.9L202.5 486.8L207.2 481.5L210.8 474.5L212.2 468.5L212.0 460.5L210.2 454.5L206.9 448.5L202.5 443.7L197.5 439.9L188.5 436.1L181.5 435.0L173.5 435.1L171.9 434.5L171.1 433.5L169.5 429.0L168.5 423.5L168.8 421.5L171.5 415.1L173.5 413.4L175.5 412.7L189.5 412.6L203.5 414.1L214.5 417.1L223.6 421.5L232.5 428.3L239.6 436.5L245.1 446.5L248.1 456.5L248.8 467.5L247.0 478.5L242.5 489.2L236.0 498.5L227.5 506.3L218.5 511.6L207.5 515.4L194.5 517.5ZM152.5 472.6L151.5 473.0L146.4 472.5L143.3 471.5L139.8 469.5L138.1 466.5L138.2 463.5L139.2 461.5L142.0 459.5L144.5 458.5L147.5 457.7L152.3 457.5L151.9 465.5L152.5 472.6Z"/><path fill="#ff0400" fill-rule="evenodd" d="M188.5 516.5L176.5 516.4L173.5 515.6L171.5 513.9L169.5 510.3L168.8 507.5L170.4 498.5L171.5 496.5L172.8 495.5L184.5 495.1L192.5 493.0L198.5 489.9L202.5 486.9L207.9 480.5L210.8 474.5L212.2 468.5L212.2 461.5L211.1 456.5L208.3 450.5L204.4 445.5L199.5 441.1L194.5 438.2L188.5 436.0L182.5 435.0L173.5 435.0L172.1 434.5L171.3 433.5L169.5 427.9L168.8 423.5L169.1 421.5L171.5 416.5L173.5 414.8L176.5 414.0L190.5 414.0L203.5 415.5L214.5 418.7L223.8 423.5L232.4 430.5L239.4 439.5L244.2 449.5L246.6 459.5L246.6 470.5L244.0 481.5L239.0 491.5L231.8 500.5L223.5 507.1L213.5 512.1L202.5 515.1L188.5 516.5ZM151.5 472.8L145.5 472.0L140.3 469.5L138.7 466.5L138.7 463.5L139.7 461.5L142.5 459.5L145.1 458.5L151.5 457.6L152.3 458.5L151.8 465.5L152.2 472.5L151.5 472.8Z"/><path fill="#fb0000" fill-rule="evenodd" d="M196.5 514.6L179.5 515.3L175.5 514.8L172.5 513.7L170.5 511.4L169.0 507.5L170.5 499.0L171.8 496.5L173.2 495.5L184.5 495.2L192.5 493.1L198.5 490.0L203.5 486.0L208.0 480.5L210.9 474.5L212.4 467.5L211.9 459.5L209.9 453.5L207.0 448.5L202.5 443.5L197.5 439.8L188.5 436.0L182.5 435.0L173.5 434.9L171.5 433.5L170.3 430.5L169.1 422.5L171.5 417.5L175.5 415.5L187.5 415.2L201.5 416.5L211.5 419.1L220.5 423.3L228.9 429.5L235.5 436.9L240.6 445.5L243.9 455.5L244.9 466.5L243.5 476.5L239.8 486.5L234.0 495.5L226.5 503.0L218.0 508.5L207.6 512.5L196.5 514.6ZM151.5 472.6L145.5 471.8L140.9 469.5L139.2 466.5L139.3 463.5L140.3 461.5L143.2 459.5L145.8 458.5L151.5 457.8L152.1 458.5L151.7 465.5L152.1 471.5L151.5 472.6Z"/><path fill="#f30000" fill-rule="evenodd" d="M195.5 513.6L178.5 514.1L174.5 513.6L172.5 512.8L170.5 510.6L169.3 507.5L170.6 499.5L172.0 496.5L173.5 495.5L184.5 495.2L190.5 493.9L198.5 490.1L203.5 486.1L208.1 480.5L211.0 474.5L212.4 467.5L212.0 459.5L210.0 453.5L207.8 449.5L203.6 444.5L199.5 441.0L194.5 438.1L188.5 435.9L183.5 435.0L174.5 434.9L172.5 434.4L170.5 430.5L169.4 422.5L171.5 418.5L174.5 416.8L184.5 416.2L198.5 417.2L210.5 420.0L219.5 424.2L227.5 430.1L234.9 438.5L238.9 445.5L242.1 454.5L243.0 459.5L243.3 465.5L242.9 471.5L241.9 476.5L238.6 485.5L232.9 494.5L224.5 502.9L216.5 507.9L205.5 511.9L195.5 513.6ZM151.5 472.4L145.5 471.6L141.5 469.5L139.8 466.5L139.9 463.5L140.9 461.5L143.8 459.5L146.5 458.5L151.5 458.0L152.0 459.5L152.0 471.5L151.5 472.4Z"/><path fill="#eb0000" fill-rule="evenodd" d="M197.5 512.6L181.5 513.3L176.5 513.1L173.5 512.4L171.0 510.5L169.6 507.5L170.9 499.5L172.3 496.5L173.5 495.7L184.5 495.3L190.5 494.0L197.5 490.8L203.5 486.2L208.1 480.5L211.1 474.5L212.5 467.5L212.1 459.5L210.1 453.5L207.2 448.5L203.5 444.2L198.5 440.3L194.5 438.0L188.5 435.9L182.5 434.8L174.5 434.8L172.5 434.1L171.0 431.5L169.6 423.5L170.1 421.5L171.5 419.4L174.5 417.6L185.5 417.1L198.5 418.0L208.5 420.2L217.5 424.0L225.5 429.5L232.2 436.5L237.8 445.5L241.0 454.5L242.3 464.5L241.3 474.5L238.0 484.5L232.5 493.5L225.9 500.5L217.5 506.4L208.5 510.2L197.5 512.6ZM151.5 472.2L146.1 471.5L143.7 470.5L141.2 468.5L140.4 466.5L140.4 464.5L141.5 461.5L146.5 458.8L151.5 458.2L151.9 459.5L151.5 472.2Z"/><path fill="#e30000" fill-rule="evenodd" d="M184.5 512.5L175.5 512.2L171.5 510.3L169.9 507.5L170.9 500.5L171.9 497.5L172.5 496.5L174.5 495.6L184.5 495.4L190.5 494.0L197.5 490.9L203.5 486.3L208.2 480.5L211.1 474.5L212.6 466.5L212.1 459.5L210.2 453.5L208.0 449.5L203.5 444.1L198.5 440.2L194.5 437.9L188.5 435.8L183.5 434.9L173.3 434.5L171.3 431.5L170.0 422.5L171.1 420.5L172.5 419.3L176.5 418.1L189.5 418.0L200.5 419.1L209.8 421.5L218.4 425.5L225.5 430.7L231.8 437.5L236.7 445.5L239.9 454.5L241.2 463.5L240.6 472.5L238.1 481.5L234.1 489.5L228.5 496.8L221.5 502.9L213.5 507.4L205.5 510.2L196.5 511.9L184.5 512.5ZM151.5 472.0L146.5 471.3L144.4 470.5L141.8 468.5L141.0 466.5L141.1 463.5L142.1 461.5L143.3 460.5L147.5 458.8L151.6 458.5L151.5 472.0Z"/><path fill="#db0000" fill-rule="evenodd" d="M190.5 511.5L178.5 511.6L174.5 511.2L172.5 510.4L170.2 507.5L171.7 498.5L172.8 496.5L174.5 495.8L186.5 495.2L193.5 493.0L198.5 490.3L203.5 486.3L208.3 480.5L211.2 474.5L212.7 466.5L212.2 459.5L211.1 455.5L208.1 449.5L203.5 444.0L198.5 440.1L194.5 437.9L189.5 436.0L183.5 434.8L174.5 434.6L172.5 433.5L171.3 430.5L170.4 422.5L172.5 420.0L175.5 419.0L188.5 418.8L200.5 419.8L210.5 422.6L218.5 426.6L226.1 432.5L232.7 440.5L237.3 449.5L239.7 458.5L240.1 468.5L238.1 478.5L234.2 487.5L228.4 495.5L220.5 502.5L211.5 507.4L202.5 510.2L190.5 511.5ZM151.5 471.7L146.5 471.0L142.4 468.5L141.6 466.5L141.7 463.5L142.8 461.5L144.0 460.5L146.5 459.4L151.5 458.7L151.5 471.7Z"/><path fill="#d30000" fill-rule="evenodd" d="M195.5 510.5L178.5 511.0L174.5 510.6L172.5 509.8L170.6 507.5L172.1 498.5L173.1 496.5L174.5 496.0L186.5 495.2L193.5 493.1L200.5 489.0L204.4 485.5L209.0 479.5L211.9 472.5L212.9 465.5L212.1 458.5L209.9 452.5L206.7 447.5L202.5 443.0L198.5 440.0L189.5 435.9L183.5 434.7L174.5 434.5L172.8 433.5L171.7 430.5L170.6 423.5L171.5 421.5L174.5 419.8L184.5 419.3L198.5 420.2L207.5 422.2L216.5 426.2L223.5 431.1L229.6 437.5L234.7 445.5L238.0 454.5L239.3 464.5L238.5 473.5L235.8 482.5L232.7 488.5L229.9 492.5L223.2 499.5L215.5 504.8L205.5 508.8L195.5 510.5ZM151.5 471.5L146.5 470.7L143.1 468.5L142.3 466.5L142.3 463.5L143.4 461.5L144.7 460.5L147.5 459.4L151.5 459.0L151.5 471.5Z"/><path fill="#cb0000" fill-rule="evenodd" d="M198.5 509.6L182.5 510.5L176.5 510.3L173.5 509.7L171.0 507.5L172.1 499.5L173.5 496.5L174.5 496.1L186.5 495.3L193.5 493.2L199.5 489.9L204.5 485.5L209.1 479.5L212.0 472.5L213.0 464.5L211.9 457.5L210.0 452.5L206.8 447.5L202.5 442.9L198.5 439.9L189.5 435.8L183.5 434.7L175.1 434.5L173.2 433.5L172.0 430.5L171.0 423.5L172.2 421.5L174.5 420.4L185.5 419.9L198.5 420.8L207.5 422.8L215.5 426.3L223.0 431.5L229.5 438.4L234.4 446.5L237.3 454.5L238.6 463.5L237.8 473.5L235.0 482.5L230.6 490.5L224.5 497.5L216.6 503.5L207.5 507.6L198.5 509.6ZM151.5 471.0L146.5 470.4L144.9 469.5L143.2 467.5L143.0 463.5L144.1 461.5L145.5 460.5L147.5 459.7L151.5 459.3L151.5 471.0Z"/><path fill="#c30000" fill-rule="evenodd" d="M193.5 509.6L179.5 509.9L173.5 509.1L171.5 507.5L172.8 498.5L174.5 496.3L183.5 495.9L191.5 494.1L199.5 490.0L204.5 485.7L209.2 479.5L212.1 472.5L213.1 465.5L212.2 458.5L210.1 452.5L207.0 447.5L202.5 442.8L198.5 439.8L193.5 437.1L186.5 434.9L175.5 434.3L173.5 433.5L172.4 430.5L171.5 423.5L172.5 421.9L175.5 420.8L187.5 420.5L199.5 421.5L207.5 423.4L215.5 426.9L223.2 432.5L229.5 439.5L234.1 447.5L237.0 456.5L237.9 466.5L236.6 475.5L233.3 484.5L227.5 493.4L220.5 500.1L212.5 505.0L204.5 507.9L193.5 509.6ZM151.5 470.5L146.5 469.9L143.9 467.5L143.7 463.5L144.9 461.5L146.4 460.5L150.5 459.7L151.5 460.0L151.1 465.5L151.5 470.5Z"/><path fill="#bb0000" fill-rule="evenodd" d="M197.5 508.6L181.5 509.4L176.5 509.2L173.5 508.5L172.2 507.5L173.3 498.5L174.5 496.5L184.5 495.9L188.5 495.1L194.5 493.0L199.5 490.1L204.9 485.5L209.9 478.5L212.2 472.5L213.2 464.5L212.1 457.5L210.2 452.5L207.1 447.5L202.5 442.6L197.5 439.0L193.5 437.0L187.5 435.1L175.5 434.1L174.0 433.5L172.9 430.5L172.1 423.5L172.6 422.5L174.5 421.6L184.5 421.0L198.5 421.9L207.5 424.0L214.5 427.0L221.5 431.8L227.9 438.5L232.9 446.5L235.8 454.5L237.2 463.5L236.4 473.5L233.5 482.5L229.0 490.5L222.7 497.5L215.5 502.8L207.5 506.4L197.5 508.6ZM150.5 470.4L147.5 469.8L145.5 468.7L144.6 467.5L144.3 465.5L144.4 463.5L145.7 461.5L147.5 460.5L150.5 460.0L151.2 460.5L151.3 469.5L150.5 470.4Z"/><path fill="#b30000" fill-rule="evenodd" d="M192.5 508.5L179.5 508.8L173.5 507.9L172.9 507.5L173.0 505.5L174.2 497.5L175.2 496.5L184.5 496.0L192.5 494.0L198.5 490.9L203.5 487.1L208.9 480.5L212.1 473.5L213.2 467.5L212.9 460.5L211.2 454.5L208.0 448.5L204.6 444.5L200.5 440.8L195.5 437.8L190.5 435.7L186.5 434.7L174.6 433.5L173.5 430.5L172.9 423.5L173.6 422.5L175.5 421.9L187.5 421.6L199.5 422.7L208.5 424.9L215.5 428.3L222.5 433.5L228.6 440.5L233.0 448.5L235.8 457.5L236.4 467.5L234.9 476.5L231.3 485.5L225.8 493.5L219.4 499.5L210.9 504.5L202.5 507.2L192.5 508.5ZM150.5 470.0L146.2 468.5L145.1 465.5L145.2 463.5L146.5 461.6L150.5 460.3L151.0 461.5L151.0 468.5L150.5 470.0Z"/><path fill="#ab0000" fill-rule="evenodd" d="M196.5 507.6L181.5 508.3L174.1 507.5L174.5 498.5L174.9 497.5L176.5 496.6L185.5 496.1L192.5 494.1L198.5 491.1L204.5 486.3L209.1 480.5L212.2 473.5L213.3 467.5L212.9 459.5L211.0 453.5L208.2 448.5L204.5 444.1L199.5 439.9L194.5 437.1L188.5 435.0L175.4 433.5L174.3 430.5L174.0 423.5L175.5 422.5L186.5 422.1L198.5 423.1L207.5 425.2L214.5 428.4L221.5 433.5L227.0 439.5L231.8 447.5L234.6 455.5L235.8 464.5L234.9 473.5L232.0 482.5L227.3 490.5L220.9 497.5L213.7 502.5L205.5 505.8L196.5 507.6ZM150.5 469.6L147.2 468.5L146.3 467.5L146.0 465.5L146.6 462.5L150.5 460.8L150.9 462.5L150.5 469.6Z"/><path fill="#a30000" fill-rule="evenodd" d="M190.5 507.6L176.4 507.5L175.4 502.5L175.9 497.5L186.5 496.1L193.5 494.0L200.5 490.0L204.5 486.5L209.3 480.5L212.1 474.5L213.4 468.5L213.3 460.5L212.0 455.5L209.1 449.5L206.1 445.5L201.5 441.2L196.5 437.9L189.5 435.0L183.5 433.8L176.8 433.5L175.7 432.5L175.5 427.5L176.2 423.5L178.5 423.0L194.5 423.2L201.5 424.2L209.3 426.5L216.5 430.3L222.7 435.5L228.5 442.8L232.5 450.9L234.7 459.5L234.8 469.5L233.5 476.4L229.8 485.5L224.5 493.0L218.5 498.6L210.2 503.5L200.0 506.5L190.5 507.6ZM150.5 469.1L147.5 467.5L146.9 465.5L147.5 462.9L150.5 461.3L150.5 469.1Z"/><path fill="#9b0000" fill-rule="evenodd" d="M191.5 503.5L184.5 503.7L180.5 503.0L178.5 501.4L177.5 498.4L177.9 497.5L187.5 496.3L193.5 494.3L199.5 491.1L204.5 487.0L209.0 481.5L212.1 475.5L213.3 471.5L213.9 463.5L212.9 457.5L210.0 450.5L207.3 446.5L201.5 440.8L195.5 437.0L190.5 434.9L177.5 432.5L178.2 429.5L179.5 427.9L183.5 426.7L192.5 426.9L201.5 428.4L208.5 430.9L214.7 434.5L220.5 439.9L225.2 446.5L228.2 453.5L229.8 461.5L229.8 469.5L228.0 477.5L224.5 485.0L219.6 491.5L213.8 496.5L207.5 500.0L200.5 502.2L191.5 503.5ZM150.5 468.5L149.1 467.5L148.1 465.5L148.5 463.5L150.5 462.0L150.5 468.5Z"/><path fill="#930000" fill-rule="evenodd" d="M198.5 494.5L196.5 494.9L195.3 494.5L200.5 491.2L204.5 487.7L208.3 483.5L211.3 478.5L214.0 470.5L214.3 462.5L212.1 453.5L208.0 446.5L201.5 439.9L194.8 435.5L195.5 435.3L200.4 436.5L204.8 438.5L209.2 441.5L212.5 444.7L215.5 448.7L217.9 453.5L219.5 458.5L220.2 463.5L220.1 468.5L219.1 473.5L217.2 478.5L214.5 483.2L211.5 486.8L207.5 490.2L203.5 492.6L198.5 494.5ZM150.5 467.0L149.5 465.5L150.5 463.4L150.5 467.0Z"/></g>
<path d="M69.5 397.9v132.6M77.4 397.9v132.6M85.3 397.9v132.6M93.2 397.9v132.6M101.1 397.9v132.6M108.9 397.9v132.6M116.8 397.9v132.6M124.7 397.9v132.6M132.6 397.9v132.6M140.5 397.9v132.6M148.4 397.9v132.6M156.3 397.9v132.6M164.2 397.9v132.6M172.1 397.9v132.6M180.0 397.9v132.6M187.8 397.9v132.6M195.7 397.9v132.6M203.6 397.9v132.6M211.5 397.9v132.6M219.4 397.9v132.6M227.3 397.9v132.6M235.2 397.9v132.6M243.1 397.9v132.6M251.0 397.9v132.6M258.9 397.9v132.6M266.8 397.9v132.6M274.6 397.9v132.6M282.5 397.9v132.6M290.4 397.9v132.6" stroke="#fff" stroke-opacity="0.07" stroke-width="1.3" fill="none"/>
<g stroke="#fff" fill="none" stroke-linecap="round" stroke-linejoin="round"><path d="M66.9 400.8h2.2" stroke-opacity="0.30" stroke-width="1.1"/><path d="M69.1 400.8h3.2" stroke-opacity="0.17" stroke-width="1.1"/><path d="M66.9 408.2h2.2" stroke-opacity="0.30" stroke-width="1.1"/><path d="M69.1 408.2h3.2" stroke-opacity="0.17" stroke-width="1.1"/><path d="M66.9 415.7h2.2" stroke-opacity="0.30" stroke-width="1.1"/><path d="M69.1 415.7h3.2" stroke-opacity="0.17" stroke-width="1.1"/><path d="M66.9 423.2h2.2" stroke-opacity="0.30" stroke-width="1.1"/><path d="M69.1 423.2h3.2" stroke-opacity="0.17" stroke-width="1.1"/><path d="M66.9 430.6h2.2" stroke-opacity="0.30" stroke-width="1.1"/><path d="M69.1 430.6h3.2" stroke-opacity="0.17" stroke-width="1.1"/><path d="M66.9 438.1h2.2" stroke-opacity="0.30" stroke-width="1.1"/><path d="M69.1 438.1h3.2" stroke-opacity="0.17" stroke-width="1.1"/><path d="M66.9 445.5h2.2" stroke-opacity="0.42" stroke-width="1.1"/><path d="M69.1 445.5h3.2" stroke-opacity="0.23" stroke-width="1.1"/><path d="M66.9 452.9h2.2" stroke-opacity="0.42" stroke-width="1.1"/><path d="M69.1 452.9h3.2" stroke-opacity="0.23" stroke-width="1.1"/><path d="M66.9 460.4h2.2" stroke-opacity="0.42" stroke-width="1.1"/><path d="M69.1 460.4h3.2" stroke-opacity="0.23" stroke-width="1.1"/><path d="M66.9 467.9h2.2" stroke-opacity="0.42" stroke-width="1.1"/><path d="M69.1 467.9h3.2" stroke-opacity="0.23" stroke-width="1.1"/><path d="M66.9 475.3h2.2" stroke-opacity="0.42" stroke-width="1.1"/><path d="M69.1 475.3h3.2" stroke-opacity="0.23" stroke-width="1.1"/><path d="M66.9 482.8h2.2" stroke-opacity="0.42" stroke-width="1.1"/><path d="M69.1 482.8h3.2" stroke-opacity="0.23" stroke-width="1.1"/><path d="M66.9 490.2h2.2" stroke-opacity="0.30" stroke-width="1.1"/><path d="M69.1 490.2h3.2" stroke-opacity="0.17" stroke-width="1.1"/><path d="M66.9 497.7h2.2" stroke-opacity="0.30" stroke-width="1.1"/><path d="M69.1 497.7h3.2" stroke-opacity="0.17" stroke-width="1.1"/><path d="M66.9 505.1h2.2" stroke-opacity="0.30" stroke-width="1.1"/><path d="M69.1 505.1h3.2" stroke-opacity="0.17" stroke-width="1.1"/><path d="M66.9 512.5h2.2" stroke-opacity="0.30" stroke-width="1.1"/><path d="M69.1 512.5h3.2" stroke-opacity="0.17" stroke-width="1.1"/><path d="M66.9 520.0h2.2" stroke-opacity="0.30" stroke-width="1.1"/><path d="M69.1 520.0h3.2" stroke-opacity="0.17" stroke-width="1.1"/><path d="M66.9 527.5h2.2" stroke-opacity="0.30" stroke-width="1.1"/><path d="M69.1 527.5h3.2" stroke-opacity="0.17" stroke-width="1.1"/><path d="M75.6 400.8L79.2 400.8M77.3 401.8L79.2 400.8L77.3 399.8" stroke-opacity="0.41" stroke-width="1.1"/><path d="M74.8 408.2h2.2" stroke-opacity="0.30" stroke-width="1.1"/><path d="M77.0 408.2h3.2" stroke-opacity="0.17" stroke-width="1.1"/><path d="M74.8 415.7h2.2" stroke-opacity="0.30" stroke-width="1.1"/><path d="M77.0 415.7h3.2" stroke-opacity="0.17" stroke-width="1.1"/><path d="M74.8 423.2h2.2" stroke-opacity="0.30" stroke-width="1.1"/><path d="M77.0 423.2h3.2" stroke-opacity="0.17" stroke-width="1.1"/><path d="M74.8 430.6h2.2" stroke-opacity="0.30" stroke-width="1.1"/><path d="M77.0 430.6h3.2" stroke-opacity="0.17" stroke-width="1.1"/><path d="M74.8 438.1h2.2" stroke-opacity="0.30" stroke-width="1.1"/><path d="M77.0 438.1h3.2" stroke-opacity="0.17" stroke-width="1.1"/><path d="M74.8 445.5h2.2" stroke-opacity="0.42" stroke-width="1.1"/><path d="M77.0 445.5h3.2" stroke-opacity="0.23" stroke-width="1.1"/><path d="M74.8 452.9h2.2" stroke-opacity="0.42" stroke-width="1.1"/><path d="M77.0 452.9h3.2" stroke-opacity="0.23" stroke-width="1.1"/><path d="M74.8 460.4h2.2" stroke-opacity="0.42" stroke-width="1.1"/><path d="M77.0 460.4h3.2" stroke-opacity="0.23" stroke-width="1.1"/><path d="M74.8 467.9h2.2" stroke-opacity="0.42" stroke-width="1.1"/><path d="M77.0 467.9h3.2" stroke-opacity="0.23" stroke-width="1.1"/><path d="M74.8 475.3h2.2" stroke-opacity="0.42" stroke-width="1.1"/><path d="M77.0 475.3h3.2" stroke-opacity="0.23" stroke-width="1.1"/><path d="M74.8 482.8h2.2" stroke-opacity="0.42" stroke-width="1.1"/><path d="M77.0 482.8h3.2" stroke-opacity="0.23" stroke-width="1.1"/><path d="M74.8 490.2h2.2" stroke-opacity="0.30" stroke-width="1.1"/><path d="M77.0 490.2h3.2" stroke-opacity="0.17" stroke-width="1.1"/><path d="M74.8 497.7h2.2" stroke-opacity="0.30" stroke-width="1.1"/><path d="M77.0 497.7h3.2" stroke-opacity="0.17" stroke-width="1.1"/><path d="M74.8 505.1h2.2" stroke-opacity="0.30" stroke-width="1.1"/><path d="M77.0 505.1h3.2" stroke-opacity="0.17" stroke-width="1.1"/><path d="M74.8 512.5h2.2" stroke-opacity="0.30" stroke-width="1.1"/><path d="M77.0 512.5h3.2" stroke-opacity="0.17" stroke-width="1.1"/><path d="M74.8 520.0h2.2" stroke-opacity="0.30" stroke-width="1.1"/><path d="M77.0 520.0h3.2" stroke-opacity="0.17" stroke-width="1.1"/><path d="M75.8 527.5L79.0 527.5M77.3 528.4L79.0 527.5L77.3 526.5" stroke-opacity="0.38" stroke-width="1.1"/><path d="M83.0 400.8L87.6 400.8M85.4 402.0L87.6 400.8L85.4 399.6" stroke-opacity="0.56" stroke-width="1.2"/><path d="M83.6 408.2L86.9 408.2M85.2 409.2L86.9 408.2L85.2 407.3" stroke-opacity="0.39" stroke-width="1.1"/><path d="M82.7 415.7h2.2" stroke-opacity="0.30" stroke-width="1.1"/><path d="M84.9 415.7h3.2" stroke-opacity="0.17" stroke-width="1.1"/><path d="M82.7 423.2h2.2" stroke-opacity="0.30" stroke-width="1.1"/><path d="M84.9 423.2h3.2" stroke-opacity="0.17" stroke-width="1.1"/><path d="M82.7 430.6h2.2" stroke-opacity="0.30" stroke-width="1.1"/><path d="M84.9 430.6h3.2" stroke-opacity="0.17" stroke-width="1.1"/><path d="M82.7 438.1h2.2" stroke-opacity="0.30" stroke-width="1.1"/><path d="M84.9 438.1h3.2" stroke-opacity="0.17" stroke-width="1.1"/><path d="M82.7 445.5h2.2" stroke-opacity="0.42" stroke-width="1.1"/><path d="M84.9 445.5h3.2" stroke-opacity="0.23" stroke-width="1.1"/><path d="M82.7 452.9h2.2" stroke-opacity="0.42" stroke-width="1.1"/><path d="M84.9 452.9h3.2" stroke-opacity="0.23" stroke-width="1.1"/><path d="M82.7 460.4h2.2" stroke-opacity="0.42" stroke-width="1.1"/><path d="M84.9 460.4h3.2" stroke-opacity="0.23" stroke-width="1.1"/><path d="M82.7 467.9h2.2" stroke-opacity="0.42" stroke-width="1.1"/><path d="M84.9 467.9h3.2" stroke-opacity="0.23" stroke-width="1.1"/><path d="M82.7 475.3h2.2" stroke-opacity="0.42" stroke-width="1.1"/><path d="M84.9 475.3h3.2" stroke-opacity="0.23" stroke-width="1.1"/><path d="M82.7 482.8h2.2" stroke-opacity="0.42" stroke-width="1.1"/><path d="M84.9 482.8h3.2" stroke-opacity="0.23" stroke-width="1.1"/><path d="M82.7 490.2h2.2" stroke-opacity="0.30" stroke-width="1.1"/><path d="M84.9 490.2h3.2" stroke-opacity="0.17" stroke-width="1.1"/><path d="M82.7 497.7h2.2" stroke-opacity="0.30" stroke-width="1.1"/><path d="M84.9 497.7h3.2" stroke-opacity="0.17" stroke-width="1.1"/><path d="M82.7 505.1h2.2" stroke-opacity="0.30" stroke-width="1.1"/><path d="M84.9 505.1h3.2" stroke-opacity="0.17" stroke-width="1.1"/><path d="M82.7 512.5h2.2" stroke-opacity="0.30" stroke-width="1.1"/><path d="M84.9 512.5h3.2" stroke-opacity="0.17" stroke-width="1.1"/><path d="M82.7 520.0h2.2" stroke-opacity="0.30" stroke-width="1.1"/><path d="M84.9 520.0h3.2" stroke-opacity="0.17" stroke-width="1.1"/><path d="M83.1 527.5L87.5 527.5M85.3 528.6L87.5 527.5L85.3 526.3" stroke-opacity="0.53" stroke-width="1.2"/><path d="M90.3 400.8L96.0 400.8M93.4 402.2L96.0 400.8L93.4 399.4" stroke-opacity="0.69" stroke-width="1.3"/><path d="M90.8 408.2L95.6 408.2M93.3 409.5L95.6 408.2L93.3 407.0" stroke-opacity="0.58" stroke-width="1.2"/><path d="M90.6 415.7h2.2" stroke-opacity="0.30" stroke-width="1.1"/><path d="M92.8 415.7h3.2" stroke-opacity="0.17" stroke-width="1.1"/><path d="M90.6 423.2h2.2" stroke-opacity="0.30" stroke-width="1.1"/><path d="M92.8 423.2h3.2" stroke-opacity="0.17" stroke-width="1.1"/><path d="M90.6 430.6h2.2" stroke-opacity="0.30" stroke-width="1.1"/><path d="M92.8 430.6h3.2" stroke-opacity="0.17" stroke-width="1.1"/><path d="M90.6 438.1h2.2" stroke-opacity="0.30" stroke-width="1.1"/><path d="M92.8 438.1h3.2" stroke-opacity="0.17" stroke-width="1.1"/><path d="M90.6 445.5h2.2" stroke-opacity="0.42" stroke-width="1.1"/><path d="M92.8 445.5h3.2" stroke-opacity="0.23" stroke-width="1.1"/><path d="M90.6 452.9h2.2" stroke-opacity="0.42" stroke-width="1.1"/><path d="M92.8 452.9h3.2" stroke-opacity="0.23" stroke-width="1.1"/><path d="M90.6 460.4h2.2" stroke-opacity="0.42" stroke-width="1.1"/><path d="M92.8 460.4h3.2" stroke-opacity="0.23" stroke-width="1.1"/><path d="M90.6 467.9h2.2" stroke-opacity="0.42" stroke-width="1.1"/><path d="M92.8 467.9h3.2" stroke-opacity="0.23" stroke-width="1.1"/><path d="M90.6 475.3h2.2" stroke-opacity="0.42" stroke-width="1.1"/><path d="M92.8 475.3h3.2" stroke-opacity="0.23" stroke-width="1.1"/><path d="M90.6 482.8h2.2" stroke-opacity="0.42" stroke-width="1.1"/><path d="M92.8 482.8h3.2" stroke-opacity="0.23" stroke-width="1.1"/><path d="M90.6 490.2h2.2" stroke-opacity="0.30" stroke-width="1.1"/><path d="M92.8 490.2h3.2" stroke-opacity="0.17" stroke-width="1.1"/><path d="M90.6 497.7h2.2" stroke-opacity="0.30" stroke-width="1.1"/><path d="M92.8 497.7h3.2" stroke-opacity="0.17" stroke-width="1.1"/><path d="M90.6 505.1h2.2" stroke-opacity="0.30" stroke-width="1.1"/><path d="M92.8 505.1h3.2" stroke-opacity="0.17" stroke-width="1.1"/><path d="M90.6 512.5h2.2" stroke-opacity="0.30" stroke-width="1.1"/><path d="M92.8 512.5h3.2" stroke-opacity="0.17" stroke-width="1.1"/><path d="M91.0 520.0L95.4 520.0M93.2 521.2L95.4 520.0L93.2 518.8" stroke-opacity="0.53" stroke-width="1.2"/><path d="M90.4 527.5L96.0 527.5M93.4 528.9L96.0 527.5L93.4 526.0" stroke-opacity="0.68" stroke-width="1.3"/><path d="M97.7 400.8L104.4 400.8M101.8 402.2L104.4 400.8L101.8 399.4" stroke-opacity="0.81" stroke-width="1.4"/><path d="M98.0 408.2L104.1 408.2M101.5 409.7L104.1 408.2L101.5 406.8" stroke-opacity="0.74" stroke-width="1.4"/><path d="M99.1 415.7L103.0 415.7M101.0 416.8L103.0 415.7L101.0 414.6" stroke-opacity="0.47" stroke-width="1.2"/><path d="M98.5 423.2h2.2" stroke-opacity="0.30" stroke-width="1.1"/><path d="M100.7 423.2h3.2" stroke-opacity="0.17" stroke-width="1.1"/><path d="M98.5 430.6h2.2" stroke-opacity="0.30" stroke-width="1.1"/><path d="M100.7 430.6h3.2" stroke-opacity="0.17" stroke-width="1.1"/><path d="M98.5 438.1h2.2" stroke-opacity="0.30" stroke-width="1.1"/><path d="M100.7 438.1h3.2" stroke-opacity="0.17" stroke-width="1.1"/><path d="M98.5 445.5h2.2" stroke-opacity="0.42" stroke-width="1.1"/><path d="M100.7 445.5h3.2" stroke-opacity="0.23" stroke-width="1.1"/><path d="M98.5 452.9h2.2" stroke-opacity="0.42" stroke-width="1.1"/><path d="M100.7 452.9h3.2" stroke-opacity="0.23" stroke-width="1.1"/><path d="M98.5 460.4h2.2" stroke-opacity="0.42" stroke-width="1.1"/><path d="M100.7 460.4h3.2" stroke-opacity="0.23" stroke-width="1.1"/><path d="M98.5 467.9h2.2" stroke-opacity="0.42" stroke-width="1.1"/><path d="M100.7 467.9h3.2" stroke-opacity="0.23" stroke-width="1.1"/><path d="M98.5 475.3h2.2" stroke-opacity="0.42" stroke-width="1.1"/><path d="M100.7 475.3h3.2" stroke-opacity="0.23" stroke-width="1.1"/><path d="M98.5 482.8h2.2" stroke-opacity="0.42" stroke-width="1.1"/><path d="M100.7 482.8h3.2" stroke-opacity="0.23" stroke-width="1.1"/><path d="M98.5 490.2h2.2" stroke-opacity="0.30" stroke-width="1.1"/><path d="M100.7 490.2h3.2" stroke-opacity="0.17" stroke-width="1.1"/><path d="M98.5 497.7h2.2" stroke-opacity="0.30" stroke-width="1.1"/><path d="M100.7 497.7h3.2" stroke-opacity="0.17" stroke-width="1.1"/><path d="M98.5 505.1h2.2" stroke-opacity="0.30" stroke-width="1.1"/><path d="M100.7 505.1h3.2" stroke-opacity="0.17" stroke-width="1.1"/><path d="M98.5 512.5h2.2" stroke-opacity="0.30" stroke-width="1.1"/><path d="M100.7 512.5h3.2" stroke-opacity="0.17" stroke-width="1.1"/><path d="M98.2 520.0L104.0 520.0M101.4 521.4L104.0 520.0L101.4 518.6" stroke-opacity="0.70" stroke-width="1.3"/><path d="M97.8 527.5L104.3 527.5M101.7 528.9L104.3 527.5L101.7 526.0" stroke-opacity="0.80" stroke-width="1.4"/><path d="M105.5 400.8L112.4 400.8M109.8 402.2L112.4 400.8L109.8 399.4" stroke-opacity="0.84" stroke-width="1.4"/><path d="M105.6 408.2L112.3 408.2M109.7 409.7L112.3 408.2L109.7 406.8" stroke-opacity="0.80" stroke-width="1.4"/><path d="M106.4 415.7L111.5 415.7M109.1 417.0L111.5 415.7L109.1 414.4" stroke-opacity="0.62" stroke-width="1.3"/><path d="M106.3 423.2h2.2" stroke-opacity="0.30" stroke-width="1.1"/><path d="M108.5 423.2h3.2" stroke-opacity="0.17" stroke-width="1.1"/><path d="M106.3 430.6h2.2" stroke-opacity="0.30" stroke-width="1.1"/><path d="M108.5 430.6h3.2" stroke-opacity="0.17" stroke-width="1.1"/><path d="M106.3 438.1h2.2" stroke-opacity="0.30" stroke-width="1.1"/><path d="M108.5 438.1h3.2" stroke-opacity="0.17" stroke-width="1.1"/><path d="M106.3 445.5h2.2" stroke-opacity="0.42" stroke-width="1.1"/><path d="M108.5 445.5h3.2" stroke-opacity="0.23" stroke-width="1.1"/><path d="M106.3 452.9h2.2" stroke-opacity="0.42" stroke-width="1.1"/><path d="M108.5 452.9h3.2" stroke-opacity="0.23" stroke-width="1.1"/><path d="M106.3 460.4h2.2" stroke-opacity="0.42" stroke-width="1.1"/><path d="M108.5 460.4h3.2" stroke-opacity="0.23" stroke-width="1.1"/><path d="M106.3 467.9h2.2" stroke-opacity="0.42" stroke-width="1.1"/><path d="M108.5 467.9h3.2" stroke-opacity="0.23" stroke-width="1.1"/><path d="M106.3 475.3h2.2" stroke-opacity="0.42" stroke-width="1.1"/><path d="M108.5 475.3h3.2" stroke-opacity="0.23" stroke-width="1.1"/><path d="M106.3 482.8h2.2" stroke-opacity="0.42" stroke-width="1.1"/><path d="M108.5 482.8h3.2" stroke-opacity="0.23" stroke-width="1.1"/><path d="M106.3 490.2h2.2" stroke-opacity="0.30" stroke-width="1.1"/><path d="M108.5 490.2h3.2" stroke-opacity="0.17" stroke-width="1.1"/><path d="M106.3 497.7h2.2" stroke-opacity="0.30" stroke-width="1.1"/><path d="M108.5 497.7h3.2" stroke-opacity="0.17" stroke-width="1.1"/><path d="M106.3 505.1h2.2" stroke-opacity="0.30" stroke-width="1.1"/><path d="M108.5 505.1h3.2" stroke-opacity="0.17" stroke-width="1.1"/><path d="M106.8 512.5L111.1 512.5M109.0 513.7L111.1 512.5L109.0 511.4" stroke-opacity="0.50" stroke-width="1.2"/><path d="M105.7 520.0L112.2 520.0M109.6 521.4L112.2 520.0L109.6 518.6" stroke-opacity="0.79" stroke-width="1.4"/><path d="M105.5 527.5L112.4 527.5M109.8 528.9L112.4 527.5L109.8 526.0" stroke-opacity="0.84" stroke-width="1.4"/><path d="M113.2 400.8L120.5 400.8M117.9 402.2L120.5 400.8L117.9 399.4" stroke-opacity="0.88" stroke-width="1.5"/><path d="M113.3 408.2L120.4 408.2M117.8 409.7L120.4 408.2L117.8 406.8" stroke-opacity="0.86" stroke-width="1.5"/><path d="M113.7 415.7L120.0 415.7M117.4 417.1L120.0 415.7L117.4 414.3" stroke-opacity="0.76" stroke-width="1.4"/><path d="M115.2 423.2L118.5 423.2M116.7 424.1L118.5 423.2L116.7 422.2" stroke-opacity="0.39" stroke-width="1.1"/><path d="M114.2 430.6h2.2" stroke-opacity="0.30" stroke-width="1.1"/><path d="M116.4 430.6h3.2" stroke-opacity="0.17" stroke-width="1.1"/><path d="M114.2 438.1h2.2" stroke-opacity="0.30" stroke-width="1.1"/><path d="M116.4 438.1h3.2" stroke-opacity="0.17" stroke-width="1.1"/><path d="M114.2 445.5h2.2" stroke-opacity="0.42" stroke-width="1.1"/><path d="M116.4 445.5h3.2" stroke-opacity="0.23" stroke-width="1.1"/><path d="M114.2 452.9h2.2" stroke-opacity="0.42" stroke-width="1.1"/><path d="M116.4 452.9h3.2" stroke-opacity="0.23" stroke-width="1.1"/><path d="M114.2 460.4h2.2" stroke-opacity="0.42" stroke-width="1.1"/><path d="M116.4 460.4h3.2" stroke-opacity="0.23" stroke-width="1.1"/><path d="M114.2 467.9h2.2" stroke-opacity="0.42" stroke-width="1.1"/><path d="M116.4 467.9h3.2" stroke-opacity="0.23" stroke-width="1.1"/><path d="M114.2 475.3h2.2" stroke-opacity="0.42" stroke-width="1.1"/><path d="M116.4 475.3h3.2" stroke-opacity="0.23" stroke-width="1.1"/><path d="M114.2 482.8h2.2" stroke-opacity="0.42" stroke-width="1.1"/><path d="M116.4 482.8h3.2" stroke-opacity="0.23" stroke-width="1.1"/><path d="M114.2 490.2h2.2" stroke-opacity="0.30" stroke-width="1.1"/><path d="M116.4 490.2h3.2" stroke-opacity="0.17" stroke-width="1.1"/><path d="M114.2 497.7h2.2" stroke-opacity="0.30" stroke-width="1.1"/><path d="M116.4 497.7h3.2" stroke-opacity="0.17" stroke-width="1.1"/><path d="M114.2 505.1h2.2" stroke-opacity="0.30" stroke-width="1.1"/><path d="M116.4 505.1h3.2" stroke-opacity="0.17" stroke-width="1.1"/><path d="M114.0 512.5L119.6 512.5M117.1 514.0L119.6 512.5L117.1 511.1" stroke-opacity="0.68" stroke-width="1.3"/><path d="M113.3 520.0L120.3 520.0M117.7 521.4L120.3 520.0L117.7 518.6" stroke-opacity="0.85" stroke-width="1.5"/><path d="M113.2 527.5L120.4 527.5M117.8 528.9L120.4 527.5L117.8 526.0" stroke-opacity="0.88" stroke-width="1.5"/><path d="M121.0 400.8L128.5 400.8M125.9 402.2L128.5 400.8L125.9 399.4" stroke-opacity="0.92" stroke-width="1.5"/><path d="M121.0 408.2L128.5 408.2M125.9 409.7L128.5 408.2L125.9 406.8" stroke-opacity="0.91" stroke-width="1.5"/><path d="M121.2 415.7L128.3 415.7M125.7 417.1L128.3 415.7L125.7 414.3" stroke-opacity="0.86" stroke-width="1.5"/><path d="M122.3 423.2L127.1 423.2M124.9 424.4L127.1 423.2L124.9 421.9" stroke-opacity="0.58" stroke-width="1.2"/><path d="M122.1 430.6h2.2" stroke-opacity="0.30" stroke-width="1.1"/><path d="M124.3 430.6h3.2" stroke-opacity="0.17" stroke-width="1.1"/><path d="M122.1 438.1h2.2" stroke-opacity="0.30" stroke-width="1.1"/><path d="M124.3 438.1h3.2" stroke-opacity="0.17" stroke-width="1.1"/><path d="M122.1 445.5h2.2" stroke-opacity="0.42" stroke-width="1.1"/><path d="M124.3 445.5h3.2" stroke-opacity="0.23" stroke-width="1.1"/><path d="M122.1 452.9h2.2" stroke-opacity="0.42" stroke-width="1.1"/><path d="M124.3 452.9h3.2" stroke-opacity="0.23" stroke-width="1.1"/><path d="M122.1 460.4h2.2" stroke-opacity="0.42" stroke-width="1.1"/><path d="M124.3 460.4h3.2" stroke-opacity="0.23" stroke-width="1.1"/><path d="M122.1 467.9h2.2" stroke-opacity="0.42" stroke-width="1.1"/><path d="M124.3 467.9h3.2" stroke-opacity="0.23" stroke-width="1.1"/><path d="M122.1 475.3h2.2" stroke-opacity="0.42" stroke-width="1.1"/><path d="M124.3 475.3h3.2" stroke-opacity="0.23" stroke-width="1.1"/><path d="M122.1 482.8h2.2" stroke-opacity="0.42" stroke-width="1.1"/><path d="M124.3 482.8h3.2" stroke-opacity="0.23" stroke-width="1.1"/><path d="M122.1 490.2h2.2" stroke-opacity="0.30" stroke-width="1.1"/><path d="M124.3 490.2h3.2" stroke-opacity="0.17" stroke-width="1.1"/><path d="M122.1 497.7h2.2" stroke-opacity="0.30" stroke-width="1.1"/><path d="M124.3 497.7h3.2" stroke-opacity="0.17" stroke-width="1.1"/><path d="M122.6 505.1L126.8 505.1M124.8 506.2L126.8 505.1L124.8 504.0" stroke-opacity="0.50" stroke-width="1.2"/><path d="M121.4 512.5L128.1 512.5M125.5 514.0L128.1 512.5L125.5 511.1" stroke-opacity="0.81" stroke-width="1.4"/><path d="M121.0 520.0L128.4 520.0M125.8 521.4L128.4 520.0L125.8 518.6" stroke-opacity="0.90" stroke-width="1.5"/><path d="M121.0 527.5L128.5 527.5M125.9 528.9L128.5 527.5L125.9 526.0" stroke-opacity="0.92" stroke-width="1.5"/><path d="M128.7 400.8L136.5 400.8M133.9 402.2L136.5 400.8L133.9 399.4" stroke-opacity="0.92" stroke-width="1.5"/><path d="M128.7 408.2L136.5 408.2M133.9 409.7L136.5 408.2L133.9 406.8" stroke-opacity="0.92" stroke-width="1.5"/><path d="M128.8 415.7L136.4 415.7M133.8 417.1L136.4 415.7L133.8 414.3" stroke-opacity="0.92" stroke-width="1.5"/><path d="M129.5 423.2L135.7 423.2M133.1 424.6L135.7 423.2L133.1 421.7" stroke-opacity="0.75" stroke-width="1.4"/><path d="M130.9 430.6L134.3 430.6M132.5 431.6L134.3 430.6L132.5 429.6" stroke-opacity="0.40" stroke-width="1.1"/><path d="M130.0 438.1h2.2" stroke-opacity="0.30" stroke-width="1.1"/><path d="M132.2 438.1h3.2" stroke-opacity="0.17" stroke-width="1.1"/><path d="M130.0 445.5h2.2" stroke-opacity="0.42" stroke-width="1.1"/><path d="M132.2 445.5h3.2" stroke-opacity="0.23" stroke-width="1.1"/><path d="M130.0 452.9h2.2" stroke-opacity="0.42" stroke-width="1.1"/><path d="M132.2 452.9h3.2" stroke-opacity="0.23" stroke-width="1.1"/><path d="M130.0 460.4h2.2" stroke-opacity="0.42" stroke-width="1.1"/><path d="M132.2 460.4h3.2" stroke-opacity="0.23" stroke-width="1.1"/><path d="M130.0 467.9h2.2" stroke-opacity="0.42" stroke-width="1.1"/><path d="M132.2 467.9h3.2" stroke-opacity="0.23" stroke-width="1.1"/><path d="M130.0 475.3h2.2" stroke-opacity="0.42" stroke-width="1.1"/><path d="M132.2 475.3h3.2" stroke-opacity="0.23" stroke-width="1.1"/><path d="M130.0 482.8h2.2" stroke-opacity="0.42" stroke-width="1.1"/><path d="M132.2 482.8h3.2" stroke-opacity="0.23" stroke-width="1.1"/><path d="M130.0 490.2h2.2" stroke-opacity="0.30" stroke-width="1.1"/><path d="M132.2 490.2h3.2" stroke-opacity="0.17" stroke-width="1.1"/><path d="M130.0 497.7h2.2" stroke-opacity="0.30" stroke-width="1.1"/><path d="M132.2 497.7h3.2" stroke-opacity="0.17" stroke-width="1.1"/><path d="M129.8 505.1L135.5 505.1M132.9 506.5L135.5 505.1L132.9 503.7" stroke-opacity="0.69" stroke-width="1.3"/><path d="M128.9 512.5L136.3 512.5M133.7 514.0L136.3 512.5L133.7 511.1" stroke-opacity="0.90" stroke-width="1.5"/><path d="M128.7 520.0L136.5 520.0M133.9 521.4L136.5 520.0L133.9 518.6" stroke-opacity="0.92" stroke-width="1.5"/><path d="M128.7 527.5L136.5 527.5M133.9 528.9L136.5 527.5L133.9 526.0" stroke-opacity="0.92" stroke-width="1.5"/><path d="M136.4 400.8L144.6 400.8M142.0 402.2L144.6 400.8L142.0 399.4" stroke-opacity="0.92" stroke-width="1.5"/><path d="M136.5 408.2L144.6 408.2M142.0 409.7L144.6 408.2L142.0 406.8" stroke-opacity="0.92" stroke-width="1.5"/><path d="M136.5 415.7L144.5 415.7M141.9 417.1L144.5 415.7L141.9 414.3" stroke-opacity="0.92" stroke-width="1.5"/><path d="M136.9 423.2L144.1 423.2M141.5 424.6L144.1 423.2L141.5 421.7" stroke-opacity="0.88" stroke-width="1.5"/><path d="M138.1 430.6L142.9 430.6M140.6 431.8L142.9 430.6L140.6 429.4" stroke-opacity="0.58" stroke-width="1.2"/><path d="M137.9 438.1h2.2" stroke-opacity="0.30" stroke-width="1.1"/><path d="M140.1 438.1h3.2" stroke-opacity="0.17" stroke-width="1.1"/><path d="M137.9 445.5h2.2" stroke-opacity="0.42" stroke-width="1.1"/><path d="M140.1 445.5h3.2" stroke-opacity="0.23" stroke-width="1.1"/><path d="M137.9 452.9h2.2" stroke-opacity="0.42" stroke-width="1.1"/><path d="M140.1 452.9h3.2" stroke-opacity="0.23" stroke-width="1.1"/><path d="M137.9 460.4h2.2" stroke-opacity="0.42" stroke-width="1.1"/><path d="M140.1 460.4h3.2" stroke-opacity="0.23" stroke-width="1.1"/><path d="M137.9 467.9h2.2" stroke-opacity="0.42" stroke-width="1.1"/><path d="M140.1 467.9h3.2" stroke-opacity="0.23" stroke-width="1.1"/><path d="M137.9 475.3h2.2" stroke-opacity="0.42" stroke-width="1.1"/><path d="M140.1 475.3h3.2" stroke-opacity="0.23" stroke-width="1.1"/><path d="M137.9 482.8h2.2" stroke-opacity="0.42" stroke-width="1.1"/><path d="M140.1 482.8h3.2" stroke-opacity="0.23" stroke-width="1.1"/><path d="M137.9 490.2h2.2" stroke-opacity="0.30" stroke-width="1.1"/><path d="M140.1 490.2h3.2" stroke-opacity="0.17" stroke-width="1.1"/><path d="M138.6 497.7L142.4 497.7M140.5 498.7L142.4 497.7L140.5 496.6" stroke-opacity="0.45" stroke-width="1.1"/><path d="M137.1 505.1L144.0 505.1M141.4 506.5L144.0 505.1L141.4 503.7" stroke-opacity="0.84" stroke-width="1.4"/><path d="M136.6 512.5L144.5 512.5M141.9 514.0L144.5 512.5L141.9 511.1" stroke-opacity="0.92" stroke-width="1.5"/><path d="M136.5 520.0L144.6 520.0M142.0 521.4L144.6 520.0L142.0 518.6" stroke-opacity="0.92" stroke-width="1.5"/><path d="M136.4 527.5L144.6 527.5M142.0 528.9L144.6 527.5L142.0 526.0" stroke-opacity="0.92" stroke-width="1.5"/><path d="M144.3 400.8L152.5 400.8M149.9 402.2L152.5 400.8L149.9 399.4" stroke-opacity="0.92" stroke-width="1.5"/><path d="M144.3 408.2L152.5 408.2M149.9 409.7L152.5 408.2L149.9 406.8" stroke-opacity="0.92" stroke-width="1.5"/><path d="M144.3 415.7L152.5 415.7M149.9 417.1L152.5 415.7L149.9 414.3" stroke-opacity="0.92" stroke-width="1.5"/><path d="M144.7 423.2L152.1 423.2M149.5 424.6L152.1 423.2L149.5 421.7" stroke-opacity="0.91" stroke-width="1.5"/><path d="M145.8 430.6L151.0 430.6M148.6 431.9L151.0 430.6L148.6 429.3" stroke-opacity="0.64" stroke-width="1.3"/><path d="M145.8 438.1h2.2" stroke-opacity="0.30" stroke-width="1.1"/><path d="M148.0 438.1h3.2" stroke-opacity="0.17" stroke-width="1.1"/><path d="M145.8 445.5h2.2" stroke-opacity="0.42" stroke-width="1.1"/><path d="M148.0 445.5h3.2" stroke-opacity="0.23" stroke-width="1.1"/><path d="M145.8 452.9h2.2" stroke-opacity="0.42" stroke-width="1.1"/><path d="M148.0 452.9h3.2" stroke-opacity="0.23" stroke-width="1.1"/><path d="M145.8 460.4h2.2" stroke-opacity="0.42" stroke-width="1.1"/><path d="M148.0 460.4h3.2" stroke-opacity="0.23" stroke-width="1.1"/><path d="M145.8 467.9h2.2" stroke-opacity="0.42" stroke-width="1.1"/><path d="M148.0 467.9h3.2" stroke-opacity="0.23" stroke-width="1.1"/><path d="M145.8 475.3h2.2" stroke-opacity="0.42" stroke-width="1.1"/><path d="M148.0 475.3h3.2" stroke-opacity="0.23" stroke-width="1.1"/><path d="M145.8 482.8h2.2" stroke-opacity="0.42" stroke-width="1.1"/><path d="M148.0 482.8h3.2" stroke-opacity="0.23" stroke-width="1.1"/><path d="M145.8 490.2h2.2" stroke-opacity="0.30" stroke-width="1.1"/><path d="M148.0 490.2h3.2" stroke-opacity="0.17" stroke-width="1.1"/><path d="M146.3 497.7L150.5 497.7M148.4 498.8L150.5 497.7L148.4 496.5" stroke-opacity="0.51" stroke-width="1.2"/><path d="M144.8 505.1L152.0 505.1M149.4 506.5L152.0 505.1L149.4 503.7" stroke-opacity="0.87" stroke-width="1.5"/><path d="M144.4 512.5L152.4 512.5M149.8 514.0L152.4 512.5L149.8 511.1" stroke-opacity="0.92" stroke-width="1.5"/><path d="M144.3 520.0L152.5 520.0M149.9 521.4L152.5 520.0L149.9 518.6" stroke-opacity="0.92" stroke-width="1.5"/><path d="M144.3 527.5L152.5 527.5M149.9 528.9L152.5 527.5L149.9 526.0" stroke-opacity="0.92" stroke-width="1.5"/><path d="M152.1 400.8L160.5 400.8M157.9 402.2L160.5 400.8L157.9 399.4" stroke-opacity="0.92" stroke-width="1.5"/><path d="M152.1 408.2L160.5 408.2M157.9 409.7L160.5 408.2L157.9 406.8" stroke-opacity="0.92" stroke-width="1.5"/><path d="M152.1 415.7L160.5 415.7M157.9 417.1L160.5 415.7L157.9 414.3" stroke-opacity="0.92" stroke-width="1.5"/><path d="M152.4 423.2L160.2 423.2M157.6 424.6L160.2 423.2L157.6 421.7" stroke-opacity="0.92" stroke-width="1.5"/><path d="M153.4 430.6L159.2 430.6M156.6 432.0L159.2 430.6L156.6 429.2" stroke-opacity="0.70" stroke-width="1.3"/><path d="M153.7 438.1h2.2" stroke-opacity="0.30" stroke-width="1.1"/><path d="M155.9 438.1h3.2" stroke-opacity="0.17" stroke-width="1.1"/><path d="M153.7 445.5h2.2" stroke-opacity="0.42" stroke-width="1.1"/><path d="M155.9 445.5h3.2" stroke-opacity="0.23" stroke-width="1.1"/><path d="M153.7 490.2h2.2" stroke-opacity="0.30" stroke-width="1.1"/><path d="M155.9 490.2h3.2" stroke-opacity="0.17" stroke-width="1.1"/><path d="M153.9 497.7L158.7 497.7M156.4 498.9L158.7 497.7L156.4 496.4" stroke-opacity="0.58" stroke-width="1.2"/><path d="M152.5 505.1L160.1 505.1M157.5 506.5L160.1 505.1L157.5 503.7" stroke-opacity="0.92" stroke-width="1.5"/><path d="M152.1 512.5L160.4 512.5M157.8 514.0L160.4 512.5L157.8 511.1" stroke-opacity="0.92" stroke-width="1.5"/><path d="M152.1 520.0L160.5 520.0M157.9 521.4L160.5 520.0L157.9 518.6" stroke-opacity="0.92" stroke-width="1.5"/><path d="M152.1 527.5L160.5 527.5M157.9 528.9L160.5 527.5L157.9 526.0" stroke-opacity="0.92" stroke-width="1.5"/><path d="M162.2 400.7L166.2 400.9M164.2 401.9L166.2 400.9L164.2 399.7" stroke-opacity="0.22" stroke-width="0.9"/><path d="M160.4 406.9L167.9 409.6M165.0 410.1L167.9 409.6L166.0 407.4" stroke-opacity="0.45" stroke-width="1.0"/><path d="M157.5 413.6L170.9 417.8M167.9 418.4L170.9 417.8L168.8 415.7" stroke-opacity="0.90" stroke-width="1.4"/><path d="M157.4 421.4L170.9 424.9M168.1 425.7L170.9 424.9L168.8 422.9" stroke-opacity="0.90" stroke-width="1.4"/><path d="M157.3 429.3L171.1 431.9M168.2 432.8L171.1 431.9L168.8 430.0" stroke-opacity="0.90" stroke-width="1.4"/><path d="M157.2 437.4L171.2 438.7M168.4 439.9L171.2 438.7L168.7 437.0" stroke-opacity="0.90" stroke-width="1.4"/><path d="M157.3 498.8L171.1 496.5M168.8 498.3L171.1 496.5L168.3 495.5" stroke-opacity="0.90" stroke-width="1.4"/><path d="M157.4 506.8L171.0 503.4M168.8 505.4L171.0 503.4L168.1 502.7" stroke-opacity="0.90" stroke-width="1.4"/><path d="M157.5 514.6L170.9 510.5M168.8 512.6L170.9 510.5L168.0 509.9" stroke-opacity="0.90" stroke-width="1.4"/><path d="M160.4 521.3L168.0 518.7M166.0 520.9L168.0 518.7L165.0 518.2" stroke-opacity="0.45" stroke-width="1.0"/><path d="M162.2 527.5L166.2 527.4M164.2 528.5L166.2 527.4L164.2 526.4" stroke-opacity="0.22" stroke-width="0.9"/><path d="M170.1 400.5L174.0 401.1M171.9 401.9L174.0 401.1L172.2 399.7" stroke-opacity="0.22" stroke-width="0.9"/><path d="M168.5 406.4L175.6 410.1M172.7 410.2L175.6 410.1L174.0 407.6" stroke-opacity="0.45" stroke-width="1.0"/><path d="M165.8 412.6L178.3 418.8M175.4 418.9L178.3 418.8L176.6 416.4" stroke-opacity="0.90" stroke-width="1.4"/><path d="M165.7 420.2L178.4 426.1M175.5 426.3L178.4 426.1L176.7 423.7" stroke-opacity="0.90" stroke-width="1.4"/><path d="M165.6 427.9L178.5 433.3M175.6 433.6L178.5 433.3L176.7 431.0" stroke-opacity="0.90" stroke-width="1.4"/><path d="M165.6 500.2L178.6 495.1M176.7 497.3L178.6 495.1L175.6 494.7" stroke-opacity="0.90" stroke-width="1.4"/><path d="M165.7 508.0L178.5 502.2M176.7 504.6L178.5 502.2L175.5 502.0" stroke-opacity="0.90" stroke-width="1.4"/><path d="M165.8 515.6L178.4 509.5M176.7 511.9L178.4 509.5L175.4 509.3" stroke-opacity="0.90" stroke-width="1.4"/><path d="M168.5 521.8L175.6 518.2M174.0 520.6L175.6 518.2L172.7 518.1" stroke-opacity="0.45" stroke-width="1.0"/><path d="M170.1 527.7L174.1 527.2M172.2 528.5L174.1 527.2L171.9 526.4" stroke-opacity="0.22" stroke-width="0.9"/><path d="M178.0 400.3L181.9 401.3M179.7 401.9L181.9 401.3L180.2 399.7" stroke-opacity="0.22" stroke-width="0.9"/><path d="M176.7 405.9L183.2 410.6M180.3 410.2L183.2 410.6L181.9 407.9" stroke-opacity="0.45" stroke-width="1.0"/><path d="M174.2 411.7L185.7 419.7M182.7 419.4L185.7 419.7L184.4 417.1" stroke-opacity="0.90" stroke-width="1.4"/><path d="M174.3 419.1L185.7 427.2M182.7 426.9L185.7 427.2L184.4 424.5" stroke-opacity="0.90" stroke-width="1.4"/><path d="M174.3 426.5L185.7 434.7M182.7 434.3L185.7 434.7L184.4 432.0" stroke-opacity="0.90" stroke-width="1.4"/><path d="M174.3 501.7L185.7 493.6M184.4 496.3L185.7 493.6L182.7 493.9" stroke-opacity="0.90" stroke-width="1.4"/><path d="M174.3 509.2L185.7 501.0M184.4 503.7L185.7 501.0L182.7 501.4" stroke-opacity="0.90" stroke-width="1.4"/><path d="M174.2 516.6L185.7 508.5M184.4 511.2L185.7 508.5L182.7 508.8" stroke-opacity="0.90" stroke-width="1.4"/><path d="M176.7 522.3L183.2 517.7M181.9 520.4L183.2 517.7L180.3 518.0" stroke-opacity="0.45" stroke-width="1.0"/><path d="M178.0 528.0L181.9 526.9M180.2 528.5L181.9 526.9L179.7 526.4" stroke-opacity="0.22" stroke-width="0.9"/><path d="M186.0 400.0L189.7 401.6M187.4 401.8L189.7 401.6L188.3 399.8" stroke-opacity="0.22" stroke-width="0.9"/><path d="M184.9 405.5L190.8 411.0M187.9 410.3L190.8 411.0L189.8 408.2" stroke-opacity="0.45" stroke-width="1.0"/><path d="M182.8 410.8L192.9 420.6M190.0 419.8L192.9 420.6L192.0 417.8" stroke-opacity="0.90" stroke-width="1.4"/><path d="M183.0 418.1L192.7 428.2M189.9 427.3L192.7 428.2L191.9 425.3" stroke-opacity="0.90" stroke-width="1.4"/><path d="M183.2 425.4L192.5 435.8M189.7 434.8L192.5 435.8L191.8 432.9" stroke-opacity="0.90" stroke-width="1.4"/><path d="M183.3 502.9L192.4 492.4M191.8 495.3L192.4 492.4L189.7 493.4" stroke-opacity="0.90" stroke-width="1.4"/><path d="M183.0 510.2L192.7 500.0M191.9 502.9L192.7 500.0L189.8 500.9" stroke-opacity="0.90" stroke-width="1.4"/><path d="M182.9 517.5L192.8 507.6M192.0 510.5L192.8 507.6L190.0 508.4" stroke-opacity="0.90" stroke-width="1.4"/><path d="M184.9 522.8L190.8 517.2M189.8 520.1L190.8 517.2L187.9 518.0" stroke-opacity="0.45" stroke-width="1.0"/><path d="M186.0 528.2L189.7 526.7M188.3 528.5L189.7 526.7L187.4 526.4" stroke-opacity="0.22" stroke-width="0.9"/><path d="M194.0 399.8L197.5 401.8M195.2 401.8L197.5 401.8L196.3 399.8" stroke-opacity="0.22" stroke-width="0.9"/><path d="M193.2 405.2L198.3 411.3M195.5 410.2L198.3 411.3L197.7 408.4" stroke-opacity="0.45" stroke-width="1.0"/><path d="M191.5 410.1L200.0 421.3M197.2 420.1L200.0 421.3L199.5 418.4" stroke-opacity="0.90" stroke-width="1.4"/><path d="M191.8 417.4L199.7 428.9M197.0 427.6L199.7 428.9L199.4 426.0" stroke-opacity="0.90" stroke-width="1.4"/><path d="M192.2 424.5L199.3 436.7M196.7 435.1L199.3 436.7L199.2 433.7" stroke-opacity="0.90" stroke-width="1.4"/><path d="M192.8 431.7L198.6 444.4M196.3 442.6L198.6 444.4L198.9 441.5" stroke-opacity="0.90" stroke-width="1.4"/><path d="M193.1 496.7L198.4 483.7M198.7 486.7L198.4 483.7L196.1 485.6" stroke-opacity="0.90" stroke-width="1.4"/><path d="M192.4 503.8L199.1 491.5M199.1 494.5L199.1 491.5L196.6 493.1" stroke-opacity="0.90" stroke-width="1.4"/><path d="M191.9 511.0L199.6 499.2M199.3 502.2L199.6 499.2L196.9 500.6" stroke-opacity="0.90" stroke-width="1.4"/><path d="M191.6 518.2L199.9 506.9M199.5 509.8L199.9 506.9L197.2 508.2" stroke-opacity="0.90" stroke-width="1.4"/><path d="M193.2 523.1L198.2 516.9M197.7 519.8L198.2 516.9L195.5 518.0" stroke-opacity="0.45" stroke-width="1.0"/><path d="M194.0 528.4L197.5 526.5M196.3 528.4L197.5 526.5L195.2 526.5" stroke-opacity="0.22" stroke-width="0.9"/><path d="M202.0 399.6L205.3 402.0M203.0 401.7L205.3 402.0L204.3 399.9" stroke-opacity="0.22" stroke-width="0.9"/><path d="M202.0 407.0L205.2 409.5M203.0 409.1L205.2 409.5L204.3 407.4" stroke-opacity="0.22" stroke-width="0.9"/><path d="M201.7 412.2L205.6 419.2M203.1 417.6L205.6 419.2L205.6 416.2" stroke-opacity="0.45" stroke-width="1.0"/><path d="M200.6 416.8L206.6 429.5M204.2 427.7L206.6 429.5L206.8 426.5" stroke-opacity="0.90" stroke-width="1.4"/><path d="M201.2 424.0L206.1 437.2M203.8 435.2L206.1 437.2L206.5 434.2" stroke-opacity="0.90" stroke-width="1.4"/><path d="M202.0 431.2L205.3 444.9M203.3 442.7L205.3 444.9L206.1 442.0" stroke-opacity="0.90" stroke-width="1.4"/><path d="M202.1 446.8L205.2 444.2M204.3 446.3L205.2 444.2L202.9 444.7" stroke-opacity="0.25" stroke-width="1.0"/><path d="M202.2 488.8L205.0 491.6M202.8 491.0L205.0 491.6L204.4 489.4" stroke-opacity="0.25" stroke-width="1.0"/><path d="M201.4 504.3L205.9 491.0M206.4 493.9L205.9 491.0L203.7 493.0" stroke-opacity="0.90" stroke-width="1.4"/><path d="M200.8 511.5L206.5 498.7M206.7 501.7L206.5 498.7L204.1 500.5" stroke-opacity="0.90" stroke-width="1.4"/><path d="M200.3 518.7L206.9 506.4M207.0 509.3L206.9 506.4L204.4 508.0" stroke-opacity="0.90" stroke-width="1.4"/><path d="M201.5 523.4L205.7 516.6M205.6 519.6L205.7 516.6L203.1 518.1" stroke-opacity="0.45" stroke-width="1.0"/><path d="M202.0 528.6L205.2 526.3M204.3 528.3L205.2 526.3L203.0 526.6" stroke-opacity="0.22" stroke-width="0.9"/><path d="M210.0 399.5L213.0 402.1M210.8 401.6L213.0 402.1L212.2 400.0" stroke-opacity="0.22" stroke-width="0.9"/><path d="M210.1 406.9L213.0 409.6M210.8 409.0L213.0 409.6L212.3 407.5" stroke-opacity="0.22" stroke-width="0.9"/><path d="M210.0 412.0L213.0 419.4M210.7 417.5L213.0 419.4L213.4 416.5" stroke-opacity="0.45" stroke-width="1.0"/><path d="M209.4 416.5L213.7 429.8M211.5 427.8L213.7 429.8L214.2 426.9" stroke-opacity="0.90" stroke-width="1.4"/><path d="M210.4 428.9L212.6 432.3M210.6 431.2L212.6 432.3L212.4 430.0" stroke-opacity="0.22" stroke-width="0.9"/><path d="M208.9 440.3L214.2 435.8M213.1 438.6L214.2 435.8L211.3 436.4" stroke-opacity="0.60" stroke-width="1.1"/><path d="M208.5 447.3L214.5 443.7M213.0 446.2L214.5 443.7L211.5 443.8" stroke-opacity="0.60" stroke-width="1.1"/><path d="M209.7 453.7L213.4 452.2M211.9 454.0L213.4 452.2L211.1 451.9" stroke-opacity="0.25" stroke-width="1.0"/><path d="M209.5 460.7L213.5 460.1M211.7 461.5L213.5 460.1L211.4 459.3" stroke-opacity="0.25" stroke-width="1.0"/><path d="M209.5 467.7L213.5 468.0M211.4 468.9L213.5 468.0L211.6 466.8" stroke-opacity="0.25" stroke-width="1.0"/><path d="M209.6 474.7L213.4 475.9M211.2 476.3L213.4 475.9L211.9 474.3" stroke-opacity="0.25" stroke-width="1.0"/><path d="M208.5 481.1L214.6 484.4M211.6 484.4L214.6 484.4L213.0 481.9" stroke-opacity="0.60" stroke-width="1.1"/><path d="M208.8 488.0L214.3 492.4M211.3 491.9L214.3 492.4L213.1 489.6" stroke-opacity="0.60" stroke-width="1.1"/><path d="M209.1 495.2L214.0 500.1M211.1 499.3L214.0 500.1L213.2 497.3" stroke-opacity="0.60" stroke-width="1.1"/><path d="M209.5 511.8L213.5 498.4M214.1 501.3L213.5 498.4L211.4 500.5" stroke-opacity="0.90" stroke-width="1.4"/><path d="M210.1 516.3L213.0 508.8M213.4 511.8L213.0 508.8L210.7 510.7" stroke-opacity="0.45" stroke-width="1.0"/><path d="M210.1 521.4L212.9 518.6M212.3 520.8L212.9 518.6L210.7 519.2" stroke-opacity="0.22" stroke-width="0.9"/><path d="M210.0 528.8L213.0 526.1M212.3 528.3L213.0 526.1L210.8 526.6" stroke-opacity="0.22" stroke-width="0.9"/><path d="M218.0 399.3L220.8 402.3M218.6 401.6L220.8 402.3L220.2 400.0" stroke-opacity="0.12" stroke-width="0.9"/><path d="M218.1 406.7L220.7 409.8M218.6 409.0L220.7 409.8L220.3 407.5" stroke-opacity="0.22" stroke-width="0.9"/><path d="M218.2 414.1L220.6 417.3M218.5 416.4L220.6 417.3L220.3 415.0" stroke-opacity="0.22" stroke-width="0.9"/><path d="M218.4 421.4L220.5 424.9M218.5 423.7L220.5 424.9L220.3 422.6" stroke-opacity="0.22" stroke-width="0.9"/><path d="M218.5 428.8L220.3 432.4M218.4 431.1L220.3 432.4L220.4 430.1" stroke-opacity="0.22" stroke-width="0.9"/><path d="M217.8 439.2L221.1 436.9M220.0 439.0L221.1 436.9L218.8 437.1" stroke-opacity="0.25" stroke-width="1.0"/><path d="M216.3 447.1L222.5 443.9M220.9 446.4L222.5 443.9L219.6 443.8" stroke-opacity="0.60" stroke-width="1.1"/><path d="M216.1 454.0L222.8 451.9M220.7 454.1L222.8 451.9L219.8 451.3" stroke-opacity="0.60" stroke-width="1.1"/><path d="M215.9 460.8L222.9 460.0M220.5 461.7L222.9 460.0L220.1 458.9" stroke-opacity="0.60" stroke-width="1.1"/><path d="M215.9 467.6L222.9 468.1M220.2 469.3L222.9 468.1L220.4 466.5" stroke-opacity="0.60" stroke-width="1.1"/><path d="M216.0 474.4L222.8 476.2M219.9 476.9L222.8 476.2L220.6 474.1" stroke-opacity="0.60" stroke-width="1.1"/><path d="M216.2 481.3L222.6 484.2M219.7 484.4L222.6 484.2L220.8 481.8" stroke-opacity="0.60" stroke-width="1.1"/><path d="M216.4 488.3L222.4 492.1M219.4 491.9L222.4 492.1L220.9 489.5" stroke-opacity="0.60" stroke-width="1.1"/><path d="M217.9 496.4L221.0 498.9M218.7 498.5L221.0 498.9L220.1 496.8" stroke-opacity="0.25" stroke-width="1.0"/><path d="M218.4 506.8L220.4 503.4M220.4 505.7L220.4 503.4L218.5 504.5" stroke-opacity="0.22" stroke-width="0.9"/><path d="M218.3 514.2L220.6 510.9M220.3 513.2L220.6 510.9L218.5 511.9" stroke-opacity="0.22" stroke-width="0.9"/><path d="M218.1 521.6L220.7 518.4M220.3 520.7L220.7 518.4L218.6 519.3" stroke-opacity="0.22" stroke-width="0.9"/><path d="M218.1 528.9L220.8 526.0M220.2 528.2L220.8 526.0L218.6 526.7" stroke-opacity="0.22" stroke-width="0.9"/><path d="M226.1 399.2L228.5 402.4M226.4 401.5L228.5 402.4L228.2 400.1" stroke-opacity="0.12" stroke-width="0.9"/><path d="M226.1 406.6L228.5 409.9M226.4 408.9L228.5 409.9L228.2 407.6" stroke-opacity="0.22" stroke-width="0.9"/><path d="M226.3 414.0L228.3 417.4M226.4 416.3L228.3 417.4L228.2 415.1" stroke-opacity="0.22" stroke-width="0.9"/><path d="M226.4 421.4L228.2 424.9M226.3 423.6L228.2 424.9L228.3 422.7" stroke-opacity="0.22" stroke-width="0.9"/><path d="M226.6 428.7L228.0 432.5M226.3 431.0L228.0 432.5L228.3 430.2" stroke-opacity="0.22" stroke-width="0.9"/><path d="M225.6 439.0L229.0 437.1M227.8 439.0L229.0 437.1L226.8 437.1" stroke-opacity="0.25" stroke-width="1.0"/><path d="M225.5 446.3L229.1 444.7M227.7 446.5L229.1 444.7L226.9 444.5" stroke-opacity="0.25" stroke-width="1.0"/><path d="M225.4 453.4L229.2 452.5M227.6 454.0L229.2 452.5L227.0 451.9" stroke-opacity="0.25" stroke-width="1.0"/><path d="M223.8 460.8L230.8 460.0M228.3 461.7L230.8 460.0L228.1 458.9" stroke-opacity="0.60" stroke-width="1.1"/><path d="M223.8 467.7L230.8 468.0M228.1 469.3L230.8 468.0L228.3 466.5" stroke-opacity="0.60" stroke-width="1.1"/><path d="M225.3 474.9L229.3 475.7M227.1 476.4L229.3 475.7L227.5 474.2" stroke-opacity="0.25" stroke-width="1.0"/><path d="M225.4 482.1L229.2 483.4M226.9 483.8L229.2 483.4L227.7 481.7" stroke-opacity="0.25" stroke-width="1.0"/><path d="M225.5 489.3L229.1 491.1M226.8 491.2L229.1 491.1L227.8 489.2" stroke-opacity="0.25" stroke-width="1.0"/><path d="M225.6 496.5L229.0 498.8M226.7 498.6L229.0 498.8L227.9 496.7" stroke-opacity="0.25" stroke-width="1.0"/><path d="M226.5 506.9L228.1 503.3M228.3 505.6L228.1 503.3L226.3 504.6" stroke-opacity="0.22" stroke-width="0.9"/><path d="M226.3 514.3L228.3 510.8M228.3 513.1L228.3 510.8L226.3 512.0" stroke-opacity="0.22" stroke-width="0.9"/><path d="M226.2 521.7L228.4 518.3M228.2 520.6L228.4 518.3L226.4 519.4" stroke-opacity="0.22" stroke-width="0.9"/><path d="M226.1 529.0L228.5 525.9M228.2 528.1L228.5 525.9L226.4 526.8" stroke-opacity="0.12" stroke-width="0.9"/><path d="M234.1 399.1L236.3 402.5M234.3 401.4L236.3 402.5L236.1 400.2" stroke-opacity="0.12" stroke-width="0.9"/><path d="M234.2 406.5L236.2 410.0M234.2 408.8L236.2 410.0L236.1 407.7" stroke-opacity="0.12" stroke-width="0.9"/><path d="M234.3 413.9L236.1 417.5M234.2 416.2L236.1 417.5L236.2 415.2" stroke-opacity="0.22" stroke-width="0.9"/><path d="M234.4 421.3L235.9 425.0M234.2 423.6L235.9 425.0L236.2 422.7" stroke-opacity="0.22" stroke-width="0.9"/><path d="M234.6 428.7L235.8 432.5M234.1 430.9L235.8 432.5L236.2 430.3" stroke-opacity="0.22" stroke-width="0.9"/><path d="M233.4 438.9L237.0 437.2M235.7 439.0L237.0 437.2L234.7 437.1" stroke-opacity="0.25" stroke-width="1.0"/><path d="M233.3 446.2L237.1 444.8M235.6 446.5L237.1 444.8L234.8 444.5" stroke-opacity="0.25" stroke-width="1.0"/><path d="M233.2 453.4L237.1 452.5M235.4 454.0L237.1 452.5L235.0 451.9" stroke-opacity="0.25" stroke-width="1.0"/><path d="M233.2 460.6L237.2 460.2M235.3 461.5L237.2 460.2L235.1 459.3" stroke-opacity="0.25" stroke-width="1.0"/><path d="M233.2 467.8L237.2 467.9M235.1 468.9L237.2 467.9L235.2 466.8" stroke-opacity="0.25" stroke-width="1.0"/><path d="M233.2 474.9L237.2 475.7M235.0 476.4L237.2 475.7L235.4 474.2" stroke-opacity="0.25" stroke-width="1.0"/><path d="M233.3 482.1L237.1 483.4M234.9 483.8L237.1 483.4L235.5 481.7" stroke-opacity="0.25" stroke-width="1.0"/><path d="M233.4 489.4L237.0 491.0M234.7 491.2L237.0 491.0L235.6 489.2" stroke-opacity="0.25" stroke-width="1.0"/><path d="M233.5 496.6L236.9 498.7M234.6 498.6L236.9 498.7L235.7 496.7" stroke-opacity="0.25" stroke-width="1.0"/><path d="M234.5 507.0L235.9 503.2M236.2 505.5L235.9 503.2L234.2 504.7" stroke-opacity="0.22" stroke-width="0.9"/><path d="M234.3 514.4L236.1 510.7M236.2 513.0L236.1 510.7L234.2 512.1" stroke-opacity="0.22" stroke-width="0.9"/><path d="M234.2 521.7L236.2 518.3M236.1 520.5L236.2 518.3L234.2 519.5" stroke-opacity="0.12" stroke-width="0.9"/><path d="M234.1 529.1L236.3 525.8M236.1 528.1L236.3 525.8L234.3 526.8" stroke-opacity="0.12" stroke-width="0.9"/><path d="M242.1 399.1L244.1 402.5M242.1 401.4L244.1 402.5L244.0 400.2" stroke-opacity="0.12" stroke-width="0.9"/><path d="M242.2 406.5L244.0 410.0M242.1 408.7L244.0 410.0L244.1 407.8" stroke-opacity="0.12" stroke-width="0.9"/><path d="M242.3 413.9L243.9 417.5M242.1 416.1L243.9 417.5L244.1 415.3" stroke-opacity="0.12" stroke-width="0.9"/><path d="M242.4 421.3L243.7 425.0M242.0 423.5L243.7 425.0L244.1 422.8" stroke-opacity="0.12" stroke-width="0.9"/><path d="M242.6 428.7L243.6 432.5M242.0 430.9L243.6 432.5L244.1 430.3" stroke-opacity="0.22" stroke-width="0.9"/><path d="M242.8 436.1L243.4 440.0M242.0 438.2L243.4 440.0L244.2 437.9" stroke-opacity="0.22" stroke-width="0.9"/><path d="M243.0 443.5L243.2 447.5M242.0 445.5L243.2 447.5L244.2 445.5" stroke-opacity="0.22" stroke-width="0.9"/><path d="M243.2 451.0L242.9 454.9M242.0 452.9L242.9 454.9L244.2 453.0" stroke-opacity="0.22" stroke-width="0.9"/><path d="M243.5 458.4L242.7 462.4M242.0 460.2L242.7 462.4L244.2 460.6" stroke-opacity="0.22" stroke-width="0.9"/><path d="M243.5 469.8L242.6 465.9M244.2 467.6L242.6 465.9L242.0 468.1" stroke-opacity="0.22" stroke-width="0.9"/><path d="M243.3 477.3L242.9 473.3M244.2 475.2L242.9 473.3L242.0 475.4" stroke-opacity="0.22" stroke-width="0.9"/><path d="M243.1 484.7L243.1 480.8M244.2 482.8L243.1 480.8L242.0 482.7" stroke-opacity="0.22" stroke-width="0.9"/><path d="M242.9 492.2L243.3 488.2M244.2 490.3L243.3 488.2L242.0 490.1" stroke-opacity="0.22" stroke-width="0.9"/><path d="M242.7 499.6L243.5 495.7M244.2 497.9L243.5 495.7L242.0 497.4" stroke-opacity="0.22" stroke-width="0.9"/><path d="M242.5 507.0L243.7 503.2M244.1 505.4L243.7 503.2L242.0 504.8" stroke-opacity="0.22" stroke-width="0.9"/><path d="M242.3 514.4L243.8 510.7M244.1 513.0L243.8 510.7L242.1 512.1" stroke-opacity="0.12" stroke-width="0.9"/><path d="M242.2 521.8L244.0 518.2M244.1 520.5L244.0 518.2L242.1 519.5" stroke-opacity="0.12" stroke-width="0.9"/><path d="M242.1 529.2L244.1 525.7M244.0 528.0L244.1 525.7L242.1 526.9" stroke-opacity="0.12" stroke-width="0.9"/><path d="M250.1 399.0L251.9 402.6M250.0 401.3L251.9 402.6L251.9 400.3" stroke-opacity="0.12" stroke-width="0.9"/><path d="M250.2 406.4L251.8 410.1M250.0 408.7L251.8 410.1L252.0 407.8" stroke-opacity="0.12" stroke-width="0.9"/><path d="M250.3 413.8L251.6 417.6M249.9 416.1L251.6 417.6L252.0 415.3" stroke-opacity="0.12" stroke-width="0.9"/><path d="M250.4 421.2L251.5 425.1M249.9 423.4L251.5 425.1L252.0 422.9" stroke-opacity="0.12" stroke-width="0.9"/><path d="M250.6 428.6L251.3 432.6M249.9 430.8L251.3 432.6L252.1 430.4" stroke-opacity="0.12" stroke-width="0.9"/><path d="M250.8 436.1L251.2 440.0M249.9 438.2L251.2 440.0L252.1 437.9" stroke-opacity="0.12" stroke-width="0.9"/><path d="M251.0 443.5L251.0 447.5M249.9 445.5L251.0 447.5L252.1 445.5" stroke-opacity="0.22" stroke-width="0.9"/><path d="M251.2 451.0L250.8 454.9M249.9 452.8L250.8 454.9L252.1 453.1" stroke-opacity="0.22" stroke-width="0.9"/><path d="M251.4 458.4L250.6 462.4M249.9 460.2L250.6 462.4L252.0 460.6" stroke-opacity="0.22" stroke-width="0.9"/><path d="M251.4 469.8L250.5 465.9M252.0 467.6L250.5 465.9L249.9 468.1" stroke-opacity="0.22" stroke-width="0.9"/><path d="M251.2 477.3L250.7 473.3M252.1 475.2L250.7 473.3L249.9 475.4" stroke-opacity="0.22" stroke-width="0.9"/><path d="M251.0 484.7L250.9 480.8M252.1 482.7L250.9 480.8L249.9 482.8" stroke-opacity="0.22" stroke-width="0.9"/><path d="M250.8 492.2L251.1 488.2M252.1 490.3L251.1 488.2L249.9 490.1" stroke-opacity="0.12" stroke-width="0.9"/><path d="M250.6 499.6L251.3 495.7M252.1 497.8L251.3 495.7L249.9 497.5" stroke-opacity="0.12" stroke-width="0.9"/><path d="M250.5 507.0L251.5 503.2M252.0 505.4L251.5 503.2L249.9 504.8" stroke-opacity="0.12" stroke-width="0.9"/><path d="M250.3 514.4L251.6 510.7M252.0 512.9L251.6 510.7L249.9 512.2" stroke-opacity="0.12" stroke-width="0.9"/><path d="M250.2 521.8L251.7 518.2M252.0 520.4L251.7 518.2L250.0 519.6" stroke-opacity="0.12" stroke-width="0.9"/><path d="M250.1 529.2L251.9 525.7M252.0 527.9L251.9 525.7L250.0 527.0" stroke-opacity="0.12" stroke-width="0.9"/><path d="M258.0 399.0L259.7 402.6M257.9 401.2L259.7 402.6L259.9 400.4" stroke-opacity="0.12" stroke-width="0.9"/><path d="M258.2 406.4L259.6 410.1M257.8 408.6L259.6 410.1L259.9 407.9" stroke-opacity="0.12" stroke-width="0.9"/><path d="M258.3 413.8L259.4 417.6M257.8 416.0L259.4 417.6L259.9 415.4" stroke-opacity="0.12" stroke-width="0.9"/><path d="M258.4 421.2L259.3 425.1M257.8 423.4L259.3 425.1L259.9 422.9" stroke-opacity="0.12" stroke-width="0.9"/><path d="M258.6 428.6L259.2 432.6M257.8 430.8L259.2 432.6L259.9 430.4" stroke-opacity="0.12" stroke-width="0.9"/><path d="M258.7 436.1L259.0 440.0M257.8 438.1L259.0 440.0L260.0 438.0" stroke-opacity="0.12" stroke-width="0.9"/><path d="M258.9 443.5L258.8 447.5M257.8 445.5L258.8 447.5L260.0 445.5" stroke-opacity="0.12" stroke-width="0.9"/><path d="M259.1 451.0L258.6 454.9M257.8 452.8L258.6 454.9L260.0 453.1" stroke-opacity="0.12" stroke-width="0.9"/><path d="M259.3 458.4L258.5 462.4M257.8 460.2L258.5 462.4L259.9 460.6" stroke-opacity="0.12" stroke-width="0.9"/><path d="M259.3 469.8L258.4 465.9M259.9 467.6L258.4 465.9L257.8 468.1" stroke-opacity="0.12" stroke-width="0.9"/><path d="M259.1 477.3L258.6 473.3M260.0 475.2L258.6 473.3L257.8 475.4" stroke-opacity="0.12" stroke-width="0.9"/><path d="M258.9 484.7L258.8 480.8M260.0 482.7L258.8 480.8L257.8 482.8" stroke-opacity="0.12" stroke-width="0.9"/><path d="M258.8 492.2L258.9 488.2M260.0 490.2L258.9 488.2L257.8 490.2" stroke-opacity="0.12" stroke-width="0.9"/><path d="M258.6 499.6L259.1 495.7M260.0 497.8L259.1 495.7L257.8 497.5" stroke-opacity="0.12" stroke-width="0.9"/><path d="M258.5 507.1L259.3 503.1M259.9 505.3L259.3 503.1L257.8 504.9" stroke-opacity="0.12" stroke-width="0.9"/><path d="M258.3 514.5L259.4 510.6M259.9 512.9L259.4 510.6L257.8 512.2" stroke-opacity="0.12" stroke-width="0.9"/><path d="M258.2 521.9L259.5 518.1M259.9 520.4L259.5 518.1L257.8 519.6" stroke-opacity="0.12" stroke-width="0.9"/><path d="M258.1 529.3L259.6 525.6M259.9 527.9L259.6 525.6L257.8 527.0" stroke-opacity="0.12" stroke-width="0.9"/><path d="M266.0 398.9L267.5 402.7M265.7 401.2L267.5 402.7L267.8 400.4" stroke-opacity="0.12" stroke-width="0.9"/><path d="M266.1 406.3L267.4 410.2M265.7 408.6L267.4 410.2L267.8 407.9" stroke-opacity="0.12" stroke-width="0.9"/><path d="M266.2 413.8L267.3 417.6M265.7 416.0L267.3 417.6L267.8 415.4" stroke-opacity="0.12" stroke-width="0.9"/><path d="M266.4 421.2L267.1 425.1M265.7 423.4L267.1 425.1L267.8 422.9" stroke-opacity="0.12" stroke-width="0.9"/><path d="M266.5 428.6L267.0 432.6M265.7 430.7L267.0 432.6L267.8 430.5" stroke-opacity="0.12" stroke-width="0.9"/><path d="M266.7 436.1L266.8 440.0M265.7 438.1L266.8 440.0L267.8 438.0" stroke-opacity="0.12" stroke-width="0.9"/><path d="M266.8 443.5L266.7 447.5M265.7 445.5L266.7 447.5L267.8 445.5" stroke-opacity="0.12" stroke-width="0.9"/><path d="M267.0 451.0L266.5 454.9M265.7 452.8L266.5 454.9L267.8 453.1" stroke-opacity="0.12" stroke-width="0.9"/><path d="M267.2 458.4L266.3 462.4M265.7 460.2L266.3 462.4L267.8 460.6" stroke-opacity="0.12" stroke-width="0.9"/><path d="M267.2 469.8L266.3 465.9M267.8 467.6L266.3 465.9L265.7 468.1" stroke-opacity="0.12" stroke-width="0.9"/><path d="M267.0 477.3L266.5 473.3M267.8 475.1L266.5 473.3L265.7 475.5" stroke-opacity="0.12" stroke-width="0.9"/><path d="M266.9 484.7L266.6 480.8M267.8 482.7L266.6 480.8L265.7 482.8" stroke-opacity="0.12" stroke-width="0.9"/><path d="M266.7 492.2L266.8 488.2M267.8 490.2L266.8 488.2L265.7 490.2" stroke-opacity="0.12" stroke-width="0.9"/><path d="M266.6 499.6L266.9 495.7M267.8 497.8L266.9 495.7L265.7 497.5" stroke-opacity="0.12" stroke-width="0.9"/><path d="M266.4 507.1L267.1 503.1M267.8 505.3L267.1 503.1L265.7 504.9" stroke-opacity="0.12" stroke-width="0.9"/><path d="M266.3 514.5L267.2 510.6M267.8 512.8L267.2 510.6L265.7 512.3" stroke-opacity="0.12" stroke-width="0.9"/><path d="M266.2 521.9L267.3 518.1M267.8 520.3L267.3 518.1L265.7 519.7" stroke-opacity="0.12" stroke-width="0.9"/><path d="M266.0 529.3L267.5 525.6M267.8 527.8L267.5 525.6L265.7 527.1" stroke-opacity="0.12" stroke-width="0.9"/><path d="M274.0 398.9L275.3 402.7M273.6 401.2L275.3 402.7L275.7 400.4" stroke-opacity="0.12" stroke-width="0.9"/><path d="M274.1 406.3L275.2 410.2M273.6 408.6L275.2 410.2L275.7 407.9" stroke-opacity="0.12" stroke-width="0.9"/><path d="M274.2 413.7L275.1 417.7M273.6 415.9L275.1 417.7L275.7 415.5" stroke-opacity="0.12" stroke-width="0.9"/><path d="M274.3 421.2L274.9 425.1M273.6 423.3L274.9 425.1L275.7 423.0" stroke-opacity="0.12" stroke-width="0.9"/><path d="M274.5 428.6L274.8 432.6M273.5 430.7L274.8 432.6L275.7 430.5" stroke-opacity="0.12" stroke-width="0.9"/><path d="M274.6 436.1L274.7 440.0M273.5 438.1L274.7 440.0L275.7 438.0" stroke-opacity="0.12" stroke-width="0.9"/><path d="M274.8 443.5L274.5 447.5M273.5 445.4L274.5 447.5L275.7 445.6" stroke-opacity="0.12" stroke-width="0.9"/><path d="M274.9 451.0L274.4 454.9M273.5 452.8L274.4 454.9L275.7 453.1" stroke-opacity="0.12" stroke-width="0.9"/><path d="M275.1 458.4L274.2 462.4M273.6 460.2L274.2 462.4L275.7 460.6" stroke-opacity="0.12" stroke-width="0.9"/><path d="M275.1 469.8L274.2 465.9M275.7 467.6L274.2 465.9L273.6 468.1" stroke-opacity="0.12" stroke-width="0.9"/><path d="M275.0 477.3L274.3 473.3M275.7 475.1L274.3 473.3L273.6 475.5" stroke-opacity="0.12" stroke-width="0.9"/><path d="M274.8 484.7L274.5 480.8M275.7 482.7L274.5 480.8L273.5 482.8" stroke-opacity="0.12" stroke-width="0.9"/><path d="M274.6 492.2L274.6 488.2M275.7 490.2L274.6 488.2L273.5 490.2" stroke-opacity="0.12" stroke-width="0.9"/><path d="M274.5 499.6L274.8 495.7M275.7 497.7L274.8 495.7L273.5 497.6" stroke-opacity="0.12" stroke-width="0.9"/><path d="M274.4 507.1L274.9 503.1M275.7 505.2L274.9 503.1L273.6 505.0" stroke-opacity="0.12" stroke-width="0.9"/><path d="M274.2 514.5L275.0 510.6M275.7 512.8L275.0 510.6L273.6 512.3" stroke-opacity="0.12" stroke-width="0.9"/><path d="M274.1 521.9L275.2 518.1M275.7 520.3L275.2 518.1L273.6 519.7" stroke-opacity="0.12" stroke-width="0.9"/><path d="M274.0 529.3L275.3 525.6M275.7 527.8L275.3 525.6L273.6 527.1" stroke-opacity="0.12" stroke-width="0.9"/><path d="M281.9 398.9L283.1 402.7M281.5 401.1L283.1 402.7L283.6 400.5" stroke-opacity="0.12" stroke-width="0.9"/><path d="M282.0 406.3L283.0 410.2M281.5 408.5L283.0 410.2L283.6 408.0" stroke-opacity="0.12" stroke-width="0.9"/><path d="M282.2 413.7L282.9 417.7M281.4 415.9L282.9 417.7L283.6 415.5" stroke-opacity="0.12" stroke-width="0.9"/><path d="M282.3 421.2L282.8 425.1M281.4 423.3L282.8 425.1L283.6 423.0" stroke-opacity="0.12" stroke-width="0.9"/><path d="M282.4 428.6L282.7 432.6M281.4 430.7L282.7 432.6L283.6 430.5" stroke-opacity="0.12" stroke-width="0.9"/><path d="M282.5 436.1L282.5 440.0M281.4 438.0L282.5 440.0L283.6 438.1" stroke-opacity="0.12" stroke-width="0.9"/><path d="M282.7 443.5L282.4 447.5M281.4 445.4L282.4 447.5L283.6 445.6" stroke-opacity="0.12" stroke-width="0.9"/><path d="M282.8 451.0L282.2 454.9M281.4 452.8L282.2 454.9L283.6 453.1" stroke-opacity="0.12" stroke-width="0.9"/><path d="M283.0 458.4L282.1 462.4M281.5 460.2L282.1 462.4L283.6 460.6" stroke-opacity="0.12" stroke-width="0.9"/><path d="M283.0 469.8L282.1 465.9M283.6 467.6L282.1 465.9L281.5 468.1" stroke-opacity="0.12" stroke-width="0.9"/><path d="M282.9 477.3L282.2 473.3M283.6 475.1L282.2 473.3L281.4 475.5" stroke-opacity="0.12" stroke-width="0.9"/><path d="M282.7 484.7L282.3 480.8M283.6 482.6L282.3 480.8L281.4 482.9" stroke-opacity="0.12" stroke-width="0.9"/><path d="M282.6 492.2L282.5 488.2M283.6 490.2L282.5 488.2L281.4 490.2" stroke-opacity="0.12" stroke-width="0.9"/><path d="M282.4 499.6L282.6 495.7M283.6 497.7L282.6 495.7L281.4 497.6" stroke-opacity="0.12" stroke-width="0.9"/><path d="M282.3 507.1L282.7 503.1M283.6 505.2L282.7 503.1L281.4 505.0" stroke-opacity="0.12" stroke-width="0.9"/><path d="M282.2 514.5L282.9 510.6M283.6 512.7L282.9 510.6L281.4 512.4" stroke-opacity="0.12" stroke-width="0.9"/><path d="M282.1 521.9L283.0 518.1M283.6 520.2L283.0 518.1L281.5 519.8" stroke-opacity="0.12" stroke-width="0.9"/><path d="M282.0 529.4L283.1 525.5M283.6 527.8L283.1 525.5L281.5 527.1" stroke-opacity="0.12" stroke-width="0.9"/><path d="M289.9 398.9L290.9 402.7M289.4 401.1L290.9 402.7L291.5 400.5" stroke-opacity="0.12" stroke-width="0.9"/><path d="M290.0 406.3L290.8 410.2M289.3 408.5L290.8 410.2L291.5 408.0" stroke-opacity="0.12" stroke-width="0.9"/><path d="M290.1 413.7L290.7 417.7M289.3 415.9L290.7 417.7L291.5 415.5" stroke-opacity="0.12" stroke-width="0.9"/><path d="M290.2 421.2L290.6 425.1M289.3 423.3L290.6 425.1L291.5 423.0" stroke-opacity="0.12" stroke-width="0.9"/><path d="M290.3 428.6L290.5 432.6M289.3 430.6L290.5 432.6L291.5 430.6" stroke-opacity="0.12" stroke-width="0.9"/><path d="M290.5 436.1L290.4 440.0M289.3 438.0L290.4 440.0L291.5 438.1" stroke-opacity="0.12" stroke-width="0.9"/><path d="M290.6 443.5L290.2 447.5M289.3 445.4L290.2 447.5L291.5 445.6" stroke-opacity="0.12" stroke-width="0.9"/><path d="M290.7 451.0L290.1 454.9M289.3 452.8L290.1 454.9L291.5 453.1" stroke-opacity="0.12" stroke-width="0.9"/><path d="M290.9 458.4L290.0 462.4M289.3 460.2L290.0 462.4L291.5 460.6" stroke-opacity="0.12" stroke-width="0.9"/><path d="M290.9 469.8L289.9 465.9M291.5 467.6L289.9 465.9L289.4 468.1" stroke-opacity="0.12" stroke-width="0.9"/><path d="M290.8 477.3L290.1 473.3M291.5 475.1L290.1 473.3L289.3 475.5" stroke-opacity="0.12" stroke-width="0.9"/><path d="M290.6 484.7L290.2 480.8M291.5 482.6L290.2 480.8L289.3 482.9" stroke-opacity="0.12" stroke-width="0.9"/><path d="M290.5 492.2L290.3 488.2M291.5 490.2L290.3 488.2L289.3 490.2" stroke-opacity="0.12" stroke-width="0.9"/><path d="M290.4 499.6L290.5 495.7M291.5 497.7L290.5 495.7L289.3 497.6" stroke-opacity="0.12" stroke-width="0.9"/><path d="M290.3 507.1L290.6 503.1M291.5 505.2L290.6 503.1L289.3 505.0" stroke-opacity="0.12" stroke-width="0.9"/><path d="M290.1 514.5L290.7 510.6M291.5 512.7L290.7 510.6L289.3 512.4" stroke-opacity="0.12" stroke-width="0.9"/><path d="M290.0 522.0L290.8 518.0M291.5 520.2L290.8 518.0L289.3 519.8" stroke-opacity="0.12" stroke-width="0.9"/><path d="M289.9 529.4L290.9 525.5M291.5 527.7L290.9 525.5L289.4 527.2" stroke-opacity="0.12" stroke-width="0.9"/></g>
</g>
<ellipse cx="179.7" cy="465.2" rx="27.1" ry="25.0" fill="#fff" stroke="#a05020" stroke-width="0.6" stroke-opacity="0.7"/>
<circle cx="176.3" cy="464.9" r="34.2" fill="none" stroke="#404040" stroke-opacity="0.55" stroke-width="0.7"/>
<rect x="299.6" y="406.1" width="4.7" height="124.4" fill="url(#jetg)"/>
<g font-family="Liberation Serif" font-weight="bold" fill="#1a1a1a"><text x="41.4" y="407.8" font-size="11.6" textLength="23.4" lengthAdjust="spacingAndGlyphs">0.12</text><text x="31.7" y="533.2" font-size="11.6" textLength="32.6" lengthAdjust="spacingAndGlyphs">−0.12</text><text x="56.6" y="541.5" font-size="11.6" textLength="26.2" lengthAdjust="spacingAndGlyphs">−0.2</text><text x="285.2" y="544.3" font-size="11.6" textLength="17.2" lengthAdjust="spacingAndGlyphs">0.2</text><text x="163.4" y="543.0" font-size="11" textLength="29.9" lengthAdjust="spacingAndGlyphs">x (m)</text><text transform="translate(61.4,479.0) rotate(-90)" font-size="12.5" textLength="28.1" lengthAdjust="spacingAndGlyphs">y (m)</text><text x="307.2" y="412.1" font-size="10.4" textLength="15.2" lengthAdjust="spacingAndGlyphs">1.2</text><text x="305.6" y="531.7" font-size="11.6" textLength="6.6" lengthAdjust="spacingAndGlyphs">0</text><text x="296.3" y="401.7" font-size="11" textLength="45.3" lengthAdjust="spacingAndGlyphs"><tspan font-style="italic">E</tspan> (V/m)</text></g><text x="171.8" y="554.2" font-family="Liberation Sans" font-weight="bold" font-size="10" textLength="12.4" lengthAdjust="spacingAndGlyphs" fill="#222">(c)</text>
</svg>
</body></html>
